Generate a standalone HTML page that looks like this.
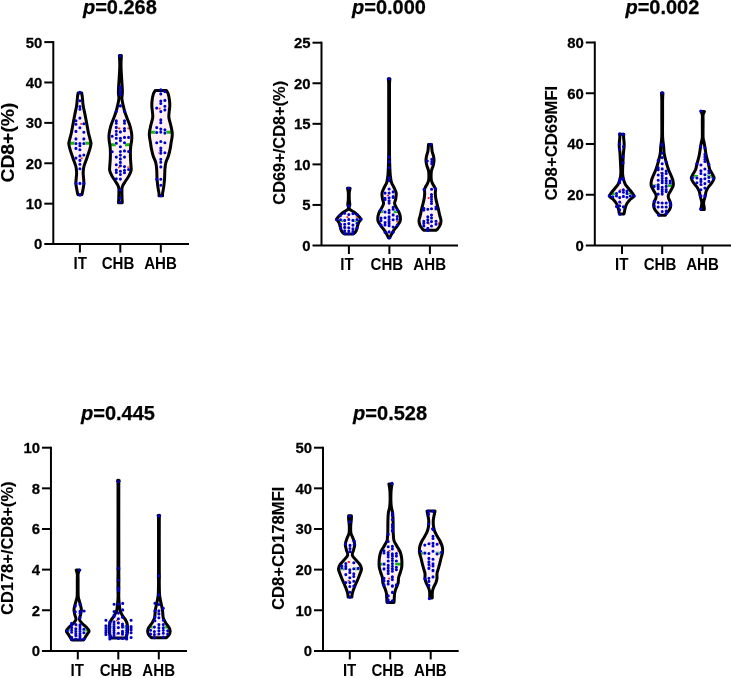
<!DOCTYPE html>
<html><head><meta charset="utf-8"><style>
html,body{margin:0;padding:0;background:#fff;width:731px;height:678px;overflow:hidden}
svg{filter:blur(0.3px)}
svg text{font-family:"Liberation Sans", sans-serif;fill:#000;stroke:#000;stroke-width:0.25px}
</style></head><body>
<svg width="731" height="678" viewBox="0 0 731 678" style="display:block">
<rect width="100%" height="100%" fill="#fff"/>
<path d="M53.3,41.1 V244.05" stroke="#000" stroke-width="2" fill="none"/>
<path d="M44.3,244.05 H189" stroke="#000" stroke-width="2" fill="none"/>
<text transform="translate(42.40,249.45) scale(0.975,1)" text-anchor="end" font-size="15.3" font-weight="bold">0</text>
<path d="M44.3,203.66 H53.3" stroke="#000" stroke-width="2"/>
<text transform="translate(42.40,209.06) scale(0.975,1)" text-anchor="end" font-size="15.3" font-weight="bold">10</text>
<path d="M44.3,163.27 H53.3" stroke="#000" stroke-width="2"/>
<text transform="translate(42.40,168.67) scale(0.975,1)" text-anchor="end" font-size="15.3" font-weight="bold">20</text>
<path d="M44.3,122.88 H53.3" stroke="#000" stroke-width="2"/>
<text transform="translate(42.40,128.28) scale(0.975,1)" text-anchor="end" font-size="15.3" font-weight="bold">30</text>
<path d="M44.3,82.49 H53.3" stroke="#000" stroke-width="2"/>
<text transform="translate(42.40,87.89) scale(0.975,1)" text-anchor="end" font-size="15.3" font-weight="bold">40</text>
<path d="M44.3,42.10 H53.3" stroke="#000" stroke-width="2"/>
<text transform="translate(42.40,47.50) scale(0.975,1)" text-anchor="end" font-size="15.3" font-weight="bold">50</text>
<path d="M79.9,244.05 V252.55" stroke="#000" stroke-width="2"/>
<text transform="translate(80.2,268.7) scale(0.95,1)" text-anchor="middle" font-size="15.9" font-weight="bold" style="stroke-width:0">IT</text>
<path d="M120.3,244.05 V252.55" stroke="#000" stroke-width="2"/>
<text transform="translate(118,268.7) scale(0.95,1)" text-anchor="middle" font-size="15.9" font-weight="bold" style="stroke-width:0">CHB</text>
<path d="M160.8,244.05 V252.55" stroke="#000" stroke-width="2"/>
<text transform="translate(160.5,268.7) scale(0.95,1)" text-anchor="middle" font-size="15.9" font-weight="bold" style="stroke-width:0">AHB</text>
<text x="119.9" y="14.4" text-anchor="middle" font-size="20" font-weight="bold"><tspan font-style="italic">p</tspan>=0.268</text>
<text transform="translate(14.0,142.55) rotate(-90)" text-anchor="middle" font-size="18.6" font-weight="bold" style="stroke-width:0.1px" textLength="80.0" lengthAdjust="spacingAndGlyphs">CD8+(%)</text>
<path d="M321.5,41.7 V245.5" stroke="#000" stroke-width="2" fill="none"/>
<path d="M312.5,245.5 H458" stroke="#000" stroke-width="2" fill="none"/>
<text transform="translate(310.60,250.90) scale(0.975,1)" text-anchor="end" font-size="15.3" font-weight="bold">0</text>
<path d="M312.5,204.94 H321.5" stroke="#000" stroke-width="2"/>
<text transform="translate(310.60,210.34) scale(0.975,1)" text-anchor="end" font-size="15.3" font-weight="bold">5</text>
<path d="M312.5,164.38 H321.5" stroke="#000" stroke-width="2"/>
<text transform="translate(310.60,169.78) scale(0.975,1)" text-anchor="end" font-size="15.3" font-weight="bold">10</text>
<path d="M312.5,123.82 H321.5" stroke="#000" stroke-width="2"/>
<text transform="translate(310.60,129.22) scale(0.975,1)" text-anchor="end" font-size="15.3" font-weight="bold">15</text>
<path d="M312.5,83.26 H321.5" stroke="#000" stroke-width="2"/>
<text transform="translate(310.60,88.66) scale(0.975,1)" text-anchor="end" font-size="15.3" font-weight="bold">20</text>
<path d="M312.5,42.70 H321.5" stroke="#000" stroke-width="2"/>
<text transform="translate(310.60,48.10) scale(0.975,1)" text-anchor="end" font-size="15.3" font-weight="bold">25</text>
<path d="M348.9,245.5 V254.0" stroke="#000" stroke-width="2"/>
<text transform="translate(347,269.9) scale(0.95,1)" text-anchor="middle" font-size="15.9" font-weight="bold" style="stroke-width:0">IT</text>
<path d="M389.4,245.5 V254.0" stroke="#000" stroke-width="2"/>
<text transform="translate(386.9,269.9) scale(0.95,1)" text-anchor="middle" font-size="15.9" font-weight="bold" style="stroke-width:0">CHB</text>
<path d="M429.9,245.5 V254.0" stroke="#000" stroke-width="2"/>
<text transform="translate(429.7,269.9) scale(0.95,1)" text-anchor="middle" font-size="15.9" font-weight="bold" style="stroke-width:0">AHB</text>
<text x="389.0" y="14.4" text-anchor="middle" font-size="20" font-weight="bold"><tspan font-style="italic">p</tspan>=0.000</text>
<text transform="translate(284.5,142.8) rotate(-90)" text-anchor="middle" font-size="15.9" font-weight="bold" style="stroke-width:0.1px" textLength="123.8" lengthAdjust="spacingAndGlyphs">CD69+/CD8+(%)</text>
<path d="M594.8,41.5 V245.5" stroke="#000" stroke-width="2" fill="none"/>
<path d="M585.8,245.5 H731" stroke="#000" stroke-width="2" fill="none"/>
<text transform="translate(583.90,250.90) scale(0.975,1)" text-anchor="end" font-size="15.3" font-weight="bold">0</text>
<path d="M585.8,194.75 H594.8" stroke="#000" stroke-width="2"/>
<text transform="translate(583.90,200.15) scale(0.975,1)" text-anchor="end" font-size="15.3" font-weight="bold">20</text>
<path d="M585.8,144.00 H594.8" stroke="#000" stroke-width="2"/>
<text transform="translate(583.90,149.40) scale(0.975,1)" text-anchor="end" font-size="15.3" font-weight="bold">40</text>
<path d="M585.8,93.25 H594.8" stroke="#000" stroke-width="2"/>
<text transform="translate(583.90,98.65) scale(0.975,1)" text-anchor="end" font-size="15.3" font-weight="bold">60</text>
<path d="M585.8,42.50 H594.8" stroke="#000" stroke-width="2"/>
<text transform="translate(583.90,47.90) scale(0.975,1)" text-anchor="end" font-size="15.3" font-weight="bold">80</text>
<path d="M622,245.5 V254.0" stroke="#000" stroke-width="2"/>
<text transform="translate(621.7,269.6) scale(0.95,1)" text-anchor="middle" font-size="15.9" font-weight="bold" style="stroke-width:0">IT</text>
<path d="M662.2,245.5 V254.0" stroke="#000" stroke-width="2"/>
<text transform="translate(660,269.6) scale(0.95,1)" text-anchor="middle" font-size="15.9" font-weight="bold" style="stroke-width:0">CHB</text>
<path d="M702.5,245.5 V254.0" stroke="#000" stroke-width="2"/>
<text transform="translate(702.5,269.6) scale(0.95,1)" text-anchor="middle" font-size="15.9" font-weight="bold" style="stroke-width:0">AHB</text>
<text x="662.4" y="14.4" text-anchor="middle" font-size="20" font-weight="bold"><tspan font-style="italic">p</tspan>=0.002</text>
<text transform="translate(556.6,143.15) rotate(-90)" text-anchor="middle" font-size="15.9" font-weight="bold" style="stroke-width:0.1px" textLength="114.8" lengthAdjust="spacingAndGlyphs">CD8+CD69MFI</text>
<path d="M50.95,446.7 V650.9" stroke="#000" stroke-width="2" fill="none"/>
<path d="M41.95,650.9 H187" stroke="#000" stroke-width="2" fill="none"/>
<text transform="translate(40.05,656.30) scale(0.975,1)" text-anchor="end" font-size="15.3" font-weight="bold">0</text>
<path d="M41.95,610.26 H50.95" stroke="#000" stroke-width="2"/>
<text transform="translate(40.05,615.66) scale(0.975,1)" text-anchor="end" font-size="15.3" font-weight="bold">2</text>
<path d="M41.95,569.62 H50.95" stroke="#000" stroke-width="2"/>
<text transform="translate(40.05,575.02) scale(0.975,1)" text-anchor="end" font-size="15.3" font-weight="bold">4</text>
<path d="M41.95,528.98 H50.95" stroke="#000" stroke-width="2"/>
<text transform="translate(40.05,534.38) scale(0.975,1)" text-anchor="end" font-size="15.3" font-weight="bold">6</text>
<path d="M41.95,488.34 H50.95" stroke="#000" stroke-width="2"/>
<text transform="translate(40.05,493.74) scale(0.975,1)" text-anchor="end" font-size="15.3" font-weight="bold">8</text>
<path d="M41.95,447.70 H50.95" stroke="#000" stroke-width="2"/>
<text transform="translate(40.05,453.10) scale(0.975,1)" text-anchor="end" font-size="15.3" font-weight="bold">10</text>
<path d="M77.8,650.9 V659.4" stroke="#000" stroke-width="2"/>
<text transform="translate(77.2,675.5) scale(0.95,1)" text-anchor="middle" font-size="15.9" font-weight="bold" style="stroke-width:0">IT</text>
<path d="M118.3,650.9 V659.4" stroke="#000" stroke-width="2"/>
<text transform="translate(116,675.5) scale(0.95,1)" text-anchor="middle" font-size="15.9" font-weight="bold" style="stroke-width:0">CHB</text>
<path d="M158.8,650.9 V659.4" stroke="#000" stroke-width="2"/>
<text transform="translate(158.7,675.5) scale(0.95,1)" text-anchor="middle" font-size="15.9" font-weight="bold" style="stroke-width:0">AHB</text>
<text x="118" y="420.3" text-anchor="middle" font-size="20" font-weight="bold"><tspan font-style="italic">p</tspan>=0.445</text>
<text transform="translate(12.7,548.25) rotate(-90)" text-anchor="middle" font-size="15.9" font-weight="bold" style="stroke-width:0.1px" textLength="133.5" lengthAdjust="spacingAndGlyphs">CD178+/CD8+(%)</text>
<path d="M323,446.7 V650.9" stroke="#000" stroke-width="2" fill="none"/>
<path d="M314,650.9 H458.7" stroke="#000" stroke-width="2" fill="none"/>
<text transform="translate(312.10,656.30) scale(0.975,1)" text-anchor="end" font-size="15.3" font-weight="bold">0</text>
<path d="M314,610.26 H323" stroke="#000" stroke-width="2"/>
<text transform="translate(312.10,615.66) scale(0.975,1)" text-anchor="end" font-size="15.3" font-weight="bold">10</text>
<path d="M314,569.62 H323" stroke="#000" stroke-width="2"/>
<text transform="translate(312.10,575.02) scale(0.975,1)" text-anchor="end" font-size="15.3" font-weight="bold">20</text>
<path d="M314,528.98 H323" stroke="#000" stroke-width="2"/>
<text transform="translate(312.10,534.38) scale(0.975,1)" text-anchor="end" font-size="15.3" font-weight="bold">30</text>
<path d="M314,488.34 H323" stroke="#000" stroke-width="2"/>
<text transform="translate(312.10,493.74) scale(0.975,1)" text-anchor="end" font-size="15.3" font-weight="bold">40</text>
<path d="M314,447.70 H323" stroke="#000" stroke-width="2"/>
<text transform="translate(312.10,453.10) scale(0.975,1)" text-anchor="end" font-size="15.3" font-weight="bold">50</text>
<path d="M349.8,650.9 V659.4" stroke="#000" stroke-width="2"/>
<text transform="translate(349.6,675.5) scale(0.95,1)" text-anchor="middle" font-size="15.9" font-weight="bold" style="stroke-width:0">IT</text>
<path d="M390.2,650.9 V659.4" stroke="#000" stroke-width="2"/>
<text transform="translate(387.8,675.5) scale(0.95,1)" text-anchor="middle" font-size="15.9" font-weight="bold" style="stroke-width:0">CHB</text>
<path d="M430.7,650.9 V659.4" stroke="#000" stroke-width="2"/>
<text transform="translate(430.4,675.5) scale(0.95,1)" text-anchor="middle" font-size="15.9" font-weight="bold" style="stroke-width:0">AHB</text>
<text x="390.1" y="420.3" text-anchor="middle" font-size="20" font-weight="bold"><tspan font-style="italic">p</tspan>=0.528</text>
<text transform="translate(284.3,548.3) rotate(-90)" text-anchor="middle" font-size="15.7" font-weight="bold" style="stroke-width:0.1px" textLength="123.6" lengthAdjust="spacingAndGlyphs">CD8+CD178MFI</text>
<path d="M81.70,92.90 C81.80,93.55 82.05,94.67 82.30,96.80 C82.55,98.93 82.75,102.75 83.20,105.70 C83.65,108.65 84.42,111.55 85.00,114.50 C85.58,117.45 86.15,120.45 86.70,123.40 C87.25,126.35 87.73,129.55 88.30,132.20 C88.87,134.85 89.65,137.42 90.10,139.30 C90.55,141.18 91.03,141.92 91.00,143.50 C90.97,145.08 90.57,146.43 89.90,148.80 C89.23,151.17 88.00,154.75 87.00,157.70 C86.00,160.65 84.53,164.00 83.90,166.50 C83.27,169.00 83.27,170.92 83.20,172.70 C83.13,174.48 83.38,175.42 83.50,177.20 C83.62,178.98 83.98,181.33 83.90,183.40 C83.82,185.47 83.30,187.83 83.00,189.60 C82.70,191.37 82.28,193.15 82.10,194.00 C81.92,194.85 81.93,194.58 81.90,194.70 L77.90,194.70 C77.87,194.58 77.88,194.85 77.70,194.00 C77.52,193.15 77.10,191.37 76.80,189.60 C76.50,187.83 75.98,185.47 75.90,183.40 C75.82,181.33 76.18,178.98 76.30,177.20 C76.42,175.42 76.67,174.48 76.60,172.70 C76.53,170.92 76.53,169.00 75.90,166.50 C75.27,164.00 73.80,160.65 72.80,157.70 C71.80,154.75 70.57,151.17 69.90,148.80 C69.23,146.43 68.83,145.08 68.80,143.50 C68.77,141.92 69.25,141.18 69.70,139.30 C70.15,137.42 70.93,134.85 71.50,132.20 C72.07,129.55 72.55,126.35 73.10,123.40 C73.65,120.45 74.22,117.45 74.80,114.50 C75.38,111.55 76.15,108.65 76.60,105.70 C77.05,102.75 77.25,98.93 77.50,96.80 C77.75,94.67 78.00,93.55 78.10,92.90 Z" fill="#fdeff2" stroke="none"/>
<path d="M73.03,123.8H73.30M80.40,123.8H82.60" stroke="#f01e23" stroke-width="1.8"/>
<path d="M73.05,158.4H73.30M80.40,158.4H82.60" stroke="#f01e23" stroke-width="1.8"/>
<path d="M68.84,143.3H75.30M84.50,143.3H90.96" stroke="#10b810" stroke-width="2.9"/>
<path d="M78.35,92.40a1.55,1.55 0 1,0 3.1,0a1.55,1.55 0 1,0 -3.1,0M78.35,100.80a1.55,1.55 0 1,0 3.1,0a1.55,1.55 0 1,0 -3.1,0M78.35,106.60a1.55,1.55 0 1,0 3.1,0a1.55,1.55 0 1,0 -3.1,0M78.35,109.20a1.55,1.55 0 1,0 3.1,0a1.55,1.55 0 1,0 -3.1,0M78.35,118.10a1.55,1.55 0 1,0 3.1,0a1.55,1.55 0 1,0 -3.1,0M74.40,120.70a1.55,1.55 0 1,0 3.1,0a1.55,1.55 0 1,0 -3.1,0M74.40,124.30a1.55,1.55 0 1,0 3.1,0a1.55,1.55 0 1,0 -3.1,0M82.30,123.80a1.55,1.55 0 1,0 3.1,0a1.55,1.55 0 1,0 -3.1,0M78.35,127.80a1.55,1.55 0 1,0 3.1,0a1.55,1.55 0 1,0 -3.1,0M74.40,131.40a1.55,1.55 0 1,0 3.1,0a1.55,1.55 0 1,0 -3.1,0M82.30,132.20a1.55,1.55 0 1,0 3.1,0a1.55,1.55 0 1,0 -3.1,0M74.40,138.90a1.55,1.55 0 1,0 3.1,0a1.55,1.55 0 1,0 -3.1,0M82.30,138.90a1.55,1.55 0 1,0 3.1,0a1.55,1.55 0 1,0 -3.1,0M74.40,143.50a1.55,1.55 0 1,0 3.1,0a1.55,1.55 0 1,0 -3.1,0M78.35,143.50a1.55,1.55 0 1,0 3.1,0a1.55,1.55 0 1,0 -3.1,0M82.30,143.50a1.55,1.55 0 1,0 3.1,0a1.55,1.55 0 1,0 -3.1,0M78.35,145.80a1.55,1.55 0 1,0 3.1,0a1.55,1.55 0 1,0 -3.1,0M74.40,148.40a1.55,1.55 0 1,0 3.1,0a1.55,1.55 0 1,0 -3.1,0M78.35,149.70a1.55,1.55 0 1,0 3.1,0a1.55,1.55 0 1,0 -3.1,0M78.35,155.90a1.55,1.55 0 1,0 3.1,0a1.55,1.55 0 1,0 -3.1,0M82.30,155.00a1.55,1.55 0 1,0 3.1,0a1.55,1.55 0 1,0 -3.1,0M74.40,158.10a1.55,1.55 0 1,0 3.1,0a1.55,1.55 0 1,0 -3.1,0M78.35,160.40a1.55,1.55 0 1,0 3.1,0a1.55,1.55 0 1,0 -3.1,0M78.35,164.30a1.55,1.55 0 1,0 3.1,0a1.55,1.55 0 1,0 -3.1,0M78.35,168.80a1.55,1.55 0 1,0 3.1,0a1.55,1.55 0 1,0 -3.1,0M74.40,183.40a1.55,1.55 0 1,0 3.1,0a1.55,1.55 0 1,0 -3.1,0M78.35,183.40a1.55,1.55 0 1,0 3.1,0a1.55,1.55 0 1,0 -3.1,0M82.30,183.40a1.55,1.55 0 1,0 3.1,0a1.55,1.55 0 1,0 -3.1,0M78.35,194.90a1.55,1.55 0 1,0 3.1,0a1.55,1.55 0 1,0 -3.1,0" fill="#fff" stroke="#fff" stroke-width="0.8"/>
<path d="M81.70,92.90 C81.80,93.55 82.05,94.67 82.30,96.80 C82.55,98.93 82.75,102.75 83.20,105.70 C83.65,108.65 84.42,111.55 85.00,114.50 C85.58,117.45 86.15,120.45 86.70,123.40 C87.25,126.35 87.73,129.55 88.30,132.20 C88.87,134.85 89.65,137.42 90.10,139.30 C90.55,141.18 91.03,141.92 91.00,143.50 C90.97,145.08 90.57,146.43 89.90,148.80 C89.23,151.17 88.00,154.75 87.00,157.70 C86.00,160.65 84.53,164.00 83.90,166.50 C83.27,169.00 83.27,170.92 83.20,172.70 C83.13,174.48 83.38,175.42 83.50,177.20 C83.62,178.98 83.98,181.33 83.90,183.40 C83.82,185.47 83.30,187.83 83.00,189.60 C82.70,191.37 82.28,193.15 82.10,194.00 C81.92,194.85 81.93,194.58 81.90,194.70 L77.90,194.70 C77.87,194.58 77.88,194.85 77.70,194.00 C77.52,193.15 77.10,191.37 76.80,189.60 C76.50,187.83 75.98,185.47 75.90,183.40 C75.82,181.33 76.18,178.98 76.30,177.20 C76.42,175.42 76.67,174.48 76.60,172.70 C76.53,170.92 76.53,169.00 75.90,166.50 C75.27,164.00 73.80,160.65 72.80,157.70 C71.80,154.75 70.57,151.17 69.90,148.80 C69.23,146.43 68.83,145.08 68.80,143.50 C68.77,141.92 69.25,141.18 69.70,139.30 C70.15,137.42 70.93,134.85 71.50,132.20 C72.07,129.55 72.55,126.35 73.10,123.40 C73.65,120.45 74.22,117.45 74.80,114.50 C75.38,111.55 76.15,108.65 76.60,105.70 C77.05,102.75 77.25,98.93 77.50,96.80 C77.75,94.67 78.00,93.55 78.10,92.90 Z" fill="none" stroke="#000" stroke-width="3.0" stroke-linejoin="round"/>
<path d="M78.35,92.40a1.55,1.55 0 1,0 3.1,0a1.55,1.55 0 1,0 -3.1,0M78.35,100.80a1.55,1.55 0 1,0 3.1,0a1.55,1.55 0 1,0 -3.1,0M78.35,106.60a1.55,1.55 0 1,0 3.1,0a1.55,1.55 0 1,0 -3.1,0M78.35,109.20a1.55,1.55 0 1,0 3.1,0a1.55,1.55 0 1,0 -3.1,0M78.35,118.10a1.55,1.55 0 1,0 3.1,0a1.55,1.55 0 1,0 -3.1,0M74.40,120.70a1.55,1.55 0 1,0 3.1,0a1.55,1.55 0 1,0 -3.1,0M74.40,124.30a1.55,1.55 0 1,0 3.1,0a1.55,1.55 0 1,0 -3.1,0M82.30,123.80a1.55,1.55 0 1,0 3.1,0a1.55,1.55 0 1,0 -3.1,0M78.35,127.80a1.55,1.55 0 1,0 3.1,0a1.55,1.55 0 1,0 -3.1,0M74.40,131.40a1.55,1.55 0 1,0 3.1,0a1.55,1.55 0 1,0 -3.1,0M82.30,132.20a1.55,1.55 0 1,0 3.1,0a1.55,1.55 0 1,0 -3.1,0M74.40,138.90a1.55,1.55 0 1,0 3.1,0a1.55,1.55 0 1,0 -3.1,0M82.30,138.90a1.55,1.55 0 1,0 3.1,0a1.55,1.55 0 1,0 -3.1,0M74.40,143.50a1.55,1.55 0 1,0 3.1,0a1.55,1.55 0 1,0 -3.1,0M78.35,143.50a1.55,1.55 0 1,0 3.1,0a1.55,1.55 0 1,0 -3.1,0M82.30,143.50a1.55,1.55 0 1,0 3.1,0a1.55,1.55 0 1,0 -3.1,0M78.35,145.80a1.55,1.55 0 1,0 3.1,0a1.55,1.55 0 1,0 -3.1,0M74.40,148.40a1.55,1.55 0 1,0 3.1,0a1.55,1.55 0 1,0 -3.1,0M78.35,149.70a1.55,1.55 0 1,0 3.1,0a1.55,1.55 0 1,0 -3.1,0M78.35,155.90a1.55,1.55 0 1,0 3.1,0a1.55,1.55 0 1,0 -3.1,0M82.30,155.00a1.55,1.55 0 1,0 3.1,0a1.55,1.55 0 1,0 -3.1,0M74.40,158.10a1.55,1.55 0 1,0 3.1,0a1.55,1.55 0 1,0 -3.1,0M78.35,160.40a1.55,1.55 0 1,0 3.1,0a1.55,1.55 0 1,0 -3.1,0M78.35,164.30a1.55,1.55 0 1,0 3.1,0a1.55,1.55 0 1,0 -3.1,0M78.35,168.80a1.55,1.55 0 1,0 3.1,0a1.55,1.55 0 1,0 -3.1,0M74.40,183.40a1.55,1.55 0 1,0 3.1,0a1.55,1.55 0 1,0 -3.1,0M78.35,183.40a1.55,1.55 0 1,0 3.1,0a1.55,1.55 0 1,0 -3.1,0M82.30,183.40a1.55,1.55 0 1,0 3.1,0a1.55,1.55 0 1,0 -3.1,0M78.35,194.90a1.55,1.55 0 1,0 3.1,0a1.55,1.55 0 1,0 -3.1,0" fill="#0000cc"/>
<path d="M121.40,55.40 C121.33,57.12 120.97,62.02 121.00,65.70 C121.03,69.38 121.40,73.97 121.60,77.50 C121.80,81.03 122.07,84.35 122.20,86.90 C122.33,89.45 122.45,90.83 122.40,92.80 C122.35,94.77 121.75,96.52 121.90,98.70 C122.05,100.88 122.82,103.72 123.30,105.90 C123.78,108.08 124.20,109.83 124.80,111.80 C125.40,113.77 126.17,115.73 126.90,117.70 C127.63,119.67 128.53,121.63 129.20,123.60 C129.87,125.57 130.47,127.53 130.90,129.50 C131.33,131.47 131.68,133.50 131.80,135.40 C131.92,137.30 131.78,139.00 131.60,140.90 C131.42,142.80 130.90,144.83 130.70,146.80 C130.50,148.77 130.43,150.73 130.40,152.70 C130.37,154.67 130.42,156.63 130.50,158.60 C130.58,160.57 130.80,162.53 130.90,164.50 C131.00,166.47 131.43,168.50 131.10,170.40 C130.77,172.30 129.90,174.00 128.90,175.90 C127.90,177.80 126.18,180.03 125.10,181.80 C124.02,183.57 122.93,185.03 122.40,186.50 C121.87,187.97 121.95,188.43 121.90,190.60 C121.85,192.77 122.03,197.48 122.10,199.50 C122.17,201.52 122.27,202.17 122.30,202.70 L118.50,202.70 C118.53,202.17 118.63,201.52 118.70,199.50 C118.77,197.48 118.95,192.77 118.90,190.60 C118.85,188.43 118.93,187.97 118.40,186.50 C117.87,185.03 116.78,183.57 115.70,181.80 C114.62,180.03 112.90,177.80 111.90,175.90 C110.90,174.00 110.03,172.30 109.70,170.40 C109.37,168.50 109.80,166.47 109.90,164.50 C110.00,162.53 110.22,160.57 110.30,158.60 C110.38,156.63 110.43,154.67 110.40,152.70 C110.37,150.73 110.30,148.77 110.10,146.80 C109.90,144.83 109.38,142.80 109.20,140.90 C109.02,139.00 108.88,137.30 109.00,135.40 C109.12,133.50 109.47,131.47 109.90,129.50 C110.33,127.53 110.93,125.57 111.60,123.60 C112.27,121.63 113.17,119.67 113.90,117.70 C114.63,115.73 115.40,113.77 116.00,111.80 C116.60,109.83 117.02,108.08 117.50,105.90 C117.98,103.72 118.75,100.88 118.90,98.70 C119.05,96.52 118.45,94.77 118.40,92.80 C118.35,90.83 118.47,89.45 118.60,86.90 C118.73,84.35 119.00,81.03 119.20,77.50 C119.40,73.97 119.77,69.38 119.80,65.70 C119.83,62.02 119.47,57.12 119.40,55.40 Z" fill="#fdeff2" stroke="none"/>
<path d="M110.25,128.3H111.00M118.10,128.3H120.30M127.40,128.3H129.60" stroke="#f01e23" stroke-width="1.8"/>
<path d="M109.80,167.4H111.00M118.10,167.4H120.30M127.40,167.4H129.60" stroke="#f01e23" stroke-width="1.8"/>
<path d="M109.78,144.7H115.80M125.00,144.7H131.02" stroke="#10b810" stroke-width="2.9"/>
<path d="M118.85,56.00a1.55,1.55 0 1,0 3.1,0a1.55,1.55 0 1,0 -3.1,0M118.85,86.90a1.55,1.55 0 1,0 3.1,0a1.55,1.55 0 1,0 -3.1,0M118.85,89.30a1.55,1.55 0 1,0 3.1,0a1.55,1.55 0 1,0 -3.1,0M118.85,92.20a1.55,1.55 0 1,0 3.1,0a1.55,1.55 0 1,0 -3.1,0M118.85,94.60a1.55,1.55 0 1,0 3.1,0a1.55,1.55 0 1,0 -3.1,0M118.85,105.90a1.55,1.55 0 1,0 3.1,0a1.55,1.55 0 1,0 -3.1,0M114.75,111.20a1.55,1.55 0 1,0 3.1,0a1.55,1.55 0 1,0 -3.1,0M122.95,111.50a1.55,1.55 0 1,0 3.1,0a1.55,1.55 0 1,0 -3.1,0M114.75,120.90a1.55,1.55 0 1,0 3.1,0a1.55,1.55 0 1,0 -3.1,0M114.75,123.30a1.55,1.55 0 1,0 3.1,0a1.55,1.55 0 1,0 -3.1,0M122.95,120.90a1.55,1.55 0 1,0 3.1,0a1.55,1.55 0 1,0 -3.1,0M122.95,123.30a1.55,1.55 0 1,0 3.1,0a1.55,1.55 0 1,0 -3.1,0M114.75,127.40a1.55,1.55 0 1,0 3.1,0a1.55,1.55 0 1,0 -3.1,0M122.95,128.60a1.55,1.55 0 1,0 3.1,0a1.55,1.55 0 1,0 -3.1,0M122.95,130.70a1.55,1.55 0 1,0 3.1,0a1.55,1.55 0 1,0 -3.1,0M118.85,131.90a1.55,1.55 0 1,0 3.1,0a1.55,1.55 0 1,0 -3.1,0M114.75,131.30a1.55,1.55 0 1,0 3.1,0a1.55,1.55 0 1,0 -3.1,0M114.75,134.50a1.55,1.55 0 1,0 3.1,0a1.55,1.55 0 1,0 -3.1,0M110.65,136.20a1.55,1.55 0 1,0 3.1,0a1.55,1.55 0 1,0 -3.1,0M114.75,138.20a1.55,1.55 0 1,0 3.1,0a1.55,1.55 0 1,0 -3.1,0M118.85,138.20a1.55,1.55 0 1,0 3.1,0a1.55,1.55 0 1,0 -3.1,0M118.85,140.60a1.55,1.55 0 1,0 3.1,0a1.55,1.55 0 1,0 -3.1,0M122.95,137.40a1.55,1.55 0 1,0 3.1,0a1.55,1.55 0 1,0 -3.1,0M127.05,137.40a1.55,1.55 0 1,0 3.1,0a1.55,1.55 0 1,0 -3.1,0M114.75,143.30a1.55,1.55 0 1,0 3.1,0a1.55,1.55 0 1,0 -3.1,0M122.95,142.70a1.55,1.55 0 1,0 3.1,0a1.55,1.55 0 1,0 -3.1,0M118.85,146.80a1.55,1.55 0 1,0 3.1,0a1.55,1.55 0 1,0 -3.1,0M110.65,151.80a1.55,1.55 0 1,0 3.1,0a1.55,1.55 0 1,0 -3.1,0M118.85,151.50a1.55,1.55 0 1,0 3.1,0a1.55,1.55 0 1,0 -3.1,0M122.95,150.90a1.55,1.55 0 1,0 3.1,0a1.55,1.55 0 1,0 -3.1,0M127.05,151.50a1.55,1.55 0 1,0 3.1,0a1.55,1.55 0 1,0 -3.1,0M118.85,155.10a1.55,1.55 0 1,0 3.1,0a1.55,1.55 0 1,0 -3.1,0M114.75,157.10a1.55,1.55 0 1,0 3.1,0a1.55,1.55 0 1,0 -3.1,0M122.95,157.10a1.55,1.55 0 1,0 3.1,0a1.55,1.55 0 1,0 -3.1,0M118.85,158.90a1.55,1.55 0 1,0 3.1,0a1.55,1.55 0 1,0 -3.1,0M118.85,162.40a1.55,1.55 0 1,0 3.1,0a1.55,1.55 0 1,0 -3.1,0M114.75,164.80a1.55,1.55 0 1,0 3.1,0a1.55,1.55 0 1,0 -3.1,0M118.85,165.70a1.55,1.55 0 1,0 3.1,0a1.55,1.55 0 1,0 -3.1,0M122.95,166.60a1.55,1.55 0 1,0 3.1,0a1.55,1.55 0 1,0 -3.1,0M127.05,169.50a1.55,1.55 0 1,0 3.1,0a1.55,1.55 0 1,0 -3.1,0M114.75,170.10a1.55,1.55 0 1,0 3.1,0a1.55,1.55 0 1,0 -3.1,0M118.85,171.30a1.55,1.55 0 1,0 3.1,0a1.55,1.55 0 1,0 -3.1,0M122.95,170.40a1.55,1.55 0 1,0 3.1,0a1.55,1.55 0 1,0 -3.1,0M114.75,172.50a1.55,1.55 0 1,0 3.1,0a1.55,1.55 0 1,0 -3.1,0M122.95,172.80a1.55,1.55 0 1,0 3.1,0a1.55,1.55 0 1,0 -3.1,0M118.85,174.50a1.55,1.55 0 1,0 3.1,0a1.55,1.55 0 1,0 -3.1,0M114.75,178.80a1.55,1.55 0 1,0 3.1,0a1.55,1.55 0 1,0 -3.1,0M118.85,179.10a1.55,1.55 0 1,0 3.1,0a1.55,1.55 0 1,0 -3.1,0M118.85,190.10a1.55,1.55 0 1,0 3.1,0a1.55,1.55 0 1,0 -3.1,0M118.85,198.00a1.55,1.55 0 1,0 3.1,0a1.55,1.55 0 1,0 -3.1,0M118.85,202.20a1.55,1.55 0 1,0 3.1,0a1.55,1.55 0 1,0 -3.1,0" fill="#fff" stroke="#fff" stroke-width="0.8"/>
<path d="M121.40,55.40 C121.33,57.12 120.97,62.02 121.00,65.70 C121.03,69.38 121.40,73.97 121.60,77.50 C121.80,81.03 122.07,84.35 122.20,86.90 C122.33,89.45 122.45,90.83 122.40,92.80 C122.35,94.77 121.75,96.52 121.90,98.70 C122.05,100.88 122.82,103.72 123.30,105.90 C123.78,108.08 124.20,109.83 124.80,111.80 C125.40,113.77 126.17,115.73 126.90,117.70 C127.63,119.67 128.53,121.63 129.20,123.60 C129.87,125.57 130.47,127.53 130.90,129.50 C131.33,131.47 131.68,133.50 131.80,135.40 C131.92,137.30 131.78,139.00 131.60,140.90 C131.42,142.80 130.90,144.83 130.70,146.80 C130.50,148.77 130.43,150.73 130.40,152.70 C130.37,154.67 130.42,156.63 130.50,158.60 C130.58,160.57 130.80,162.53 130.90,164.50 C131.00,166.47 131.43,168.50 131.10,170.40 C130.77,172.30 129.90,174.00 128.90,175.90 C127.90,177.80 126.18,180.03 125.10,181.80 C124.02,183.57 122.93,185.03 122.40,186.50 C121.87,187.97 121.95,188.43 121.90,190.60 C121.85,192.77 122.03,197.48 122.10,199.50 C122.17,201.52 122.27,202.17 122.30,202.70 L118.50,202.70 C118.53,202.17 118.63,201.52 118.70,199.50 C118.77,197.48 118.95,192.77 118.90,190.60 C118.85,188.43 118.93,187.97 118.40,186.50 C117.87,185.03 116.78,183.57 115.70,181.80 C114.62,180.03 112.90,177.80 111.90,175.90 C110.90,174.00 110.03,172.30 109.70,170.40 C109.37,168.50 109.80,166.47 109.90,164.50 C110.00,162.53 110.22,160.57 110.30,158.60 C110.38,156.63 110.43,154.67 110.40,152.70 C110.37,150.73 110.30,148.77 110.10,146.80 C109.90,144.83 109.38,142.80 109.20,140.90 C109.02,139.00 108.88,137.30 109.00,135.40 C109.12,133.50 109.47,131.47 109.90,129.50 C110.33,127.53 110.93,125.57 111.60,123.60 C112.27,121.63 113.17,119.67 113.90,117.70 C114.63,115.73 115.40,113.77 116.00,111.80 C116.60,109.83 117.02,108.08 117.50,105.90 C117.98,103.72 118.75,100.88 118.90,98.70 C119.05,96.52 118.45,94.77 118.40,92.80 C118.35,90.83 118.47,89.45 118.60,86.90 C118.73,84.35 119.00,81.03 119.20,77.50 C119.40,73.97 119.77,69.38 119.80,65.70 C119.83,62.02 119.47,57.12 119.40,55.40 Z" fill="none" stroke="#000" stroke-width="3.0" stroke-linejoin="round"/>
<path d="M118.85,56.00a1.55,1.55 0 1,0 3.1,0a1.55,1.55 0 1,0 -3.1,0M118.85,86.90a1.55,1.55 0 1,0 3.1,0a1.55,1.55 0 1,0 -3.1,0M118.85,89.30a1.55,1.55 0 1,0 3.1,0a1.55,1.55 0 1,0 -3.1,0M118.85,92.20a1.55,1.55 0 1,0 3.1,0a1.55,1.55 0 1,0 -3.1,0M118.85,94.60a1.55,1.55 0 1,0 3.1,0a1.55,1.55 0 1,0 -3.1,0M118.85,105.90a1.55,1.55 0 1,0 3.1,0a1.55,1.55 0 1,0 -3.1,0M114.75,111.20a1.55,1.55 0 1,0 3.1,0a1.55,1.55 0 1,0 -3.1,0M122.95,111.50a1.55,1.55 0 1,0 3.1,0a1.55,1.55 0 1,0 -3.1,0M114.75,120.90a1.55,1.55 0 1,0 3.1,0a1.55,1.55 0 1,0 -3.1,0M114.75,123.30a1.55,1.55 0 1,0 3.1,0a1.55,1.55 0 1,0 -3.1,0M122.95,120.90a1.55,1.55 0 1,0 3.1,0a1.55,1.55 0 1,0 -3.1,0M122.95,123.30a1.55,1.55 0 1,0 3.1,0a1.55,1.55 0 1,0 -3.1,0M114.75,127.40a1.55,1.55 0 1,0 3.1,0a1.55,1.55 0 1,0 -3.1,0M122.95,128.60a1.55,1.55 0 1,0 3.1,0a1.55,1.55 0 1,0 -3.1,0M122.95,130.70a1.55,1.55 0 1,0 3.1,0a1.55,1.55 0 1,0 -3.1,0M118.85,131.90a1.55,1.55 0 1,0 3.1,0a1.55,1.55 0 1,0 -3.1,0M114.75,131.30a1.55,1.55 0 1,0 3.1,0a1.55,1.55 0 1,0 -3.1,0M114.75,134.50a1.55,1.55 0 1,0 3.1,0a1.55,1.55 0 1,0 -3.1,0M110.65,136.20a1.55,1.55 0 1,0 3.1,0a1.55,1.55 0 1,0 -3.1,0M114.75,138.20a1.55,1.55 0 1,0 3.1,0a1.55,1.55 0 1,0 -3.1,0M118.85,138.20a1.55,1.55 0 1,0 3.1,0a1.55,1.55 0 1,0 -3.1,0M118.85,140.60a1.55,1.55 0 1,0 3.1,0a1.55,1.55 0 1,0 -3.1,0M122.95,137.40a1.55,1.55 0 1,0 3.1,0a1.55,1.55 0 1,0 -3.1,0M127.05,137.40a1.55,1.55 0 1,0 3.1,0a1.55,1.55 0 1,0 -3.1,0M114.75,143.30a1.55,1.55 0 1,0 3.1,0a1.55,1.55 0 1,0 -3.1,0M122.95,142.70a1.55,1.55 0 1,0 3.1,0a1.55,1.55 0 1,0 -3.1,0M118.85,146.80a1.55,1.55 0 1,0 3.1,0a1.55,1.55 0 1,0 -3.1,0M110.65,151.80a1.55,1.55 0 1,0 3.1,0a1.55,1.55 0 1,0 -3.1,0M118.85,151.50a1.55,1.55 0 1,0 3.1,0a1.55,1.55 0 1,0 -3.1,0M122.95,150.90a1.55,1.55 0 1,0 3.1,0a1.55,1.55 0 1,0 -3.1,0M127.05,151.50a1.55,1.55 0 1,0 3.1,0a1.55,1.55 0 1,0 -3.1,0M118.85,155.10a1.55,1.55 0 1,0 3.1,0a1.55,1.55 0 1,0 -3.1,0M114.75,157.10a1.55,1.55 0 1,0 3.1,0a1.55,1.55 0 1,0 -3.1,0M122.95,157.10a1.55,1.55 0 1,0 3.1,0a1.55,1.55 0 1,0 -3.1,0M118.85,158.90a1.55,1.55 0 1,0 3.1,0a1.55,1.55 0 1,0 -3.1,0M118.85,162.40a1.55,1.55 0 1,0 3.1,0a1.55,1.55 0 1,0 -3.1,0M114.75,164.80a1.55,1.55 0 1,0 3.1,0a1.55,1.55 0 1,0 -3.1,0M118.85,165.70a1.55,1.55 0 1,0 3.1,0a1.55,1.55 0 1,0 -3.1,0M122.95,166.60a1.55,1.55 0 1,0 3.1,0a1.55,1.55 0 1,0 -3.1,0M127.05,169.50a1.55,1.55 0 1,0 3.1,0a1.55,1.55 0 1,0 -3.1,0M114.75,170.10a1.55,1.55 0 1,0 3.1,0a1.55,1.55 0 1,0 -3.1,0M118.85,171.30a1.55,1.55 0 1,0 3.1,0a1.55,1.55 0 1,0 -3.1,0M122.95,170.40a1.55,1.55 0 1,0 3.1,0a1.55,1.55 0 1,0 -3.1,0M114.75,172.50a1.55,1.55 0 1,0 3.1,0a1.55,1.55 0 1,0 -3.1,0M122.95,172.80a1.55,1.55 0 1,0 3.1,0a1.55,1.55 0 1,0 -3.1,0M118.85,174.50a1.55,1.55 0 1,0 3.1,0a1.55,1.55 0 1,0 -3.1,0M114.75,178.80a1.55,1.55 0 1,0 3.1,0a1.55,1.55 0 1,0 -3.1,0M118.85,179.10a1.55,1.55 0 1,0 3.1,0a1.55,1.55 0 1,0 -3.1,0M118.85,190.10a1.55,1.55 0 1,0 3.1,0a1.55,1.55 0 1,0 -3.1,0M118.85,198.00a1.55,1.55 0 1,0 3.1,0a1.55,1.55 0 1,0 -3.1,0M118.85,202.20a1.55,1.55 0 1,0 3.1,0a1.55,1.55 0 1,0 -3.1,0" fill="#0000cc"/>
<path d="M166.40,90.50 C166.70,91.07 167.70,92.35 168.20,93.90 C168.70,95.45 169.13,97.83 169.40,99.80 C169.67,101.77 169.83,103.73 169.80,105.70 C169.77,107.67 169.35,109.63 169.20,111.60 C169.05,113.57 168.62,115.13 168.90,117.50 C169.18,119.87 170.35,123.30 170.90,125.80 C171.45,128.30 172.00,130.67 172.20,132.50 C172.40,134.33 172.28,135.10 172.10,136.80 C171.92,138.50 171.42,140.73 171.10,142.70 C170.78,144.67 170.63,146.43 170.20,148.60 C169.77,150.77 169.23,153.33 168.50,155.70 C167.77,158.07 166.40,160.45 165.80,162.80 C165.20,165.15 165.10,167.25 164.90,169.80 C164.70,172.35 164.78,175.33 164.60,178.10 C164.42,180.87 164.13,183.85 163.80,186.40 C163.47,188.95 162.80,191.85 162.60,193.40 C162.40,194.95 162.60,195.32 162.60,195.70 L159.00,195.70 C159.00,195.32 159.20,194.95 159.00,193.40 C158.80,191.85 158.13,188.95 157.80,186.40 C157.47,183.85 157.18,180.87 157.00,178.10 C156.82,175.33 156.90,172.35 156.70,169.80 C156.50,167.25 156.40,165.15 155.80,162.80 C155.20,160.45 153.83,158.07 153.10,155.70 C152.37,153.33 151.83,150.77 151.40,148.60 C150.97,146.43 150.82,144.67 150.50,142.70 C150.18,140.73 149.68,138.50 149.50,136.80 C149.32,135.10 149.20,134.33 149.40,132.50 C149.60,130.67 150.15,128.30 150.70,125.80 C151.25,123.30 152.42,119.87 152.70,117.50 C152.98,115.13 152.55,113.57 152.40,111.60 C152.25,109.63 151.83,107.67 151.80,105.70 C151.77,103.73 151.93,101.77 152.20,99.80 C152.47,97.83 152.90,95.45 153.40,93.90 C153.90,92.35 154.90,91.07 155.20,90.50 Z" fill="#fdeff2" stroke="none"/>
<path d="M158.50,108.7H160.70M167.80,108.7H169.49" stroke="#f01e23" stroke-width="1.8"/>
<path d="M158.50,153H160.70M167.80,153H169.15" stroke="#f01e23" stroke-width="1.8"/>
<path d="M149.44,132.3H156.20M165.40,132.3H172.16" stroke="#10b810" stroke-width="2.9"/>
<path d="M159.25,89.80a1.55,1.55 0 1,0 3.1,0a1.55,1.55 0 1,0 -3.1,0M163.35,91.60a1.55,1.55 0 1,0 3.1,0a1.55,1.55 0 1,0 -3.1,0M159.25,93.90a1.55,1.55 0 1,0 3.1,0a1.55,1.55 0 1,0 -3.1,0M159.25,101.00a1.55,1.55 0 1,0 3.1,0a1.55,1.55 0 1,0 -3.1,0M163.35,100.40a1.55,1.55 0 1,0 3.1,0a1.55,1.55 0 1,0 -3.1,0M159.25,103.40a1.55,1.55 0 1,0 3.1,0a1.55,1.55 0 1,0 -3.1,0M155.15,108.10a1.55,1.55 0 1,0 3.1,0a1.55,1.55 0 1,0 -3.1,0M163.35,106.30a1.55,1.55 0 1,0 3.1,0a1.55,1.55 0 1,0 -3.1,0M163.35,109.90a1.55,1.55 0 1,0 3.1,0a1.55,1.55 0 1,0 -3.1,0M159.25,111.60a1.55,1.55 0 1,0 3.1,0a1.55,1.55 0 1,0 -3.1,0M159.25,119.90a1.55,1.55 0 1,0 3.1,0a1.55,1.55 0 1,0 -3.1,0M159.25,122.80a1.55,1.55 0 1,0 3.1,0a1.55,1.55 0 1,0 -3.1,0M155.15,127.60a1.55,1.55 0 1,0 3.1,0a1.55,1.55 0 1,0 -3.1,0M159.25,129.00a1.55,1.55 0 1,0 3.1,0a1.55,1.55 0 1,0 -3.1,0M163.35,129.70a1.55,1.55 0 1,0 3.1,0a1.55,1.55 0 1,0 -3.1,0M155.15,132.50a1.55,1.55 0 1,0 3.1,0a1.55,1.55 0 1,0 -3.1,0M159.25,132.10a1.55,1.55 0 1,0 3.1,0a1.55,1.55 0 1,0 -3.1,0M163.35,133.10a1.55,1.55 0 1,0 3.1,0a1.55,1.55 0 1,0 -3.1,0M155.15,142.70a1.55,1.55 0 1,0 3.1,0a1.55,1.55 0 1,0 -3.1,0M159.25,141.50a1.55,1.55 0 1,0 3.1,0a1.55,1.55 0 1,0 -3.1,0M163.35,142.70a1.55,1.55 0 1,0 3.1,0a1.55,1.55 0 1,0 -3.1,0M159.25,148.00a1.55,1.55 0 1,0 3.1,0a1.55,1.55 0 1,0 -3.1,0M159.25,150.40a1.55,1.55 0 1,0 3.1,0a1.55,1.55 0 1,0 -3.1,0M159.25,153.30a1.55,1.55 0 1,0 3.1,0a1.55,1.55 0 1,0 -3.1,0M163.35,152.70a1.55,1.55 0 1,0 3.1,0a1.55,1.55 0 1,0 -3.1,0M159.25,159.20a1.55,1.55 0 1,0 3.1,0a1.55,1.55 0 1,0 -3.1,0M159.25,162.20a1.55,1.55 0 1,0 3.1,0a1.55,1.55 0 1,0 -3.1,0M159.25,166.90a1.55,1.55 0 1,0 3.1,0a1.55,1.55 0 1,0 -3.1,0M155.15,179.30a1.55,1.55 0 1,0 3.1,0a1.55,1.55 0 1,0 -3.1,0M159.25,179.30a1.55,1.55 0 1,0 3.1,0a1.55,1.55 0 1,0 -3.1,0M159.25,185.20a1.55,1.55 0 1,0 3.1,0a1.55,1.55 0 1,0 -3.1,0M159.25,195.80a1.55,1.55 0 1,0 3.1,0a1.55,1.55 0 1,0 -3.1,0" fill="#fff" stroke="#fff" stroke-width="0.8"/>
<path d="M166.40,90.50 C166.70,91.07 167.70,92.35 168.20,93.90 C168.70,95.45 169.13,97.83 169.40,99.80 C169.67,101.77 169.83,103.73 169.80,105.70 C169.77,107.67 169.35,109.63 169.20,111.60 C169.05,113.57 168.62,115.13 168.90,117.50 C169.18,119.87 170.35,123.30 170.90,125.80 C171.45,128.30 172.00,130.67 172.20,132.50 C172.40,134.33 172.28,135.10 172.10,136.80 C171.92,138.50 171.42,140.73 171.10,142.70 C170.78,144.67 170.63,146.43 170.20,148.60 C169.77,150.77 169.23,153.33 168.50,155.70 C167.77,158.07 166.40,160.45 165.80,162.80 C165.20,165.15 165.10,167.25 164.90,169.80 C164.70,172.35 164.78,175.33 164.60,178.10 C164.42,180.87 164.13,183.85 163.80,186.40 C163.47,188.95 162.80,191.85 162.60,193.40 C162.40,194.95 162.60,195.32 162.60,195.70 L159.00,195.70 C159.00,195.32 159.20,194.95 159.00,193.40 C158.80,191.85 158.13,188.95 157.80,186.40 C157.47,183.85 157.18,180.87 157.00,178.10 C156.82,175.33 156.90,172.35 156.70,169.80 C156.50,167.25 156.40,165.15 155.80,162.80 C155.20,160.45 153.83,158.07 153.10,155.70 C152.37,153.33 151.83,150.77 151.40,148.60 C150.97,146.43 150.82,144.67 150.50,142.70 C150.18,140.73 149.68,138.50 149.50,136.80 C149.32,135.10 149.20,134.33 149.40,132.50 C149.60,130.67 150.15,128.30 150.70,125.80 C151.25,123.30 152.42,119.87 152.70,117.50 C152.98,115.13 152.55,113.57 152.40,111.60 C152.25,109.63 151.83,107.67 151.80,105.70 C151.77,103.73 151.93,101.77 152.20,99.80 C152.47,97.83 152.90,95.45 153.40,93.90 C153.90,92.35 154.90,91.07 155.20,90.50 Z" fill="none" stroke="#000" stroke-width="3.0" stroke-linejoin="round"/>
<path d="M159.25,89.80a1.55,1.55 0 1,0 3.1,0a1.55,1.55 0 1,0 -3.1,0M163.35,91.60a1.55,1.55 0 1,0 3.1,0a1.55,1.55 0 1,0 -3.1,0M159.25,93.90a1.55,1.55 0 1,0 3.1,0a1.55,1.55 0 1,0 -3.1,0M159.25,101.00a1.55,1.55 0 1,0 3.1,0a1.55,1.55 0 1,0 -3.1,0M163.35,100.40a1.55,1.55 0 1,0 3.1,0a1.55,1.55 0 1,0 -3.1,0M159.25,103.40a1.55,1.55 0 1,0 3.1,0a1.55,1.55 0 1,0 -3.1,0M155.15,108.10a1.55,1.55 0 1,0 3.1,0a1.55,1.55 0 1,0 -3.1,0M163.35,106.30a1.55,1.55 0 1,0 3.1,0a1.55,1.55 0 1,0 -3.1,0M163.35,109.90a1.55,1.55 0 1,0 3.1,0a1.55,1.55 0 1,0 -3.1,0M159.25,111.60a1.55,1.55 0 1,0 3.1,0a1.55,1.55 0 1,0 -3.1,0M159.25,119.90a1.55,1.55 0 1,0 3.1,0a1.55,1.55 0 1,0 -3.1,0M159.25,122.80a1.55,1.55 0 1,0 3.1,0a1.55,1.55 0 1,0 -3.1,0M155.15,127.60a1.55,1.55 0 1,0 3.1,0a1.55,1.55 0 1,0 -3.1,0M159.25,129.00a1.55,1.55 0 1,0 3.1,0a1.55,1.55 0 1,0 -3.1,0M163.35,129.70a1.55,1.55 0 1,0 3.1,0a1.55,1.55 0 1,0 -3.1,0M155.15,132.50a1.55,1.55 0 1,0 3.1,0a1.55,1.55 0 1,0 -3.1,0M159.25,132.10a1.55,1.55 0 1,0 3.1,0a1.55,1.55 0 1,0 -3.1,0M163.35,133.10a1.55,1.55 0 1,0 3.1,0a1.55,1.55 0 1,0 -3.1,0M155.15,142.70a1.55,1.55 0 1,0 3.1,0a1.55,1.55 0 1,0 -3.1,0M159.25,141.50a1.55,1.55 0 1,0 3.1,0a1.55,1.55 0 1,0 -3.1,0M163.35,142.70a1.55,1.55 0 1,0 3.1,0a1.55,1.55 0 1,0 -3.1,0M159.25,148.00a1.55,1.55 0 1,0 3.1,0a1.55,1.55 0 1,0 -3.1,0M159.25,150.40a1.55,1.55 0 1,0 3.1,0a1.55,1.55 0 1,0 -3.1,0M159.25,153.30a1.55,1.55 0 1,0 3.1,0a1.55,1.55 0 1,0 -3.1,0M163.35,152.70a1.55,1.55 0 1,0 3.1,0a1.55,1.55 0 1,0 -3.1,0M159.25,159.20a1.55,1.55 0 1,0 3.1,0a1.55,1.55 0 1,0 -3.1,0M159.25,162.20a1.55,1.55 0 1,0 3.1,0a1.55,1.55 0 1,0 -3.1,0M159.25,166.90a1.55,1.55 0 1,0 3.1,0a1.55,1.55 0 1,0 -3.1,0M155.15,179.30a1.55,1.55 0 1,0 3.1,0a1.55,1.55 0 1,0 -3.1,0M159.25,179.30a1.55,1.55 0 1,0 3.1,0a1.55,1.55 0 1,0 -3.1,0M159.25,185.20a1.55,1.55 0 1,0 3.1,0a1.55,1.55 0 1,0 -3.1,0M159.25,195.80a1.55,1.55 0 1,0 3.1,0a1.55,1.55 0 1,0 -3.1,0" fill="#0000cc"/>
<path d="M350.10,188.30 C349.97,189.00 349.43,190.62 349.30,192.50 C349.17,194.38 349.22,197.57 349.30,199.60 C349.38,201.63 349.82,203.17 349.80,204.70 C349.78,206.23 348.58,207.62 349.20,208.80 C349.82,209.98 352.18,210.82 353.50,211.80 C354.82,212.78 356.02,213.72 357.10,214.70 C358.18,215.68 359.37,216.90 360.00,217.70 C360.63,218.50 361.10,218.72 360.90,219.50 C360.70,220.28 359.38,221.23 358.80,222.40 C358.22,223.57 357.83,225.12 357.40,226.50 C356.97,227.88 356.80,229.52 356.20,230.70 C355.60,231.88 354.40,233.07 353.80,233.60 C353.20,234.13 352.80,233.85 352.60,233.90 L345.00,233.90 C344.80,233.85 344.40,234.13 343.80,233.60 C343.20,233.07 342.00,231.88 341.40,230.70 C340.80,229.52 340.63,227.88 340.20,226.50 C339.77,225.12 339.38,223.57 338.80,222.40 C338.22,221.23 336.90,220.28 336.70,219.50 C336.50,218.72 336.97,218.50 337.60,217.70 C338.23,216.90 339.42,215.68 340.50,214.70 C341.58,213.72 342.78,212.78 344.10,211.80 C345.42,210.82 347.78,209.98 348.40,208.80 C349.02,207.62 347.82,206.23 347.80,204.70 C347.78,203.17 348.22,201.63 348.30,199.60 C348.38,197.57 348.43,194.38 348.30,192.50 C348.17,190.62 347.63,189.00 347.50,188.30 Z" fill="#fdeff2" stroke="none"/>
<path d="M338.18,217.1H339.40M346.50,217.1H348.70M355.80,217.1H358.00" stroke="#f01e23" stroke-width="1.8"/>
<path d="M346.50,227.7H348.70M355.80,227.7H357.06" stroke="#f01e23" stroke-width="1.8"/>
<path d="M337.50,220.6H344.20M353.40,220.6H360.10" stroke="#10b810" stroke-width="2.9"/>
<path d="M347.25,188.30a1.55,1.55 0 1,0 3.1,0a1.55,1.55 0 1,0 -3.1,0M347.25,205.90a1.55,1.55 0 1,0 3.1,0a1.55,1.55 0 1,0 -3.1,0M343.12,213.30a1.55,1.55 0 1,0 3.1,0a1.55,1.55 0 1,0 -3.1,0M347.25,214.50a1.55,1.55 0 1,0 3.1,0a1.55,1.55 0 1,0 -3.1,0M351.38,213.60a1.55,1.55 0 1,0 3.1,0a1.55,1.55 0 1,0 -3.1,0M355.51,214.50a1.55,1.55 0 1,0 3.1,0a1.55,1.55 0 1,0 -3.1,0M338.99,215.60a1.55,1.55 0 1,0 3.1,0a1.55,1.55 0 1,0 -3.1,0M334.86,219.50a1.55,1.55 0 1,0 3.1,0a1.55,1.55 0 1,0 -3.1,0M359.64,219.20a1.55,1.55 0 1,0 3.1,0a1.55,1.55 0 1,0 -3.1,0M343.12,220.40a1.55,1.55 0 1,0 3.1,0a1.55,1.55 0 1,0 -3.1,0M347.25,219.50a1.55,1.55 0 1,0 3.1,0a1.55,1.55 0 1,0 -3.1,0M351.38,220.40a1.55,1.55 0 1,0 3.1,0a1.55,1.55 0 1,0 -3.1,0M338.99,219.80a1.55,1.55 0 1,0 3.1,0a1.55,1.55 0 1,0 -3.1,0M355.51,219.50a1.55,1.55 0 1,0 3.1,0a1.55,1.55 0 1,0 -3.1,0M338.99,224.20a1.55,1.55 0 1,0 3.1,0a1.55,1.55 0 1,0 -3.1,0M343.12,224.20a1.55,1.55 0 1,0 3.1,0a1.55,1.55 0 1,0 -3.1,0M347.25,223.60a1.55,1.55 0 1,0 3.1,0a1.55,1.55 0 1,0 -3.1,0M351.38,225.10a1.55,1.55 0 1,0 3.1,0a1.55,1.55 0 1,0 -3.1,0M355.51,223.30a1.55,1.55 0 1,0 3.1,0a1.55,1.55 0 1,0 -3.1,0M338.99,228.30a1.55,1.55 0 1,0 3.1,0a1.55,1.55 0 1,0 -3.1,0M343.12,227.40a1.55,1.55 0 1,0 3.1,0a1.55,1.55 0 1,0 -3.1,0M347.25,227.70a1.55,1.55 0 1,0 3.1,0a1.55,1.55 0 1,0 -3.1,0M351.38,228.90a1.55,1.55 0 1,0 3.1,0a1.55,1.55 0 1,0 -3.1,0M355.51,227.80a1.55,1.55 0 1,0 3.1,0a1.55,1.55 0 1,0 -3.1,0M343.12,230.70a1.55,1.55 0 1,0 3.1,0a1.55,1.55 0 1,0 -3.1,0M347.25,231.00a1.55,1.55 0 1,0 3.1,0a1.55,1.55 0 1,0 -3.1,0M351.38,231.30a1.55,1.55 0 1,0 3.1,0a1.55,1.55 0 1,0 -3.1,0M343.12,233.60a1.55,1.55 0 1,0 3.1,0a1.55,1.55 0 1,0 -3.1,0M347.25,233.80a1.55,1.55 0 1,0 3.1,0a1.55,1.55 0 1,0 -3.1,0M351.38,233.60a1.55,1.55 0 1,0 3.1,0a1.55,1.55 0 1,0 -3.1,0" fill="#fff" stroke="#fff" stroke-width="0.8"/>
<path d="M350.10,188.30 C349.97,189.00 349.43,190.62 349.30,192.50 C349.17,194.38 349.22,197.57 349.30,199.60 C349.38,201.63 349.82,203.17 349.80,204.70 C349.78,206.23 348.58,207.62 349.20,208.80 C349.82,209.98 352.18,210.82 353.50,211.80 C354.82,212.78 356.02,213.72 357.10,214.70 C358.18,215.68 359.37,216.90 360.00,217.70 C360.63,218.50 361.10,218.72 360.90,219.50 C360.70,220.28 359.38,221.23 358.80,222.40 C358.22,223.57 357.83,225.12 357.40,226.50 C356.97,227.88 356.80,229.52 356.20,230.70 C355.60,231.88 354.40,233.07 353.80,233.60 C353.20,234.13 352.80,233.85 352.60,233.90 L345.00,233.90 C344.80,233.85 344.40,234.13 343.80,233.60 C343.20,233.07 342.00,231.88 341.40,230.70 C340.80,229.52 340.63,227.88 340.20,226.50 C339.77,225.12 339.38,223.57 338.80,222.40 C338.22,221.23 336.90,220.28 336.70,219.50 C336.50,218.72 336.97,218.50 337.60,217.70 C338.23,216.90 339.42,215.68 340.50,214.70 C341.58,213.72 342.78,212.78 344.10,211.80 C345.42,210.82 347.78,209.98 348.40,208.80 C349.02,207.62 347.82,206.23 347.80,204.70 C347.78,203.17 348.22,201.63 348.30,199.60 C348.38,197.57 348.43,194.38 348.30,192.50 C348.17,190.62 347.63,189.00 347.50,188.30 Z" fill="none" stroke="#000" stroke-width="3.0" stroke-linejoin="round"/>
<path d="M347.25,188.30a1.55,1.55 0 1,0 3.1,0a1.55,1.55 0 1,0 -3.1,0M347.25,205.90a1.55,1.55 0 1,0 3.1,0a1.55,1.55 0 1,0 -3.1,0M343.12,213.30a1.55,1.55 0 1,0 3.1,0a1.55,1.55 0 1,0 -3.1,0M347.25,214.50a1.55,1.55 0 1,0 3.1,0a1.55,1.55 0 1,0 -3.1,0M351.38,213.60a1.55,1.55 0 1,0 3.1,0a1.55,1.55 0 1,0 -3.1,0M355.51,214.50a1.55,1.55 0 1,0 3.1,0a1.55,1.55 0 1,0 -3.1,0M338.99,215.60a1.55,1.55 0 1,0 3.1,0a1.55,1.55 0 1,0 -3.1,0M334.86,219.50a1.55,1.55 0 1,0 3.1,0a1.55,1.55 0 1,0 -3.1,0M359.64,219.20a1.55,1.55 0 1,0 3.1,0a1.55,1.55 0 1,0 -3.1,0M343.12,220.40a1.55,1.55 0 1,0 3.1,0a1.55,1.55 0 1,0 -3.1,0M347.25,219.50a1.55,1.55 0 1,0 3.1,0a1.55,1.55 0 1,0 -3.1,0M351.38,220.40a1.55,1.55 0 1,0 3.1,0a1.55,1.55 0 1,0 -3.1,0M338.99,219.80a1.55,1.55 0 1,0 3.1,0a1.55,1.55 0 1,0 -3.1,0M355.51,219.50a1.55,1.55 0 1,0 3.1,0a1.55,1.55 0 1,0 -3.1,0M338.99,224.20a1.55,1.55 0 1,0 3.1,0a1.55,1.55 0 1,0 -3.1,0M343.12,224.20a1.55,1.55 0 1,0 3.1,0a1.55,1.55 0 1,0 -3.1,0M347.25,223.60a1.55,1.55 0 1,0 3.1,0a1.55,1.55 0 1,0 -3.1,0M351.38,225.10a1.55,1.55 0 1,0 3.1,0a1.55,1.55 0 1,0 -3.1,0M355.51,223.30a1.55,1.55 0 1,0 3.1,0a1.55,1.55 0 1,0 -3.1,0M338.99,228.30a1.55,1.55 0 1,0 3.1,0a1.55,1.55 0 1,0 -3.1,0M343.12,227.40a1.55,1.55 0 1,0 3.1,0a1.55,1.55 0 1,0 -3.1,0M347.25,227.70a1.55,1.55 0 1,0 3.1,0a1.55,1.55 0 1,0 -3.1,0M351.38,228.90a1.55,1.55 0 1,0 3.1,0a1.55,1.55 0 1,0 -3.1,0M355.51,227.80a1.55,1.55 0 1,0 3.1,0a1.55,1.55 0 1,0 -3.1,0M343.12,230.70a1.55,1.55 0 1,0 3.1,0a1.55,1.55 0 1,0 -3.1,0M347.25,231.00a1.55,1.55 0 1,0 3.1,0a1.55,1.55 0 1,0 -3.1,0M351.38,231.30a1.55,1.55 0 1,0 3.1,0a1.55,1.55 0 1,0 -3.1,0M343.12,233.60a1.55,1.55 0 1,0 3.1,0a1.55,1.55 0 1,0 -3.1,0M347.25,233.80a1.55,1.55 0 1,0 3.1,0a1.55,1.55 0 1,0 -3.1,0M351.38,233.60a1.55,1.55 0 1,0 3.1,0a1.55,1.55 0 1,0 -3.1,0" fill="#0000cc"/>
<path d="M389.90,78.80 C389.83,79.83 389.57,79.80 389.50,85.00 C389.43,90.20 389.50,100.83 389.50,110.00 C389.50,119.17 389.50,133.03 389.50,140.00 C389.50,146.97 389.47,147.87 389.50,151.80 C389.53,155.73 389.57,159.67 389.70,163.60 C389.83,167.53 390.00,172.25 390.30,175.40 C390.60,178.55 390.92,180.53 391.50,182.50 C392.08,184.47 393.02,185.43 393.80,187.20 C394.58,188.97 395.88,191.13 396.20,193.10 C396.52,195.07 395.97,197.28 395.70,199.00 C395.43,200.72 394.53,202.03 394.60,203.40 C394.67,204.77 395.45,205.90 396.10,207.20 C396.75,208.50 397.82,209.72 398.50,211.20 C399.18,212.68 399.92,214.47 400.20,216.10 C400.48,217.73 400.68,219.38 400.20,221.00 C399.72,222.62 398.40,224.18 397.30,225.80 C396.20,227.42 394.68,229.07 393.60,230.70 C392.52,232.33 391.42,234.43 390.80,235.60 C390.18,236.77 390.05,237.35 389.90,237.70 L388.30,237.70 C388.15,237.35 388.02,236.77 387.40,235.60 C386.78,234.43 385.68,232.33 384.60,230.70 C383.52,229.07 382.00,227.42 380.90,225.80 C379.80,224.18 378.48,222.62 378.00,221.00 C377.52,219.38 377.72,217.73 378.00,216.10 C378.28,214.47 379.02,212.68 379.70,211.20 C380.38,209.72 381.45,208.50 382.10,207.20 C382.75,205.90 383.53,204.77 383.60,203.40 C383.67,202.03 382.77,200.72 382.50,199.00 C382.23,197.28 381.68,195.07 382.00,193.10 C382.32,191.13 383.62,188.97 384.40,187.20 C385.18,185.43 386.12,184.47 386.70,182.50 C387.28,180.53 387.60,178.55 387.90,175.40 C388.20,172.25 388.37,167.53 388.50,163.60 C388.63,159.67 388.67,155.73 388.70,151.80 C388.73,147.87 388.70,146.97 388.70,140.00 C388.70,133.03 388.70,119.17 388.70,110.00 C388.70,100.83 388.77,90.20 388.70,85.00 C388.63,79.80 388.37,79.83 388.30,78.80 Z" fill="#fdeff2" stroke="none"/>
<path d="M386.80,195.5H389.00" stroke="#f01e23" stroke-width="1.8"/>
<path d="M378.24,221.4H379.70M386.80,221.4H389.00M396.10,221.4H398.30" stroke="#f01e23" stroke-width="1.8"/>
<path d="M379.56,211.6H384.50M393.70,211.6H398.64" stroke="#10b810" stroke-width="2.9"/>
<path d="M387.55,79.00a1.55,1.55 0 1,0 3.1,0a1.55,1.55 0 1,0 -3.1,0M387.55,157.10a1.55,1.55 0 1,0 3.1,0a1.55,1.55 0 1,0 -3.1,0M387.55,161.80a1.55,1.55 0 1,0 3.1,0a1.55,1.55 0 1,0 -3.1,0M387.55,167.70a1.55,1.55 0 1,0 3.1,0a1.55,1.55 0 1,0 -3.1,0M387.55,177.80a1.55,1.55 0 1,0 3.1,0a1.55,1.55 0 1,0 -3.1,0M387.55,180.70a1.55,1.55 0 1,0 3.1,0a1.55,1.55 0 1,0 -3.1,0M387.55,189.00a1.55,1.55 0 1,0 3.1,0a1.55,1.55 0 1,0 -3.1,0M383.49,193.10a1.55,1.55 0 1,0 3.1,0a1.55,1.55 0 1,0 -3.1,0M387.55,193.10a1.55,1.55 0 1,0 3.1,0a1.55,1.55 0 1,0 -3.1,0M391.61,191.90a1.55,1.55 0 1,0 3.1,0a1.55,1.55 0 1,0 -3.1,0M383.49,198.40a1.55,1.55 0 1,0 3.1,0a1.55,1.55 0 1,0 -3.1,0M387.55,197.80a1.55,1.55 0 1,0 3.1,0a1.55,1.55 0 1,0 -3.1,0M391.61,196.60a1.55,1.55 0 1,0 3.1,0a1.55,1.55 0 1,0 -3.1,0M387.55,200.80a1.55,1.55 0 1,0 3.1,0a1.55,1.55 0 1,0 -3.1,0M383.49,199.50a1.55,1.55 0 1,0 3.1,0a1.55,1.55 0 1,0 -3.1,0M387.55,203.10a1.55,1.55 0 1,0 3.1,0a1.55,1.55 0 1,0 -3.1,0M391.61,197.40a1.55,1.55 0 1,0 3.1,0a1.55,1.55 0 1,0 -3.1,0M391.61,207.20a1.55,1.55 0 1,0 3.1,0a1.55,1.55 0 1,0 -3.1,0M391.61,209.20a1.55,1.55 0 1,0 3.1,0a1.55,1.55 0 1,0 -3.1,0M379.43,210.00a1.55,1.55 0 1,0 3.1,0a1.55,1.55 0 1,0 -3.1,0M383.49,212.00a1.55,1.55 0 1,0 3.1,0a1.55,1.55 0 1,0 -3.1,0M387.55,210.40a1.55,1.55 0 1,0 3.1,0a1.55,1.55 0 1,0 -3.1,0M387.55,212.80a1.55,1.55 0 1,0 3.1,0a1.55,1.55 0 1,0 -3.1,0M395.67,210.00a1.55,1.55 0 1,0 3.1,0a1.55,1.55 0 1,0 -3.1,0M391.61,214.90a1.55,1.55 0 1,0 3.1,0a1.55,1.55 0 1,0 -3.1,0M395.67,216.50a1.55,1.55 0 1,0 3.1,0a1.55,1.55 0 1,0 -3.1,0M379.43,218.10a1.55,1.55 0 1,0 3.1,0a1.55,1.55 0 1,0 -3.1,0M383.49,217.70a1.55,1.55 0 1,0 3.1,0a1.55,1.55 0 1,0 -3.1,0M387.55,216.90a1.55,1.55 0 1,0 3.1,0a1.55,1.55 0 1,0 -3.1,0M387.55,219.30a1.55,1.55 0 1,0 3.1,0a1.55,1.55 0 1,0 -3.1,0M391.61,219.70a1.55,1.55 0 1,0 3.1,0a1.55,1.55 0 1,0 -3.1,0M395.67,219.30a1.55,1.55 0 1,0 3.1,0a1.55,1.55 0 1,0 -3.1,0M379.43,220.60a1.55,1.55 0 1,0 3.1,0a1.55,1.55 0 1,0 -3.1,0M383.49,222.60a1.55,1.55 0 1,0 3.1,0a1.55,1.55 0 1,0 -3.1,0M387.55,221.80a1.55,1.55 0 1,0 3.1,0a1.55,1.55 0 1,0 -3.1,0M387.55,223.80a1.55,1.55 0 1,0 3.1,0a1.55,1.55 0 1,0 -3.1,0M379.43,225.00a1.55,1.55 0 1,0 3.1,0a1.55,1.55 0 1,0 -3.1,0M383.49,225.00a1.55,1.55 0 1,0 3.1,0a1.55,1.55 0 1,0 -3.1,0M395.67,225.00a1.55,1.55 0 1,0 3.1,0a1.55,1.55 0 1,0 -3.1,0M387.55,225.80a1.55,1.55 0 1,0 3.1,0a1.55,1.55 0 1,0 -3.1,0M391.61,227.00a1.55,1.55 0 1,0 3.1,0a1.55,1.55 0 1,0 -3.1,0M383.49,232.30a1.55,1.55 0 1,0 3.1,0a1.55,1.55 0 1,0 -3.1,0M387.55,231.90a1.55,1.55 0 1,0 3.1,0a1.55,1.55 0 1,0 -3.1,0M391.61,232.30a1.55,1.55 0 1,0 3.1,0a1.55,1.55 0 1,0 -3.1,0M387.55,238.00a1.55,1.55 0 1,0 3.1,0a1.55,1.55 0 1,0 -3.1,0" fill="#fff" stroke="#fff" stroke-width="0.8"/>
<path d="M389.90,78.80 C389.83,79.83 389.57,79.80 389.50,85.00 C389.43,90.20 389.50,100.83 389.50,110.00 C389.50,119.17 389.50,133.03 389.50,140.00 C389.50,146.97 389.47,147.87 389.50,151.80 C389.53,155.73 389.57,159.67 389.70,163.60 C389.83,167.53 390.00,172.25 390.30,175.40 C390.60,178.55 390.92,180.53 391.50,182.50 C392.08,184.47 393.02,185.43 393.80,187.20 C394.58,188.97 395.88,191.13 396.20,193.10 C396.52,195.07 395.97,197.28 395.70,199.00 C395.43,200.72 394.53,202.03 394.60,203.40 C394.67,204.77 395.45,205.90 396.10,207.20 C396.75,208.50 397.82,209.72 398.50,211.20 C399.18,212.68 399.92,214.47 400.20,216.10 C400.48,217.73 400.68,219.38 400.20,221.00 C399.72,222.62 398.40,224.18 397.30,225.80 C396.20,227.42 394.68,229.07 393.60,230.70 C392.52,232.33 391.42,234.43 390.80,235.60 C390.18,236.77 390.05,237.35 389.90,237.70 L388.30,237.70 C388.15,237.35 388.02,236.77 387.40,235.60 C386.78,234.43 385.68,232.33 384.60,230.70 C383.52,229.07 382.00,227.42 380.90,225.80 C379.80,224.18 378.48,222.62 378.00,221.00 C377.52,219.38 377.72,217.73 378.00,216.10 C378.28,214.47 379.02,212.68 379.70,211.20 C380.38,209.72 381.45,208.50 382.10,207.20 C382.75,205.90 383.53,204.77 383.60,203.40 C383.67,202.03 382.77,200.72 382.50,199.00 C382.23,197.28 381.68,195.07 382.00,193.10 C382.32,191.13 383.62,188.97 384.40,187.20 C385.18,185.43 386.12,184.47 386.70,182.50 C387.28,180.53 387.60,178.55 387.90,175.40 C388.20,172.25 388.37,167.53 388.50,163.60 C388.63,159.67 388.67,155.73 388.70,151.80 C388.73,147.87 388.70,146.97 388.70,140.00 C388.70,133.03 388.70,119.17 388.70,110.00 C388.70,100.83 388.77,90.20 388.70,85.00 C388.63,79.80 388.37,79.83 388.30,78.80 Z" fill="none" stroke="#000" stroke-width="3.0" stroke-linejoin="round"/>
<path d="M387.55,79.00a1.55,1.55 0 1,0 3.1,0a1.55,1.55 0 1,0 -3.1,0M387.55,157.10a1.55,1.55 0 1,0 3.1,0a1.55,1.55 0 1,0 -3.1,0M387.55,161.80a1.55,1.55 0 1,0 3.1,0a1.55,1.55 0 1,0 -3.1,0M387.55,167.70a1.55,1.55 0 1,0 3.1,0a1.55,1.55 0 1,0 -3.1,0M387.55,177.80a1.55,1.55 0 1,0 3.1,0a1.55,1.55 0 1,0 -3.1,0M387.55,180.70a1.55,1.55 0 1,0 3.1,0a1.55,1.55 0 1,0 -3.1,0M387.55,189.00a1.55,1.55 0 1,0 3.1,0a1.55,1.55 0 1,0 -3.1,0M383.49,193.10a1.55,1.55 0 1,0 3.1,0a1.55,1.55 0 1,0 -3.1,0M387.55,193.10a1.55,1.55 0 1,0 3.1,0a1.55,1.55 0 1,0 -3.1,0M391.61,191.90a1.55,1.55 0 1,0 3.1,0a1.55,1.55 0 1,0 -3.1,0M383.49,198.40a1.55,1.55 0 1,0 3.1,0a1.55,1.55 0 1,0 -3.1,0M387.55,197.80a1.55,1.55 0 1,0 3.1,0a1.55,1.55 0 1,0 -3.1,0M391.61,196.60a1.55,1.55 0 1,0 3.1,0a1.55,1.55 0 1,0 -3.1,0M387.55,200.80a1.55,1.55 0 1,0 3.1,0a1.55,1.55 0 1,0 -3.1,0M383.49,199.50a1.55,1.55 0 1,0 3.1,0a1.55,1.55 0 1,0 -3.1,0M387.55,203.10a1.55,1.55 0 1,0 3.1,0a1.55,1.55 0 1,0 -3.1,0M391.61,197.40a1.55,1.55 0 1,0 3.1,0a1.55,1.55 0 1,0 -3.1,0M391.61,207.20a1.55,1.55 0 1,0 3.1,0a1.55,1.55 0 1,0 -3.1,0M391.61,209.20a1.55,1.55 0 1,0 3.1,0a1.55,1.55 0 1,0 -3.1,0M379.43,210.00a1.55,1.55 0 1,0 3.1,0a1.55,1.55 0 1,0 -3.1,0M383.49,212.00a1.55,1.55 0 1,0 3.1,0a1.55,1.55 0 1,0 -3.1,0M387.55,210.40a1.55,1.55 0 1,0 3.1,0a1.55,1.55 0 1,0 -3.1,0M387.55,212.80a1.55,1.55 0 1,0 3.1,0a1.55,1.55 0 1,0 -3.1,0M395.67,210.00a1.55,1.55 0 1,0 3.1,0a1.55,1.55 0 1,0 -3.1,0M391.61,214.90a1.55,1.55 0 1,0 3.1,0a1.55,1.55 0 1,0 -3.1,0M395.67,216.50a1.55,1.55 0 1,0 3.1,0a1.55,1.55 0 1,0 -3.1,0M379.43,218.10a1.55,1.55 0 1,0 3.1,0a1.55,1.55 0 1,0 -3.1,0M383.49,217.70a1.55,1.55 0 1,0 3.1,0a1.55,1.55 0 1,0 -3.1,0M387.55,216.90a1.55,1.55 0 1,0 3.1,0a1.55,1.55 0 1,0 -3.1,0M387.55,219.30a1.55,1.55 0 1,0 3.1,0a1.55,1.55 0 1,0 -3.1,0M391.61,219.70a1.55,1.55 0 1,0 3.1,0a1.55,1.55 0 1,0 -3.1,0M395.67,219.30a1.55,1.55 0 1,0 3.1,0a1.55,1.55 0 1,0 -3.1,0M379.43,220.60a1.55,1.55 0 1,0 3.1,0a1.55,1.55 0 1,0 -3.1,0M383.49,222.60a1.55,1.55 0 1,0 3.1,0a1.55,1.55 0 1,0 -3.1,0M387.55,221.80a1.55,1.55 0 1,0 3.1,0a1.55,1.55 0 1,0 -3.1,0M387.55,223.80a1.55,1.55 0 1,0 3.1,0a1.55,1.55 0 1,0 -3.1,0M379.43,225.00a1.55,1.55 0 1,0 3.1,0a1.55,1.55 0 1,0 -3.1,0M383.49,225.00a1.55,1.55 0 1,0 3.1,0a1.55,1.55 0 1,0 -3.1,0M395.67,225.00a1.55,1.55 0 1,0 3.1,0a1.55,1.55 0 1,0 -3.1,0M387.55,225.80a1.55,1.55 0 1,0 3.1,0a1.55,1.55 0 1,0 -3.1,0M391.61,227.00a1.55,1.55 0 1,0 3.1,0a1.55,1.55 0 1,0 -3.1,0M383.49,232.30a1.55,1.55 0 1,0 3.1,0a1.55,1.55 0 1,0 -3.1,0M387.55,231.90a1.55,1.55 0 1,0 3.1,0a1.55,1.55 0 1,0 -3.1,0M391.61,232.30a1.55,1.55 0 1,0 3.1,0a1.55,1.55 0 1,0 -3.1,0M387.55,238.00a1.55,1.55 0 1,0 3.1,0a1.55,1.55 0 1,0 -3.1,0" fill="#0000cc"/>
<path d="M431.50,144.60 C431.60,145.70 431.77,149.28 432.10,151.20 C432.43,153.12 433.18,154.47 433.50,156.10 C433.82,157.73 434.07,159.38 434.00,161.00 C433.93,162.62 433.52,164.22 433.10,165.80 C432.68,167.38 431.83,168.80 431.50,170.50 C431.17,172.20 431.12,174.33 431.10,176.00 C431.08,177.67 431.12,179.17 431.40,180.50 C431.68,181.83 432.28,182.92 432.80,184.00 C433.32,185.08 434.05,186.08 434.50,187.00 C434.95,187.92 435.37,188.45 435.50,189.50 C435.63,190.55 435.27,191.93 435.30,193.30 C435.33,194.67 435.48,196.23 435.70,197.70 C435.92,199.17 436.18,200.33 436.60,202.10 C437.02,203.87 437.68,206.08 438.20,208.30 C438.72,210.52 439.23,213.33 439.70,215.40 C440.17,217.47 441.00,218.93 441.00,220.70 C441.00,222.47 440.37,224.52 439.70,226.00 C439.03,227.48 437.62,228.88 437.00,229.60 C436.38,230.32 436.17,230.18 436.00,230.30 L424.00,230.30 C423.83,230.18 423.62,230.32 423.00,229.60 C422.38,228.88 420.97,227.48 420.30,226.00 C419.63,224.52 419.00,222.47 419.00,220.70 C419.00,218.93 419.83,217.47 420.30,215.40 C420.77,213.33 421.28,210.52 421.80,208.30 C422.32,206.08 422.98,203.87 423.40,202.10 C423.82,200.33 424.08,199.17 424.30,197.70 C424.52,196.23 424.67,194.67 424.70,193.30 C424.73,191.93 424.37,190.55 424.50,189.50 C424.63,188.45 425.05,187.92 425.50,187.00 C425.95,186.08 426.68,185.08 427.20,184.00 C427.72,182.92 428.32,181.83 428.60,180.50 C428.88,179.17 428.92,177.67 428.90,176.00 C428.88,174.33 428.83,172.20 428.50,170.50 C428.17,168.80 427.32,167.38 426.90,165.80 C426.48,164.22 426.07,162.62 426.00,161.00 C425.93,159.38 426.18,157.73 426.50,156.10 C426.82,154.47 427.57,153.12 427.90,151.20 C428.23,149.28 428.40,145.70 428.50,144.60 Z" fill="#fdeff2" stroke="none"/>
<path d="M427.70,198H429.90" stroke="#f01e23" stroke-width="1.8"/>
<path d="M419.69,223.5H420.60M427.70,223.5H429.90M437.00,223.5H439.20" stroke="#f01e23" stroke-width="1.8"/>
<path d="M421.61,209.2H425.40M434.60,209.2H438.39" stroke="#10b810" stroke-width="2.9"/>
<path d="M429.45,144.30a1.55,1.55 0 1,0 3.1,0a1.55,1.55 0 1,0 -3.1,0M425.75,161.00a1.55,1.55 0 1,0 3.1,0a1.55,1.55 0 1,0 -3.1,0M430.25,159.30a1.55,1.55 0 1,0 3.1,0a1.55,1.55 0 1,0 -3.1,0M430.25,161.80a1.55,1.55 0 1,0 3.1,0a1.55,1.55 0 1,0 -3.1,0M430.25,163.80a1.55,1.55 0 1,0 3.1,0a1.55,1.55 0 1,0 -3.1,0M422.45,189.50a1.55,1.55 0 1,0 3.1,0a1.55,1.55 0 1,0 -3.1,0M430.05,189.20a1.55,1.55 0 1,0 3.1,0a1.55,1.55 0 1,0 -3.1,0M434.05,188.70a1.55,1.55 0 1,0 3.1,0a1.55,1.55 0 1,0 -3.1,0M429.95,194.60a1.55,1.55 0 1,0 3.1,0a1.55,1.55 0 1,0 -3.1,0M429.95,196.80a1.55,1.55 0 1,0 3.1,0a1.55,1.55 0 1,0 -3.1,0M429.95,199.00a1.55,1.55 0 1,0 3.1,0a1.55,1.55 0 1,0 -3.1,0M429.95,201.20a1.55,1.55 0 1,0 3.1,0a1.55,1.55 0 1,0 -3.1,0M429.95,203.50a1.55,1.55 0 1,0 3.1,0a1.55,1.55 0 1,0 -3.1,0M422.25,208.30a1.55,1.55 0 1,0 3.1,0a1.55,1.55 0 1,0 -3.1,0M422.25,210.10a1.55,1.55 0 1,0 3.1,0a1.55,1.55 0 1,0 -3.1,0M426.25,209.20a1.55,1.55 0 1,0 3.1,0a1.55,1.55 0 1,0 -3.1,0M429.95,208.80a1.55,1.55 0 1,0 3.1,0a1.55,1.55 0 1,0 -3.1,0M434.45,207.00a1.55,1.55 0 1,0 3.1,0a1.55,1.55 0 1,0 -3.1,0M434.45,208.80a1.55,1.55 0 1,0 3.1,0a1.55,1.55 0 1,0 -3.1,0M429.95,215.00a1.55,1.55 0 1,0 3.1,0a1.55,1.55 0 1,0 -3.1,0M429.95,218.00a1.55,1.55 0 1,0 3.1,0a1.55,1.55 0 1,0 -3.1,0M426.25,216.70a1.55,1.55 0 1,0 3.1,0a1.55,1.55 0 1,0 -3.1,0M426.25,219.80a1.55,1.55 0 1,0 3.1,0a1.55,1.55 0 1,0 -3.1,0M422.25,221.20a1.55,1.55 0 1,0 3.1,0a1.55,1.55 0 1,0 -3.1,0M426.25,222.50a1.55,1.55 0 1,0 3.1,0a1.55,1.55 0 1,0 -3.1,0M429.95,221.60a1.55,1.55 0 1,0 3.1,0a1.55,1.55 0 1,0 -3.1,0M434.45,221.20a1.55,1.55 0 1,0 3.1,0a1.55,1.55 0 1,0 -3.1,0M422.25,223.40a1.55,1.55 0 1,0 3.1,0a1.55,1.55 0 1,0 -3.1,0M422.25,226.00a1.55,1.55 0 1,0 3.1,0a1.55,1.55 0 1,0 -3.1,0M429.95,226.00a1.55,1.55 0 1,0 3.1,0a1.55,1.55 0 1,0 -3.1,0M434.45,224.20a1.55,1.55 0 1,0 3.1,0a1.55,1.55 0 1,0 -3.1,0M426.25,228.20a1.55,1.55 0 1,0 3.1,0a1.55,1.55 0 1,0 -3.1,0M426.25,230.40a1.55,1.55 0 1,0 3.1,0a1.55,1.55 0 1,0 -3.1,0" fill="#fff" stroke="#fff" stroke-width="0.8"/>
<path d="M431.50,144.60 C431.60,145.70 431.77,149.28 432.10,151.20 C432.43,153.12 433.18,154.47 433.50,156.10 C433.82,157.73 434.07,159.38 434.00,161.00 C433.93,162.62 433.52,164.22 433.10,165.80 C432.68,167.38 431.83,168.80 431.50,170.50 C431.17,172.20 431.12,174.33 431.10,176.00 C431.08,177.67 431.12,179.17 431.40,180.50 C431.68,181.83 432.28,182.92 432.80,184.00 C433.32,185.08 434.05,186.08 434.50,187.00 C434.95,187.92 435.37,188.45 435.50,189.50 C435.63,190.55 435.27,191.93 435.30,193.30 C435.33,194.67 435.48,196.23 435.70,197.70 C435.92,199.17 436.18,200.33 436.60,202.10 C437.02,203.87 437.68,206.08 438.20,208.30 C438.72,210.52 439.23,213.33 439.70,215.40 C440.17,217.47 441.00,218.93 441.00,220.70 C441.00,222.47 440.37,224.52 439.70,226.00 C439.03,227.48 437.62,228.88 437.00,229.60 C436.38,230.32 436.17,230.18 436.00,230.30 L424.00,230.30 C423.83,230.18 423.62,230.32 423.00,229.60 C422.38,228.88 420.97,227.48 420.30,226.00 C419.63,224.52 419.00,222.47 419.00,220.70 C419.00,218.93 419.83,217.47 420.30,215.40 C420.77,213.33 421.28,210.52 421.80,208.30 C422.32,206.08 422.98,203.87 423.40,202.10 C423.82,200.33 424.08,199.17 424.30,197.70 C424.52,196.23 424.67,194.67 424.70,193.30 C424.73,191.93 424.37,190.55 424.50,189.50 C424.63,188.45 425.05,187.92 425.50,187.00 C425.95,186.08 426.68,185.08 427.20,184.00 C427.72,182.92 428.32,181.83 428.60,180.50 C428.88,179.17 428.92,177.67 428.90,176.00 C428.88,174.33 428.83,172.20 428.50,170.50 C428.17,168.80 427.32,167.38 426.90,165.80 C426.48,164.22 426.07,162.62 426.00,161.00 C425.93,159.38 426.18,157.73 426.50,156.10 C426.82,154.47 427.57,153.12 427.90,151.20 C428.23,149.28 428.40,145.70 428.50,144.60 Z" fill="none" stroke="#000" stroke-width="3.0" stroke-linejoin="round"/>
<path d="M429.45,144.30a1.55,1.55 0 1,0 3.1,0a1.55,1.55 0 1,0 -3.1,0M425.75,161.00a1.55,1.55 0 1,0 3.1,0a1.55,1.55 0 1,0 -3.1,0M430.25,159.30a1.55,1.55 0 1,0 3.1,0a1.55,1.55 0 1,0 -3.1,0M430.25,161.80a1.55,1.55 0 1,0 3.1,0a1.55,1.55 0 1,0 -3.1,0M430.25,163.80a1.55,1.55 0 1,0 3.1,0a1.55,1.55 0 1,0 -3.1,0M422.45,189.50a1.55,1.55 0 1,0 3.1,0a1.55,1.55 0 1,0 -3.1,0M430.05,189.20a1.55,1.55 0 1,0 3.1,0a1.55,1.55 0 1,0 -3.1,0M434.05,188.70a1.55,1.55 0 1,0 3.1,0a1.55,1.55 0 1,0 -3.1,0M429.95,194.60a1.55,1.55 0 1,0 3.1,0a1.55,1.55 0 1,0 -3.1,0M429.95,196.80a1.55,1.55 0 1,0 3.1,0a1.55,1.55 0 1,0 -3.1,0M429.95,199.00a1.55,1.55 0 1,0 3.1,0a1.55,1.55 0 1,0 -3.1,0M429.95,201.20a1.55,1.55 0 1,0 3.1,0a1.55,1.55 0 1,0 -3.1,0M429.95,203.50a1.55,1.55 0 1,0 3.1,0a1.55,1.55 0 1,0 -3.1,0M422.25,208.30a1.55,1.55 0 1,0 3.1,0a1.55,1.55 0 1,0 -3.1,0M422.25,210.10a1.55,1.55 0 1,0 3.1,0a1.55,1.55 0 1,0 -3.1,0M426.25,209.20a1.55,1.55 0 1,0 3.1,0a1.55,1.55 0 1,0 -3.1,0M429.95,208.80a1.55,1.55 0 1,0 3.1,0a1.55,1.55 0 1,0 -3.1,0M434.45,207.00a1.55,1.55 0 1,0 3.1,0a1.55,1.55 0 1,0 -3.1,0M434.45,208.80a1.55,1.55 0 1,0 3.1,0a1.55,1.55 0 1,0 -3.1,0M429.95,215.00a1.55,1.55 0 1,0 3.1,0a1.55,1.55 0 1,0 -3.1,0M429.95,218.00a1.55,1.55 0 1,0 3.1,0a1.55,1.55 0 1,0 -3.1,0M426.25,216.70a1.55,1.55 0 1,0 3.1,0a1.55,1.55 0 1,0 -3.1,0M426.25,219.80a1.55,1.55 0 1,0 3.1,0a1.55,1.55 0 1,0 -3.1,0M422.25,221.20a1.55,1.55 0 1,0 3.1,0a1.55,1.55 0 1,0 -3.1,0M426.25,222.50a1.55,1.55 0 1,0 3.1,0a1.55,1.55 0 1,0 -3.1,0M429.95,221.60a1.55,1.55 0 1,0 3.1,0a1.55,1.55 0 1,0 -3.1,0M434.45,221.20a1.55,1.55 0 1,0 3.1,0a1.55,1.55 0 1,0 -3.1,0M422.25,223.40a1.55,1.55 0 1,0 3.1,0a1.55,1.55 0 1,0 -3.1,0M422.25,226.00a1.55,1.55 0 1,0 3.1,0a1.55,1.55 0 1,0 -3.1,0M429.95,226.00a1.55,1.55 0 1,0 3.1,0a1.55,1.55 0 1,0 -3.1,0M434.45,224.20a1.55,1.55 0 1,0 3.1,0a1.55,1.55 0 1,0 -3.1,0M426.25,228.20a1.55,1.55 0 1,0 3.1,0a1.55,1.55 0 1,0 -3.1,0M426.25,230.40a1.55,1.55 0 1,0 3.1,0a1.55,1.55 0 1,0 -3.1,0" fill="#0000cc"/>
<path d="M623.80,134.20 C623.77,134.70 623.53,135.35 623.60,137.20 C623.67,139.05 624.23,142.60 624.20,145.30 C624.17,148.00 623.60,150.70 623.40,153.40 C623.20,156.10 623.13,158.80 623.00,161.50 C622.87,164.20 622.65,167.37 622.60,169.60 C622.55,171.83 622.53,173.22 622.70,174.90 C622.87,176.58 623.15,178.08 623.60,179.70 C624.05,181.32 624.55,183.10 625.40,184.60 C626.25,186.10 627.62,187.35 628.70,188.70 C629.78,190.05 631.03,191.48 631.90,192.70 C632.77,193.92 634.27,194.78 633.90,196.00 C633.53,197.22 630.92,198.65 629.70,200.00 C628.48,201.35 627.38,202.62 626.60,204.10 C625.82,205.58 625.40,207.42 625.00,208.90 C624.60,210.38 624.40,212.17 624.20,213.00 C624.00,213.83 623.87,213.75 623.80,213.90 L619.60,213.90 C619.53,213.75 619.40,213.83 619.20,213.00 C619.00,212.17 618.80,210.38 618.40,208.90 C618.00,207.42 617.58,205.58 616.80,204.10 C616.02,202.62 614.92,201.35 613.70,200.00 C612.48,198.65 609.87,197.22 609.50,196.00 C609.13,194.78 610.63,193.92 611.50,192.70 C612.37,191.48 613.62,190.05 614.70,188.70 C615.78,187.35 617.15,186.10 618.00,184.60 C618.85,183.10 619.35,181.32 619.80,179.70 C620.25,178.08 620.53,176.58 620.70,174.90 C620.87,173.22 620.85,171.83 620.80,169.60 C620.75,167.37 620.53,164.20 620.40,161.50 C620.27,158.80 620.20,156.10 620.00,153.40 C619.80,150.70 619.23,148.00 619.20,145.30 C619.17,142.60 619.73,139.05 619.80,137.20 C619.87,135.35 619.63,134.70 619.60,134.20 Z" fill="#fdeff2" stroke="none"/>
<path d="M619.40,190H621.60M628.70,190H629.74" stroke="#f01e23" stroke-width="1.8"/>
<path d="M619.40,203H621.60" stroke="#f01e23" stroke-width="1.8"/>
<path d="M610.77,193.9H617.10M626.30,193.9H632.63" stroke="#10b810" stroke-width="2.9"/>
<path d="M618.15,133.90a1.55,1.55 0 1,0 3.1,0a1.55,1.55 0 1,0 -3.1,0M621.85,134.30a1.55,1.55 0 1,0 3.1,0a1.55,1.55 0 1,0 -3.1,0M618.15,144.10a1.55,1.55 0 1,0 3.1,0a1.55,1.55 0 1,0 -3.1,0M621.85,146.50a1.55,1.55 0 1,0 3.1,0a1.55,1.55 0 1,0 -3.1,0M618.15,149.30a1.55,1.55 0 1,0 3.1,0a1.55,1.55 0 1,0 -3.1,0M621.45,156.60a1.55,1.55 0 1,0 3.1,0a1.55,1.55 0 1,0 -3.1,0M621.45,162.70a1.55,1.55 0 1,0 3.1,0a1.55,1.55 0 1,0 -3.1,0M620.55,179.00a1.55,1.55 0 1,0 3.1,0a1.55,1.55 0 1,0 -3.1,0M618.15,180.10a1.55,1.55 0 1,0 3.1,0a1.55,1.55 0 1,0 -3.1,0M618.15,182.60a1.55,1.55 0 1,0 3.1,0a1.55,1.55 0 1,0 -3.1,0M621.85,178.90a1.55,1.55 0 1,0 3.1,0a1.55,1.55 0 1,0 -3.1,0M621.85,189.90a1.55,1.55 0 1,0 3.1,0a1.55,1.55 0 1,0 -3.1,0M618.15,191.50a1.55,1.55 0 1,0 3.1,0a1.55,1.55 0 1,0 -3.1,0M625.45,191.10a1.55,1.55 0 1,0 3.1,0a1.55,1.55 0 1,0 -3.1,0M621.85,192.30a1.55,1.55 0 1,0 3.1,0a1.55,1.55 0 1,0 -3.1,0M614.95,193.50a1.55,1.55 0 1,0 3.1,0a1.55,1.55 0 1,0 -3.1,0M625.45,193.50a1.55,1.55 0 1,0 3.1,0a1.55,1.55 0 1,0 -3.1,0M607.65,196.00a1.55,1.55 0 1,0 3.1,0a1.55,1.55 0 1,0 -3.1,0M611.25,196.80a1.55,1.55 0 1,0 3.1,0a1.55,1.55 0 1,0 -3.1,0M614.95,196.00a1.55,1.55 0 1,0 3.1,0a1.55,1.55 0 1,0 -3.1,0M618.15,197.60a1.55,1.55 0 1,0 3.1,0a1.55,1.55 0 1,0 -3.1,0M621.85,196.40a1.55,1.55 0 1,0 3.1,0a1.55,1.55 0 1,0 -3.1,0M625.45,197.20a1.55,1.55 0 1,0 3.1,0a1.55,1.55 0 1,0 -3.1,0M628.75,196.00a1.55,1.55 0 1,0 3.1,0a1.55,1.55 0 1,0 -3.1,0M632.75,196.00a1.55,1.55 0 1,0 3.1,0a1.55,1.55 0 1,0 -3.1,0M618.15,202.00a1.55,1.55 0 1,0 3.1,0a1.55,1.55 0 1,0 -3.1,0M614.95,206.50a1.55,1.55 0 1,0 3.1,0a1.55,1.55 0 1,0 -3.1,0M618.15,205.70a1.55,1.55 0 1,0 3.1,0a1.55,1.55 0 1,0 -3.1,0M621.85,206.90a1.55,1.55 0 1,0 3.1,0a1.55,1.55 0 1,0 -3.1,0M618.15,209.80a1.55,1.55 0 1,0 3.1,0a1.55,1.55 0 1,0 -3.1,0M618.15,214.20a1.55,1.55 0 1,0 3.1,0a1.55,1.55 0 1,0 -3.1,0" fill="#fff" stroke="#fff" stroke-width="0.8"/>
<path d="M623.80,134.20 C623.77,134.70 623.53,135.35 623.60,137.20 C623.67,139.05 624.23,142.60 624.20,145.30 C624.17,148.00 623.60,150.70 623.40,153.40 C623.20,156.10 623.13,158.80 623.00,161.50 C622.87,164.20 622.65,167.37 622.60,169.60 C622.55,171.83 622.53,173.22 622.70,174.90 C622.87,176.58 623.15,178.08 623.60,179.70 C624.05,181.32 624.55,183.10 625.40,184.60 C626.25,186.10 627.62,187.35 628.70,188.70 C629.78,190.05 631.03,191.48 631.90,192.70 C632.77,193.92 634.27,194.78 633.90,196.00 C633.53,197.22 630.92,198.65 629.70,200.00 C628.48,201.35 627.38,202.62 626.60,204.10 C625.82,205.58 625.40,207.42 625.00,208.90 C624.60,210.38 624.40,212.17 624.20,213.00 C624.00,213.83 623.87,213.75 623.80,213.90 L619.60,213.90 C619.53,213.75 619.40,213.83 619.20,213.00 C619.00,212.17 618.80,210.38 618.40,208.90 C618.00,207.42 617.58,205.58 616.80,204.10 C616.02,202.62 614.92,201.35 613.70,200.00 C612.48,198.65 609.87,197.22 609.50,196.00 C609.13,194.78 610.63,193.92 611.50,192.70 C612.37,191.48 613.62,190.05 614.70,188.70 C615.78,187.35 617.15,186.10 618.00,184.60 C618.85,183.10 619.35,181.32 619.80,179.70 C620.25,178.08 620.53,176.58 620.70,174.90 C620.87,173.22 620.85,171.83 620.80,169.60 C620.75,167.37 620.53,164.20 620.40,161.50 C620.27,158.80 620.20,156.10 620.00,153.40 C619.80,150.70 619.23,148.00 619.20,145.30 C619.17,142.60 619.73,139.05 619.80,137.20 C619.87,135.35 619.63,134.70 619.60,134.20 Z" fill="none" stroke="#000" stroke-width="3.0" stroke-linejoin="round"/>
<path d="M618.15,133.90a1.55,1.55 0 1,0 3.1,0a1.55,1.55 0 1,0 -3.1,0M621.85,134.30a1.55,1.55 0 1,0 3.1,0a1.55,1.55 0 1,0 -3.1,0M618.15,144.10a1.55,1.55 0 1,0 3.1,0a1.55,1.55 0 1,0 -3.1,0M621.85,146.50a1.55,1.55 0 1,0 3.1,0a1.55,1.55 0 1,0 -3.1,0M618.15,149.30a1.55,1.55 0 1,0 3.1,0a1.55,1.55 0 1,0 -3.1,0M621.45,156.60a1.55,1.55 0 1,0 3.1,0a1.55,1.55 0 1,0 -3.1,0M621.45,162.70a1.55,1.55 0 1,0 3.1,0a1.55,1.55 0 1,0 -3.1,0M620.55,179.00a1.55,1.55 0 1,0 3.1,0a1.55,1.55 0 1,0 -3.1,0M618.15,180.10a1.55,1.55 0 1,0 3.1,0a1.55,1.55 0 1,0 -3.1,0M618.15,182.60a1.55,1.55 0 1,0 3.1,0a1.55,1.55 0 1,0 -3.1,0M621.85,178.90a1.55,1.55 0 1,0 3.1,0a1.55,1.55 0 1,0 -3.1,0M621.85,189.90a1.55,1.55 0 1,0 3.1,0a1.55,1.55 0 1,0 -3.1,0M618.15,191.50a1.55,1.55 0 1,0 3.1,0a1.55,1.55 0 1,0 -3.1,0M625.45,191.10a1.55,1.55 0 1,0 3.1,0a1.55,1.55 0 1,0 -3.1,0M621.85,192.30a1.55,1.55 0 1,0 3.1,0a1.55,1.55 0 1,0 -3.1,0M614.95,193.50a1.55,1.55 0 1,0 3.1,0a1.55,1.55 0 1,0 -3.1,0M625.45,193.50a1.55,1.55 0 1,0 3.1,0a1.55,1.55 0 1,0 -3.1,0M607.65,196.00a1.55,1.55 0 1,0 3.1,0a1.55,1.55 0 1,0 -3.1,0M611.25,196.80a1.55,1.55 0 1,0 3.1,0a1.55,1.55 0 1,0 -3.1,0M614.95,196.00a1.55,1.55 0 1,0 3.1,0a1.55,1.55 0 1,0 -3.1,0M618.15,197.60a1.55,1.55 0 1,0 3.1,0a1.55,1.55 0 1,0 -3.1,0M621.85,196.40a1.55,1.55 0 1,0 3.1,0a1.55,1.55 0 1,0 -3.1,0M625.45,197.20a1.55,1.55 0 1,0 3.1,0a1.55,1.55 0 1,0 -3.1,0M628.75,196.00a1.55,1.55 0 1,0 3.1,0a1.55,1.55 0 1,0 -3.1,0M632.75,196.00a1.55,1.55 0 1,0 3.1,0a1.55,1.55 0 1,0 -3.1,0M618.15,202.00a1.55,1.55 0 1,0 3.1,0a1.55,1.55 0 1,0 -3.1,0M614.95,206.50a1.55,1.55 0 1,0 3.1,0a1.55,1.55 0 1,0 -3.1,0M618.15,205.70a1.55,1.55 0 1,0 3.1,0a1.55,1.55 0 1,0 -3.1,0M621.85,206.90a1.55,1.55 0 1,0 3.1,0a1.55,1.55 0 1,0 -3.1,0M618.15,209.80a1.55,1.55 0 1,0 3.1,0a1.55,1.55 0 1,0 -3.1,0M618.15,214.20a1.55,1.55 0 1,0 3.1,0a1.55,1.55 0 1,0 -3.1,0" fill="#0000cc"/>
<path d="M662.95,92.90 C662.89,94.08 662.66,96.15 662.60,100.00 C662.54,103.85 662.60,109.90 662.60,116.00 C662.60,122.10 662.42,131.45 662.60,136.60 C662.78,141.75 663.45,144.15 663.70,146.90 C663.95,149.65 663.73,150.72 664.10,153.10 C664.47,155.48 665.18,158.50 665.90,161.20 C666.62,163.90 667.52,166.87 668.40,169.30 C669.28,171.73 670.43,173.90 671.20,175.80 C671.97,177.70 672.67,179.07 673.00,180.70 C673.33,182.33 673.53,184.02 673.20,185.60 C672.87,187.18 671.80,188.63 671.00,190.20 C670.20,191.77 668.82,193.68 668.40,195.00 C667.98,196.32 668.23,197.03 668.50,198.10 C668.77,199.17 669.62,200.18 670.00,201.40 C670.38,202.62 670.87,204.05 670.80,205.40 C670.73,206.75 670.35,208.15 669.60,209.50 C668.85,210.85 667.01,212.53 666.30,213.50 C665.59,214.47 665.51,215.00 665.35,215.30 L659.05,215.30 C658.89,215.00 658.81,214.47 658.10,213.50 C657.39,212.53 655.55,210.85 654.80,209.50 C654.05,208.15 653.67,206.75 653.60,205.40 C653.53,204.05 654.02,202.62 654.40,201.40 C654.78,200.18 655.63,199.17 655.90,198.10 C656.17,197.03 656.42,196.32 656.00,195.00 C655.58,193.68 654.20,191.77 653.40,190.20 C652.60,188.63 651.53,187.18 651.20,185.60 C650.87,184.02 651.07,182.33 651.40,180.70 C651.73,179.07 652.43,177.70 653.20,175.80 C653.97,173.90 655.12,171.73 656.00,169.30 C656.88,166.87 657.78,163.90 658.50,161.20 C659.22,158.50 659.93,155.48 660.30,153.10 C660.67,150.72 660.45,149.65 660.70,146.90 C660.95,144.15 661.62,141.75 661.80,136.60 C661.98,131.45 661.80,122.10 661.80,116.00 C661.80,109.90 661.86,103.85 661.80,100.00 C661.74,96.15 661.51,94.08 661.45,92.90 Z" fill="#fdeff2" stroke="none"/>
<path d="M659.90,173H662.10M669.20,173H669.99" stroke="#f01e23" stroke-width="1.8"/>
<path d="M659.90,203H662.10M669.20,203H670.32" stroke="#f01e23" stroke-width="1.8"/>
<path d="M651.20,185.6H657.60M666.80,185.6H673.20" stroke="#10b810" stroke-width="2.9"/>
<path d="M660.65,92.70a1.55,1.55 0 1,0 3.1,0a1.55,1.55 0 1,0 -3.1,0M660.65,144.40a1.55,1.55 0 1,0 3.1,0a1.55,1.55 0 1,0 -3.1,0M660.65,145.80a1.55,1.55 0 1,0 3.1,0a1.55,1.55 0 1,0 -3.1,0M660.65,153.10a1.55,1.55 0 1,0 3.1,0a1.55,1.55 0 1,0 -3.1,0M660.65,157.60a1.55,1.55 0 1,0 3.1,0a1.55,1.55 0 1,0 -3.1,0M656.65,160.40a1.55,1.55 0 1,0 3.1,0a1.55,1.55 0 1,0 -3.1,0M664.65,162.00a1.55,1.55 0 1,0 3.1,0a1.55,1.55 0 1,0 -3.1,0M660.65,163.70a1.55,1.55 0 1,0 3.1,0a1.55,1.55 0 1,0 -3.1,0M656.65,167.70a1.55,1.55 0 1,0 3.1,0a1.55,1.55 0 1,0 -3.1,0M656.65,169.70a1.55,1.55 0 1,0 3.1,0a1.55,1.55 0 1,0 -3.1,0M660.65,168.90a1.55,1.55 0 1,0 3.1,0a1.55,1.55 0 1,0 -3.1,0M664.65,171.00a1.55,1.55 0 1,0 3.1,0a1.55,1.55 0 1,0 -3.1,0M660.65,173.40a1.55,1.55 0 1,0 3.1,0a1.55,1.55 0 1,0 -3.1,0M664.65,173.40a1.55,1.55 0 1,0 3.1,0a1.55,1.55 0 1,0 -3.1,0M656.65,175.00a1.55,1.55 0 1,0 3.1,0a1.55,1.55 0 1,0 -3.1,0M660.65,175.80a1.55,1.55 0 1,0 3.1,0a1.55,1.55 0 1,0 -3.1,0M660.65,178.30a1.55,1.55 0 1,0 3.1,0a1.55,1.55 0 1,0 -3.1,0M664.65,178.30a1.55,1.55 0 1,0 3.1,0a1.55,1.55 0 1,0 -3.1,0M656.65,180.30a1.55,1.55 0 1,0 3.1,0a1.55,1.55 0 1,0 -3.1,0M660.65,180.70a1.55,1.55 0 1,0 3.1,0a1.55,1.55 0 1,0 -3.1,0M664.65,180.70a1.55,1.55 0 1,0 3.1,0a1.55,1.55 0 1,0 -3.1,0M668.65,181.10a1.55,1.55 0 1,0 3.1,0a1.55,1.55 0 1,0 -3.1,0M660.65,182.70a1.55,1.55 0 1,0 3.1,0a1.55,1.55 0 1,0 -3.1,0M664.65,183.10a1.55,1.55 0 1,0 3.1,0a1.55,1.55 0 1,0 -3.1,0M668.65,183.10a1.55,1.55 0 1,0 3.1,0a1.55,1.55 0 1,0 -3.1,0M656.65,184.70a1.55,1.55 0 1,0 3.1,0a1.55,1.55 0 1,0 -3.1,0M652.65,186.40a1.55,1.55 0 1,0 3.1,0a1.55,1.55 0 1,0 -3.1,0M656.65,186.80a1.55,1.55 0 1,0 3.1,0a1.55,1.55 0 1,0 -3.1,0M664.65,186.40a1.55,1.55 0 1,0 3.1,0a1.55,1.55 0 1,0 -3.1,0M656.65,188.80a1.55,1.55 0 1,0 3.1,0a1.55,1.55 0 1,0 -3.1,0M660.65,187.20a1.55,1.55 0 1,0 3.1,0a1.55,1.55 0 1,0 -3.1,0M660.65,189.60a1.55,1.55 0 1,0 3.1,0a1.55,1.55 0 1,0 -3.1,0M664.65,189.60a1.55,1.55 0 1,0 3.1,0a1.55,1.55 0 1,0 -3.1,0M664.65,191.60a1.55,1.55 0 1,0 3.1,0a1.55,1.55 0 1,0 -3.1,0M660.65,191.60a1.55,1.55 0 1,0 3.1,0a1.55,1.55 0 1,0 -3.1,0M656.65,194.10a1.55,1.55 0 1,0 3.1,0a1.55,1.55 0 1,0 -3.1,0M660.65,194.10a1.55,1.55 0 1,0 3.1,0a1.55,1.55 0 1,0 -3.1,0M664.65,191.20a1.55,1.55 0 1,0 3.1,0a1.55,1.55 0 1,0 -3.1,0M652.65,201.40a1.55,1.55 0 1,0 3.1,0a1.55,1.55 0 1,0 -3.1,0M656.65,202.60a1.55,1.55 0 1,0 3.1,0a1.55,1.55 0 1,0 -3.1,0M660.65,203.00a1.55,1.55 0 1,0 3.1,0a1.55,1.55 0 1,0 -3.1,0M664.65,203.00a1.55,1.55 0 1,0 3.1,0a1.55,1.55 0 1,0 -3.1,0M668.65,202.60a1.55,1.55 0 1,0 3.1,0a1.55,1.55 0 1,0 -3.1,0M652.65,205.80a1.55,1.55 0 1,0 3.1,0a1.55,1.55 0 1,0 -3.1,0M656.65,207.00a1.55,1.55 0 1,0 3.1,0a1.55,1.55 0 1,0 -3.1,0M660.65,207.00a1.55,1.55 0 1,0 3.1,0a1.55,1.55 0 1,0 -3.1,0M664.65,207.00a1.55,1.55 0 1,0 3.1,0a1.55,1.55 0 1,0 -3.1,0M668.65,205.40a1.55,1.55 0 1,0 3.1,0a1.55,1.55 0 1,0 -3.1,0M660.65,211.50a1.55,1.55 0 1,0 3.1,0a1.55,1.55 0 1,0 -3.1,0M664.65,211.10a1.55,1.55 0 1,0 3.1,0a1.55,1.55 0 1,0 -3.1,0M664.65,213.50a1.55,1.55 0 1,0 3.1,0a1.55,1.55 0 1,0 -3.1,0M657.05,215.10a1.55,1.55 0 1,0 3.1,0a1.55,1.55 0 1,0 -3.1,0" fill="#fff" stroke="#fff" stroke-width="0.8"/>
<path d="M662.95,92.90 C662.89,94.08 662.66,96.15 662.60,100.00 C662.54,103.85 662.60,109.90 662.60,116.00 C662.60,122.10 662.42,131.45 662.60,136.60 C662.78,141.75 663.45,144.15 663.70,146.90 C663.95,149.65 663.73,150.72 664.10,153.10 C664.47,155.48 665.18,158.50 665.90,161.20 C666.62,163.90 667.52,166.87 668.40,169.30 C669.28,171.73 670.43,173.90 671.20,175.80 C671.97,177.70 672.67,179.07 673.00,180.70 C673.33,182.33 673.53,184.02 673.20,185.60 C672.87,187.18 671.80,188.63 671.00,190.20 C670.20,191.77 668.82,193.68 668.40,195.00 C667.98,196.32 668.23,197.03 668.50,198.10 C668.77,199.17 669.62,200.18 670.00,201.40 C670.38,202.62 670.87,204.05 670.80,205.40 C670.73,206.75 670.35,208.15 669.60,209.50 C668.85,210.85 667.01,212.53 666.30,213.50 C665.59,214.47 665.51,215.00 665.35,215.30 L659.05,215.30 C658.89,215.00 658.81,214.47 658.10,213.50 C657.39,212.53 655.55,210.85 654.80,209.50 C654.05,208.15 653.67,206.75 653.60,205.40 C653.53,204.05 654.02,202.62 654.40,201.40 C654.78,200.18 655.63,199.17 655.90,198.10 C656.17,197.03 656.42,196.32 656.00,195.00 C655.58,193.68 654.20,191.77 653.40,190.20 C652.60,188.63 651.53,187.18 651.20,185.60 C650.87,184.02 651.07,182.33 651.40,180.70 C651.73,179.07 652.43,177.70 653.20,175.80 C653.97,173.90 655.12,171.73 656.00,169.30 C656.88,166.87 657.78,163.90 658.50,161.20 C659.22,158.50 659.93,155.48 660.30,153.10 C660.67,150.72 660.45,149.65 660.70,146.90 C660.95,144.15 661.62,141.75 661.80,136.60 C661.98,131.45 661.80,122.10 661.80,116.00 C661.80,109.90 661.86,103.85 661.80,100.00 C661.74,96.15 661.51,94.08 661.45,92.90 Z" fill="none" stroke="#000" stroke-width="3.0" stroke-linejoin="round"/>
<path d="M660.65,92.70a1.55,1.55 0 1,0 3.1,0a1.55,1.55 0 1,0 -3.1,0M660.65,144.40a1.55,1.55 0 1,0 3.1,0a1.55,1.55 0 1,0 -3.1,0M660.65,145.80a1.55,1.55 0 1,0 3.1,0a1.55,1.55 0 1,0 -3.1,0M660.65,153.10a1.55,1.55 0 1,0 3.1,0a1.55,1.55 0 1,0 -3.1,0M660.65,157.60a1.55,1.55 0 1,0 3.1,0a1.55,1.55 0 1,0 -3.1,0M656.65,160.40a1.55,1.55 0 1,0 3.1,0a1.55,1.55 0 1,0 -3.1,0M664.65,162.00a1.55,1.55 0 1,0 3.1,0a1.55,1.55 0 1,0 -3.1,0M660.65,163.70a1.55,1.55 0 1,0 3.1,0a1.55,1.55 0 1,0 -3.1,0M656.65,167.70a1.55,1.55 0 1,0 3.1,0a1.55,1.55 0 1,0 -3.1,0M656.65,169.70a1.55,1.55 0 1,0 3.1,0a1.55,1.55 0 1,0 -3.1,0M660.65,168.90a1.55,1.55 0 1,0 3.1,0a1.55,1.55 0 1,0 -3.1,0M664.65,171.00a1.55,1.55 0 1,0 3.1,0a1.55,1.55 0 1,0 -3.1,0M660.65,173.40a1.55,1.55 0 1,0 3.1,0a1.55,1.55 0 1,0 -3.1,0M664.65,173.40a1.55,1.55 0 1,0 3.1,0a1.55,1.55 0 1,0 -3.1,0M656.65,175.00a1.55,1.55 0 1,0 3.1,0a1.55,1.55 0 1,0 -3.1,0M660.65,175.80a1.55,1.55 0 1,0 3.1,0a1.55,1.55 0 1,0 -3.1,0M660.65,178.30a1.55,1.55 0 1,0 3.1,0a1.55,1.55 0 1,0 -3.1,0M664.65,178.30a1.55,1.55 0 1,0 3.1,0a1.55,1.55 0 1,0 -3.1,0M656.65,180.30a1.55,1.55 0 1,0 3.1,0a1.55,1.55 0 1,0 -3.1,0M660.65,180.70a1.55,1.55 0 1,0 3.1,0a1.55,1.55 0 1,0 -3.1,0M664.65,180.70a1.55,1.55 0 1,0 3.1,0a1.55,1.55 0 1,0 -3.1,0M668.65,181.10a1.55,1.55 0 1,0 3.1,0a1.55,1.55 0 1,0 -3.1,0M660.65,182.70a1.55,1.55 0 1,0 3.1,0a1.55,1.55 0 1,0 -3.1,0M664.65,183.10a1.55,1.55 0 1,0 3.1,0a1.55,1.55 0 1,0 -3.1,0M668.65,183.10a1.55,1.55 0 1,0 3.1,0a1.55,1.55 0 1,0 -3.1,0M656.65,184.70a1.55,1.55 0 1,0 3.1,0a1.55,1.55 0 1,0 -3.1,0M652.65,186.40a1.55,1.55 0 1,0 3.1,0a1.55,1.55 0 1,0 -3.1,0M656.65,186.80a1.55,1.55 0 1,0 3.1,0a1.55,1.55 0 1,0 -3.1,0M664.65,186.40a1.55,1.55 0 1,0 3.1,0a1.55,1.55 0 1,0 -3.1,0M656.65,188.80a1.55,1.55 0 1,0 3.1,0a1.55,1.55 0 1,0 -3.1,0M660.65,187.20a1.55,1.55 0 1,0 3.1,0a1.55,1.55 0 1,0 -3.1,0M660.65,189.60a1.55,1.55 0 1,0 3.1,0a1.55,1.55 0 1,0 -3.1,0M664.65,189.60a1.55,1.55 0 1,0 3.1,0a1.55,1.55 0 1,0 -3.1,0M664.65,191.60a1.55,1.55 0 1,0 3.1,0a1.55,1.55 0 1,0 -3.1,0M660.65,191.60a1.55,1.55 0 1,0 3.1,0a1.55,1.55 0 1,0 -3.1,0M656.65,194.10a1.55,1.55 0 1,0 3.1,0a1.55,1.55 0 1,0 -3.1,0M660.65,194.10a1.55,1.55 0 1,0 3.1,0a1.55,1.55 0 1,0 -3.1,0M664.65,191.20a1.55,1.55 0 1,0 3.1,0a1.55,1.55 0 1,0 -3.1,0M652.65,201.40a1.55,1.55 0 1,0 3.1,0a1.55,1.55 0 1,0 -3.1,0M656.65,202.60a1.55,1.55 0 1,0 3.1,0a1.55,1.55 0 1,0 -3.1,0M660.65,203.00a1.55,1.55 0 1,0 3.1,0a1.55,1.55 0 1,0 -3.1,0M664.65,203.00a1.55,1.55 0 1,0 3.1,0a1.55,1.55 0 1,0 -3.1,0M668.65,202.60a1.55,1.55 0 1,0 3.1,0a1.55,1.55 0 1,0 -3.1,0M652.65,205.80a1.55,1.55 0 1,0 3.1,0a1.55,1.55 0 1,0 -3.1,0M656.65,207.00a1.55,1.55 0 1,0 3.1,0a1.55,1.55 0 1,0 -3.1,0M660.65,207.00a1.55,1.55 0 1,0 3.1,0a1.55,1.55 0 1,0 -3.1,0M664.65,207.00a1.55,1.55 0 1,0 3.1,0a1.55,1.55 0 1,0 -3.1,0M668.65,205.40a1.55,1.55 0 1,0 3.1,0a1.55,1.55 0 1,0 -3.1,0M660.65,211.50a1.55,1.55 0 1,0 3.1,0a1.55,1.55 0 1,0 -3.1,0M664.65,211.10a1.55,1.55 0 1,0 3.1,0a1.55,1.55 0 1,0 -3.1,0M664.65,213.50a1.55,1.55 0 1,0 3.1,0a1.55,1.55 0 1,0 -3.1,0M657.05,215.10a1.55,1.55 0 1,0 3.1,0a1.55,1.55 0 1,0 -3.1,0" fill="#0000cc"/>
<path d="M704.45,111.40 C704.23,112.00 703.33,113.22 703.10,115.00 C702.88,116.78 703.10,118.40 703.10,122.10 C703.10,125.80 702.93,133.80 703.10,137.20 C703.27,140.60 703.78,140.73 704.10,142.50 C704.42,144.27 704.72,146.03 705.00,147.80 C705.28,149.57 705.53,151.55 705.80,153.10 C706.07,154.65 706.15,155.25 706.60,157.10 C707.05,158.95 707.97,162.13 708.50,164.20 C709.03,166.27 709.17,167.88 709.80,169.50 C710.43,171.12 711.58,172.43 712.30,173.90 C713.02,175.37 714.17,176.83 714.10,178.30 C714.03,179.77 712.87,181.22 711.90,182.70 C710.93,184.18 709.27,185.72 708.30,187.20 C707.33,188.68 706.62,190.13 706.10,191.60 C705.58,193.07 705.45,194.85 705.20,196.00 C704.95,197.15 704.87,197.40 704.60,198.50 C704.33,199.60 703.65,200.97 703.60,202.60 C703.55,204.23 704.18,207.17 704.30,208.30 C704.42,209.43 704.30,209.22 704.30,209.40 L701.10,209.40 C701.10,209.22 700.98,209.43 701.10,208.30 C701.22,207.17 701.85,204.23 701.80,202.60 C701.75,200.97 701.07,199.60 700.80,198.50 C700.53,197.40 700.45,197.15 700.20,196.00 C699.95,194.85 699.82,193.07 699.30,191.60 C698.78,190.13 698.07,188.68 697.10,187.20 C696.13,185.72 694.47,184.18 693.50,182.70 C692.53,181.22 691.37,179.77 691.30,178.30 C691.23,176.83 692.38,175.37 693.10,173.90 C693.82,172.43 694.97,171.12 695.60,169.50 C696.23,167.88 696.37,166.27 696.90,164.20 C697.43,162.13 698.35,158.95 698.80,157.10 C699.25,155.25 699.33,154.65 699.60,153.10 C699.87,151.55 700.12,149.57 700.40,147.80 C700.68,146.03 700.98,144.27 701.30,142.50 C701.62,140.73 702.13,140.60 702.30,137.20 C702.47,133.80 702.30,125.80 702.30,122.10 C702.30,118.40 702.53,116.78 702.30,115.00 C702.08,113.22 701.18,112.00 700.95,111.40 Z" fill="#fdeff2" stroke="none"/>
<path d="M700.40,165H702.60" stroke="#f01e23" stroke-width="1.8"/>
<path d="M700.40,185H702.60M709.70,185H710.06" stroke="#f01e23" stroke-width="1.8"/>
<path d="M692.04,176.5H698.10M707.30,176.5H713.36" stroke="#10b810" stroke-width="2.9"/>
<path d="M699.35,111.10a1.55,1.55 0 1,0 3.1,0a1.55,1.55 0 1,0 -3.1,0M698.95,146.50a1.55,1.55 0 1,0 3.1,0a1.55,1.55 0 1,0 -3.1,0M703.35,147.80a1.55,1.55 0 1,0 3.1,0a1.55,1.55 0 1,0 -3.1,0M703.35,154.20a1.55,1.55 0 1,0 3.1,0a1.55,1.55 0 1,0 -3.1,0M703.35,156.80a1.55,1.55 0 1,0 3.1,0a1.55,1.55 0 1,0 -3.1,0M703.35,159.30a1.55,1.55 0 1,0 3.1,0a1.55,1.55 0 1,0 -3.1,0M703.35,161.50a1.55,1.55 0 1,0 3.1,0a1.55,1.55 0 1,0 -3.1,0M695.35,163.70a1.55,1.55 0 1,0 3.1,0a1.55,1.55 0 1,0 -3.1,0M699.35,165.00a1.55,1.55 0 1,0 3.1,0a1.55,1.55 0 1,0 -3.1,0M707.35,164.20a1.55,1.55 0 1,0 3.1,0a1.55,1.55 0 1,0 -3.1,0M699.35,170.80a1.55,1.55 0 1,0 3.1,0a1.55,1.55 0 1,0 -3.1,0M703.35,169.00a1.55,1.55 0 1,0 3.1,0a1.55,1.55 0 1,0 -3.1,0M707.35,170.80a1.55,1.55 0 1,0 3.1,0a1.55,1.55 0 1,0 -3.1,0M699.35,173.50a1.55,1.55 0 1,0 3.1,0a1.55,1.55 0 1,0 -3.1,0M703.35,174.80a1.55,1.55 0 1,0 3.1,0a1.55,1.55 0 1,0 -3.1,0M707.35,173.00a1.55,1.55 0 1,0 3.1,0a1.55,1.55 0 1,0 -3.1,0M690.95,177.90a1.55,1.55 0 1,0 3.1,0a1.55,1.55 0 1,0 -3.1,0M695.35,177.90a1.55,1.55 0 1,0 3.1,0a1.55,1.55 0 1,0 -3.1,0M699.35,179.20a1.55,1.55 0 1,0 3.1,0a1.55,1.55 0 1,0 -3.1,0M703.35,178.80a1.55,1.55 0 1,0 3.1,0a1.55,1.55 0 1,0 -3.1,0M707.35,177.40a1.55,1.55 0 1,0 3.1,0a1.55,1.55 0 1,0 -3.1,0M711.75,178.80a1.55,1.55 0 1,0 3.1,0a1.55,1.55 0 1,0 -3.1,0M699.35,181.40a1.55,1.55 0 1,0 3.1,0a1.55,1.55 0 1,0 -3.1,0M695.35,182.70a1.55,1.55 0 1,0 3.1,0a1.55,1.55 0 1,0 -3.1,0M699.35,184.50a1.55,1.55 0 1,0 3.1,0a1.55,1.55 0 1,0 -3.1,0M703.35,183.60a1.55,1.55 0 1,0 3.1,0a1.55,1.55 0 1,0 -3.1,0M707.35,181.40a1.55,1.55 0 1,0 3.1,0a1.55,1.55 0 1,0 -3.1,0M703.35,188.10a1.55,1.55 0 1,0 3.1,0a1.55,1.55 0 1,0 -3.1,0M699.35,189.80a1.55,1.55 0 1,0 3.1,0a1.55,1.55 0 1,0 -3.1,0M699.35,196.00a1.55,1.55 0 1,0 3.1,0a1.55,1.55 0 1,0 -3.1,0M703.35,195.60a1.55,1.55 0 1,0 3.1,0a1.55,1.55 0 1,0 -3.1,0M699.05,196.10a1.55,1.55 0 1,0 3.1,0a1.55,1.55 0 1,0 -3.1,0M703.45,196.10a1.55,1.55 0 1,0 3.1,0a1.55,1.55 0 1,0 -3.1,0M699.05,209.00a1.55,1.55 0 1,0 3.1,0a1.55,1.55 0 1,0 -3.1,0" fill="#fff" stroke="#fff" stroke-width="0.8"/>
<path d="M704.45,111.40 C704.23,112.00 703.33,113.22 703.10,115.00 C702.88,116.78 703.10,118.40 703.10,122.10 C703.10,125.80 702.93,133.80 703.10,137.20 C703.27,140.60 703.78,140.73 704.10,142.50 C704.42,144.27 704.72,146.03 705.00,147.80 C705.28,149.57 705.53,151.55 705.80,153.10 C706.07,154.65 706.15,155.25 706.60,157.10 C707.05,158.95 707.97,162.13 708.50,164.20 C709.03,166.27 709.17,167.88 709.80,169.50 C710.43,171.12 711.58,172.43 712.30,173.90 C713.02,175.37 714.17,176.83 714.10,178.30 C714.03,179.77 712.87,181.22 711.90,182.70 C710.93,184.18 709.27,185.72 708.30,187.20 C707.33,188.68 706.62,190.13 706.10,191.60 C705.58,193.07 705.45,194.85 705.20,196.00 C704.95,197.15 704.87,197.40 704.60,198.50 C704.33,199.60 703.65,200.97 703.60,202.60 C703.55,204.23 704.18,207.17 704.30,208.30 C704.42,209.43 704.30,209.22 704.30,209.40 L701.10,209.40 C701.10,209.22 700.98,209.43 701.10,208.30 C701.22,207.17 701.85,204.23 701.80,202.60 C701.75,200.97 701.07,199.60 700.80,198.50 C700.53,197.40 700.45,197.15 700.20,196.00 C699.95,194.85 699.82,193.07 699.30,191.60 C698.78,190.13 698.07,188.68 697.10,187.20 C696.13,185.72 694.47,184.18 693.50,182.70 C692.53,181.22 691.37,179.77 691.30,178.30 C691.23,176.83 692.38,175.37 693.10,173.90 C693.82,172.43 694.97,171.12 695.60,169.50 C696.23,167.88 696.37,166.27 696.90,164.20 C697.43,162.13 698.35,158.95 698.80,157.10 C699.25,155.25 699.33,154.65 699.60,153.10 C699.87,151.55 700.12,149.57 700.40,147.80 C700.68,146.03 700.98,144.27 701.30,142.50 C701.62,140.73 702.13,140.60 702.30,137.20 C702.47,133.80 702.30,125.80 702.30,122.10 C702.30,118.40 702.53,116.78 702.30,115.00 C702.08,113.22 701.18,112.00 700.95,111.40 Z" fill="none" stroke="#000" stroke-width="3.0" stroke-linejoin="round"/>
<path d="M699.35,111.10a1.55,1.55 0 1,0 3.1,0a1.55,1.55 0 1,0 -3.1,0M698.95,146.50a1.55,1.55 0 1,0 3.1,0a1.55,1.55 0 1,0 -3.1,0M703.35,147.80a1.55,1.55 0 1,0 3.1,0a1.55,1.55 0 1,0 -3.1,0M703.35,154.20a1.55,1.55 0 1,0 3.1,0a1.55,1.55 0 1,0 -3.1,0M703.35,156.80a1.55,1.55 0 1,0 3.1,0a1.55,1.55 0 1,0 -3.1,0M703.35,159.30a1.55,1.55 0 1,0 3.1,0a1.55,1.55 0 1,0 -3.1,0M703.35,161.50a1.55,1.55 0 1,0 3.1,0a1.55,1.55 0 1,0 -3.1,0M695.35,163.70a1.55,1.55 0 1,0 3.1,0a1.55,1.55 0 1,0 -3.1,0M699.35,165.00a1.55,1.55 0 1,0 3.1,0a1.55,1.55 0 1,0 -3.1,0M707.35,164.20a1.55,1.55 0 1,0 3.1,0a1.55,1.55 0 1,0 -3.1,0M699.35,170.80a1.55,1.55 0 1,0 3.1,0a1.55,1.55 0 1,0 -3.1,0M703.35,169.00a1.55,1.55 0 1,0 3.1,0a1.55,1.55 0 1,0 -3.1,0M707.35,170.80a1.55,1.55 0 1,0 3.1,0a1.55,1.55 0 1,0 -3.1,0M699.35,173.50a1.55,1.55 0 1,0 3.1,0a1.55,1.55 0 1,0 -3.1,0M703.35,174.80a1.55,1.55 0 1,0 3.1,0a1.55,1.55 0 1,0 -3.1,0M707.35,173.00a1.55,1.55 0 1,0 3.1,0a1.55,1.55 0 1,0 -3.1,0M690.95,177.90a1.55,1.55 0 1,0 3.1,0a1.55,1.55 0 1,0 -3.1,0M695.35,177.90a1.55,1.55 0 1,0 3.1,0a1.55,1.55 0 1,0 -3.1,0M699.35,179.20a1.55,1.55 0 1,0 3.1,0a1.55,1.55 0 1,0 -3.1,0M703.35,178.80a1.55,1.55 0 1,0 3.1,0a1.55,1.55 0 1,0 -3.1,0M707.35,177.40a1.55,1.55 0 1,0 3.1,0a1.55,1.55 0 1,0 -3.1,0M711.75,178.80a1.55,1.55 0 1,0 3.1,0a1.55,1.55 0 1,0 -3.1,0M699.35,181.40a1.55,1.55 0 1,0 3.1,0a1.55,1.55 0 1,0 -3.1,0M695.35,182.70a1.55,1.55 0 1,0 3.1,0a1.55,1.55 0 1,0 -3.1,0M699.35,184.50a1.55,1.55 0 1,0 3.1,0a1.55,1.55 0 1,0 -3.1,0M703.35,183.60a1.55,1.55 0 1,0 3.1,0a1.55,1.55 0 1,0 -3.1,0M707.35,181.40a1.55,1.55 0 1,0 3.1,0a1.55,1.55 0 1,0 -3.1,0M703.35,188.10a1.55,1.55 0 1,0 3.1,0a1.55,1.55 0 1,0 -3.1,0M699.35,189.80a1.55,1.55 0 1,0 3.1,0a1.55,1.55 0 1,0 -3.1,0M699.35,196.00a1.55,1.55 0 1,0 3.1,0a1.55,1.55 0 1,0 -3.1,0M703.35,195.60a1.55,1.55 0 1,0 3.1,0a1.55,1.55 0 1,0 -3.1,0M699.05,196.10a1.55,1.55 0 1,0 3.1,0a1.55,1.55 0 1,0 -3.1,0M703.45,196.10a1.55,1.55 0 1,0 3.1,0a1.55,1.55 0 1,0 -3.1,0M699.05,209.00a1.55,1.55 0 1,0 3.1,0a1.55,1.55 0 1,0 -3.1,0" fill="#0000cc"/>
<path d="M79.25,570.10 C79.06,570.75 78.29,572.47 78.10,574.00 C77.91,575.53 78.08,575.70 78.10,579.30 C78.12,582.90 78.02,592.08 78.20,595.60 C78.38,599.12 78.83,598.85 79.20,600.40 C79.57,601.95 80.03,603.35 80.40,604.90 C80.77,606.45 81.37,608.08 81.40,609.70 C81.43,611.32 80.93,612.97 80.60,614.60 C80.27,616.23 79.13,618.02 79.40,619.50 C79.67,620.98 81.12,622.28 82.20,623.50 C83.28,624.72 84.75,625.58 85.90,626.80 C87.05,628.02 88.97,629.45 89.10,630.80 C89.23,632.15 87.50,633.55 86.70,634.90 C85.90,636.25 84.83,638.07 84.30,638.90 C83.77,639.73 83.63,639.73 83.50,639.90 L71.90,639.90 C71.77,639.73 71.63,639.73 71.10,638.90 C70.57,638.07 69.50,636.25 68.70,634.90 C67.90,633.55 66.17,632.15 66.30,630.80 C66.43,629.45 68.35,628.02 69.50,626.80 C70.65,625.58 72.12,624.72 73.20,623.50 C74.28,622.28 75.73,620.98 76.00,619.50 C76.27,618.02 75.13,616.23 74.80,614.60 C74.47,612.97 73.97,611.32 74.00,609.70 C74.03,608.08 74.63,606.45 75.00,604.90 C75.37,603.35 75.83,601.95 76.20,600.40 C76.57,598.85 77.02,599.12 77.20,595.60 C77.38,592.08 77.28,582.90 77.30,579.30 C77.32,575.70 77.49,575.53 77.30,574.00 C77.11,572.47 76.34,570.75 76.15,570.10 Z" fill="#fdeff2" stroke="none"/>
<path d="M75.40,625.5H77.60" stroke="#f01e23" stroke-width="1.8"/>
<path d="M75.40,636H77.60M84.70,636H86.04" stroke="#f01e23" stroke-width="1.8"/>
<path d="M66.94,630H73.10M82.30,630H88.46" stroke="#10b810" stroke-width="2.9"/>
<path d="M78.25,570.00a1.55,1.55 0 1,0 3.1,0a1.55,1.55 0 1,0 -3.1,0M73.75,606.10a1.55,1.55 0 1,0 3.1,0a1.55,1.55 0 1,0 -3.1,0M78.45,604.60a1.55,1.55 0 1,0 3.1,0a1.55,1.55 0 1,0 -3.1,0M73.75,611.70a1.55,1.55 0 1,0 3.1,0a1.55,1.55 0 1,0 -3.1,0M78.45,611.30a1.55,1.55 0 1,0 3.1,0a1.55,1.55 0 1,0 -3.1,0M78.45,613.20a1.55,1.55 0 1,0 3.1,0a1.55,1.55 0 1,0 -3.1,0M82.55,611.00a1.55,1.55 0 1,0 3.1,0a1.55,1.55 0 1,0 -3.1,0M78.45,617.90a1.55,1.55 0 1,0 3.1,0a1.55,1.55 0 1,0 -3.1,0M70.05,623.40a1.55,1.55 0 1,0 3.1,0a1.55,1.55 0 1,0 -3.1,0M70.05,625.60a1.55,1.55 0 1,0 3.1,0a1.55,1.55 0 1,0 -3.1,0M70.05,627.80a1.55,1.55 0 1,0 3.1,0a1.55,1.55 0 1,0 -3.1,0M70.05,630.00a1.55,1.55 0 1,0 3.1,0a1.55,1.55 0 1,0 -3.1,0M70.05,632.20a1.55,1.55 0 1,0 3.1,0a1.55,1.55 0 1,0 -3.1,0M70.05,637.20a1.55,1.55 0 1,0 3.1,0a1.55,1.55 0 1,0 -3.1,0M70.05,639.40a1.55,1.55 0 1,0 3.1,0a1.55,1.55 0 1,0 -3.1,0M74.25,624.60a1.55,1.55 0 1,0 3.1,0a1.55,1.55 0 1,0 -3.1,0M74.25,628.80a1.55,1.55 0 1,0 3.1,0a1.55,1.55 0 1,0 -3.1,0M74.25,631.00a1.55,1.55 0 1,0 3.1,0a1.55,1.55 0 1,0 -3.1,0M74.25,633.20a1.55,1.55 0 1,0 3.1,0a1.55,1.55 0 1,0 -3.1,0M74.25,635.40a1.55,1.55 0 1,0 3.1,0a1.55,1.55 0 1,0 -3.1,0M74.25,639.10a1.55,1.55 0 1,0 3.1,0a1.55,1.55 0 1,0 -3.1,0M78.45,624.90a1.55,1.55 0 1,0 3.1,0a1.55,1.55 0 1,0 -3.1,0M78.45,627.10a1.55,1.55 0 1,0 3.1,0a1.55,1.55 0 1,0 -3.1,0M78.45,629.30a1.55,1.55 0 1,0 3.1,0a1.55,1.55 0 1,0 -3.1,0M78.45,631.50a1.55,1.55 0 1,0 3.1,0a1.55,1.55 0 1,0 -3.1,0M78.45,633.70a1.55,1.55 0 1,0 3.1,0a1.55,1.55 0 1,0 -3.1,0M78.45,635.90a1.55,1.55 0 1,0 3.1,0a1.55,1.55 0 1,0 -3.1,0M78.45,638.10a1.55,1.55 0 1,0 3.1,0a1.55,1.55 0 1,0 -3.1,0M78.45,639.60a1.55,1.55 0 1,0 3.1,0a1.55,1.55 0 1,0 -3.1,0M82.35,629.30a1.55,1.55 0 1,0 3.1,0a1.55,1.55 0 1,0 -3.1,0M82.35,632.70a1.55,1.55 0 1,0 3.1,0a1.55,1.55 0 1,0 -3.1,0M82.35,639.10a1.55,1.55 0 1,0 3.1,0a1.55,1.55 0 1,0 -3.1,0M65.85,630.80a1.55,1.55 0 1,0 3.1,0a1.55,1.55 0 1,0 -3.1,0" fill="#fff" stroke="#fff" stroke-width="0.8"/>
<path d="M79.25,570.10 C79.06,570.75 78.29,572.47 78.10,574.00 C77.91,575.53 78.08,575.70 78.10,579.30 C78.12,582.90 78.02,592.08 78.20,595.60 C78.38,599.12 78.83,598.85 79.20,600.40 C79.57,601.95 80.03,603.35 80.40,604.90 C80.77,606.45 81.37,608.08 81.40,609.70 C81.43,611.32 80.93,612.97 80.60,614.60 C80.27,616.23 79.13,618.02 79.40,619.50 C79.67,620.98 81.12,622.28 82.20,623.50 C83.28,624.72 84.75,625.58 85.90,626.80 C87.05,628.02 88.97,629.45 89.10,630.80 C89.23,632.15 87.50,633.55 86.70,634.90 C85.90,636.25 84.83,638.07 84.30,638.90 C83.77,639.73 83.63,639.73 83.50,639.90 L71.90,639.90 C71.77,639.73 71.63,639.73 71.10,638.90 C70.57,638.07 69.50,636.25 68.70,634.90 C67.90,633.55 66.17,632.15 66.30,630.80 C66.43,629.45 68.35,628.02 69.50,626.80 C70.65,625.58 72.12,624.72 73.20,623.50 C74.28,622.28 75.73,620.98 76.00,619.50 C76.27,618.02 75.13,616.23 74.80,614.60 C74.47,612.97 73.97,611.32 74.00,609.70 C74.03,608.08 74.63,606.45 75.00,604.90 C75.37,603.35 75.83,601.95 76.20,600.40 C76.57,598.85 77.02,599.12 77.20,595.60 C77.38,592.08 77.28,582.90 77.30,579.30 C77.32,575.70 77.49,575.53 77.30,574.00 C77.11,572.47 76.34,570.75 76.15,570.10 Z" fill="none" stroke="#000" stroke-width="3.0" stroke-linejoin="round"/>
<path d="M78.25,570.00a1.55,1.55 0 1,0 3.1,0a1.55,1.55 0 1,0 -3.1,0M73.75,606.10a1.55,1.55 0 1,0 3.1,0a1.55,1.55 0 1,0 -3.1,0M78.45,604.60a1.55,1.55 0 1,0 3.1,0a1.55,1.55 0 1,0 -3.1,0M73.75,611.70a1.55,1.55 0 1,0 3.1,0a1.55,1.55 0 1,0 -3.1,0M78.45,611.30a1.55,1.55 0 1,0 3.1,0a1.55,1.55 0 1,0 -3.1,0M78.45,613.20a1.55,1.55 0 1,0 3.1,0a1.55,1.55 0 1,0 -3.1,0M82.55,611.00a1.55,1.55 0 1,0 3.1,0a1.55,1.55 0 1,0 -3.1,0M78.45,617.90a1.55,1.55 0 1,0 3.1,0a1.55,1.55 0 1,0 -3.1,0M70.05,623.40a1.55,1.55 0 1,0 3.1,0a1.55,1.55 0 1,0 -3.1,0M70.05,625.60a1.55,1.55 0 1,0 3.1,0a1.55,1.55 0 1,0 -3.1,0M70.05,627.80a1.55,1.55 0 1,0 3.1,0a1.55,1.55 0 1,0 -3.1,0M70.05,630.00a1.55,1.55 0 1,0 3.1,0a1.55,1.55 0 1,0 -3.1,0M70.05,632.20a1.55,1.55 0 1,0 3.1,0a1.55,1.55 0 1,0 -3.1,0M70.05,637.20a1.55,1.55 0 1,0 3.1,0a1.55,1.55 0 1,0 -3.1,0M70.05,639.40a1.55,1.55 0 1,0 3.1,0a1.55,1.55 0 1,0 -3.1,0M74.25,624.60a1.55,1.55 0 1,0 3.1,0a1.55,1.55 0 1,0 -3.1,0M74.25,628.80a1.55,1.55 0 1,0 3.1,0a1.55,1.55 0 1,0 -3.1,0M74.25,631.00a1.55,1.55 0 1,0 3.1,0a1.55,1.55 0 1,0 -3.1,0M74.25,633.20a1.55,1.55 0 1,0 3.1,0a1.55,1.55 0 1,0 -3.1,0M74.25,635.40a1.55,1.55 0 1,0 3.1,0a1.55,1.55 0 1,0 -3.1,0M74.25,639.10a1.55,1.55 0 1,0 3.1,0a1.55,1.55 0 1,0 -3.1,0M78.45,624.90a1.55,1.55 0 1,0 3.1,0a1.55,1.55 0 1,0 -3.1,0M78.45,627.10a1.55,1.55 0 1,0 3.1,0a1.55,1.55 0 1,0 -3.1,0M78.45,629.30a1.55,1.55 0 1,0 3.1,0a1.55,1.55 0 1,0 -3.1,0M78.45,631.50a1.55,1.55 0 1,0 3.1,0a1.55,1.55 0 1,0 -3.1,0M78.45,633.70a1.55,1.55 0 1,0 3.1,0a1.55,1.55 0 1,0 -3.1,0M78.45,635.90a1.55,1.55 0 1,0 3.1,0a1.55,1.55 0 1,0 -3.1,0M78.45,638.10a1.55,1.55 0 1,0 3.1,0a1.55,1.55 0 1,0 -3.1,0M78.45,639.60a1.55,1.55 0 1,0 3.1,0a1.55,1.55 0 1,0 -3.1,0M82.35,629.30a1.55,1.55 0 1,0 3.1,0a1.55,1.55 0 1,0 -3.1,0M82.35,632.70a1.55,1.55 0 1,0 3.1,0a1.55,1.55 0 1,0 -3.1,0M82.35,639.10a1.55,1.55 0 1,0 3.1,0a1.55,1.55 0 1,0 -3.1,0M65.85,630.80a1.55,1.55 0 1,0 3.1,0a1.55,1.55 0 1,0 -3.1,0" fill="#0000cc"/>
<path d="M119.30,481.30 C119.22,482.08 118.88,476.22 118.80,486.00 C118.72,495.78 118.80,526.83 118.80,540.00 C118.80,553.17 118.77,560.28 118.80,565.00 C118.83,569.72 119.00,567.13 119.00,568.30 C119.00,569.47 118.82,570.00 118.80,572.00 C118.78,574.00 118.90,578.30 118.90,580.30 C118.90,582.30 118.80,582.68 118.80,584.00 C118.80,585.32 118.90,586.87 118.90,588.20 C118.90,589.53 118.82,590.35 118.80,592.00 C118.78,593.65 118.68,595.73 118.80,598.10 C118.92,600.47 119.25,604.03 119.50,606.20 C119.75,608.37 119.77,609.47 120.30,611.10 C120.83,612.73 121.82,614.52 122.70,616.00 C123.58,617.48 124.85,618.65 125.60,620.00 C126.35,621.35 126.87,622.62 127.20,624.10 C127.53,625.58 127.60,627.28 127.60,628.90 C127.60,630.52 127.47,632.43 127.20,633.80 C126.93,635.17 126.29,636.40 126.00,637.10 C125.71,637.80 125.54,637.85 125.45,638.00 L111.35,638.00 C111.26,637.85 111.09,637.80 110.80,637.10 C110.51,636.40 109.87,635.17 109.60,633.80 C109.33,632.43 109.20,630.52 109.20,628.90 C109.20,627.28 109.27,625.58 109.60,624.10 C109.93,622.62 110.45,621.35 111.20,620.00 C111.95,618.65 113.22,617.48 114.10,616.00 C114.98,614.52 115.97,612.73 116.50,611.10 C117.03,609.47 117.05,608.37 117.30,606.20 C117.55,604.03 117.88,600.47 118.00,598.10 C118.12,595.73 118.02,593.65 118.00,592.00 C117.98,590.35 117.90,589.53 117.90,588.20 C117.90,586.87 118.00,585.32 118.00,584.00 C118.00,582.68 117.90,582.30 117.90,580.30 C117.90,578.30 118.02,574.00 118.00,572.00 C117.98,570.00 117.80,569.47 117.80,568.30 C117.80,567.13 117.97,569.72 118.00,565.00 C118.03,560.28 118.00,553.17 118.00,540.00 C118.00,526.83 118.08,495.78 118.00,486.00 C117.92,476.22 117.58,482.08 117.50,481.30 Z" fill="#fdeff2" stroke="none"/>
<path d="M116.10,620.4H118.30M125.40,620.4H125.76" stroke="#f01e23" stroke-width="1.8"/>
<path d="M116.10,633.8H118.30M125.40,633.8H127.20" stroke="#f01e23" stroke-width="1.8"/>
<path d="M109.37,626.9H113.80M123.00,626.9H127.43" stroke="#10b810" stroke-width="2.9"/>
<path d="M116.85,481.50a1.55,1.55 0 1,0 3.1,0a1.55,1.55 0 1,0 -3.1,0M116.85,568.30a1.55,1.55 0 1,0 3.1,0a1.55,1.55 0 1,0 -3.1,0M116.85,580.30a1.55,1.55 0 1,0 3.1,0a1.55,1.55 0 1,0 -3.1,0M116.85,588.20a1.55,1.55 0 1,0 3.1,0a1.55,1.55 0 1,0 -3.1,0M116.85,590.40a1.55,1.55 0 1,0 3.1,0a1.55,1.55 0 1,0 -3.1,0M112.55,604.20a1.55,1.55 0 1,0 3.1,0a1.55,1.55 0 1,0 -3.1,0M116.85,604.20a1.55,1.55 0 1,0 3.1,0a1.55,1.55 0 1,0 -3.1,0M121.15,603.40a1.55,1.55 0 1,0 3.1,0a1.55,1.55 0 1,0 -3.1,0M112.55,611.50a1.55,1.55 0 1,0 3.1,0a1.55,1.55 0 1,0 -3.1,0M121.15,609.90a1.55,1.55 0 1,0 3.1,0a1.55,1.55 0 1,0 -3.1,0M116.85,613.10a1.55,1.55 0 1,0 3.1,0a1.55,1.55 0 1,0 -3.1,0M112.55,615.10a1.55,1.55 0 1,0 3.1,0a1.55,1.55 0 1,0 -3.1,0M112.55,616.40a1.55,1.55 0 1,0 3.1,0a1.55,1.55 0 1,0 -3.1,0M120.95,617.20a1.55,1.55 0 1,0 3.1,0a1.55,1.55 0 1,0 -3.1,0M116.85,618.80a1.55,1.55 0 1,0 3.1,0a1.55,1.55 0 1,0 -3.1,0M104.35,625.80a1.55,1.55 0 1,0 3.1,0a1.55,1.55 0 1,0 -3.1,0M104.35,628.00a1.55,1.55 0 1,0 3.1,0a1.55,1.55 0 1,0 -3.1,0M104.35,630.20a1.55,1.55 0 1,0 3.1,0a1.55,1.55 0 1,0 -3.1,0M104.35,632.40a1.55,1.55 0 1,0 3.1,0a1.55,1.55 0 1,0 -3.1,0M104.35,634.40a1.55,1.55 0 1,0 3.1,0a1.55,1.55 0 1,0 -3.1,0M104.35,620.30a1.55,1.55 0 1,0 3.1,0a1.55,1.55 0 1,0 -3.1,0M108.25,622.00a1.55,1.55 0 1,0 3.1,0a1.55,1.55 0 1,0 -3.1,0M108.25,624.20a1.55,1.55 0 1,0 3.1,0a1.55,1.55 0 1,0 -3.1,0M108.25,626.40a1.55,1.55 0 1,0 3.1,0a1.55,1.55 0 1,0 -3.1,0M108.25,628.60a1.55,1.55 0 1,0 3.1,0a1.55,1.55 0 1,0 -3.1,0M108.25,630.80a1.55,1.55 0 1,0 3.1,0a1.55,1.55 0 1,0 -3.1,0M108.25,633.00a1.55,1.55 0 1,0 3.1,0a1.55,1.55 0 1,0 -3.1,0M108.25,635.20a1.55,1.55 0 1,0 3.1,0a1.55,1.55 0 1,0 -3.1,0M108.25,637.40a1.55,1.55 0 1,0 3.1,0a1.55,1.55 0 1,0 -3.1,0M108.25,639.00a1.55,1.55 0 1,0 3.1,0a1.55,1.55 0 1,0 -3.1,0M112.45,621.80a1.55,1.55 0 1,0 3.1,0a1.55,1.55 0 1,0 -3.1,0M112.45,624.00a1.55,1.55 0 1,0 3.1,0a1.55,1.55 0 1,0 -3.1,0M112.45,626.20a1.55,1.55 0 1,0 3.1,0a1.55,1.55 0 1,0 -3.1,0M112.45,628.40a1.55,1.55 0 1,0 3.1,0a1.55,1.55 0 1,0 -3.1,0M112.45,630.60a1.55,1.55 0 1,0 3.1,0a1.55,1.55 0 1,0 -3.1,0M112.45,632.80a1.55,1.55 0 1,0 3.1,0a1.55,1.55 0 1,0 -3.1,0M112.45,635.00a1.55,1.55 0 1,0 3.1,0a1.55,1.55 0 1,0 -3.1,0M112.45,637.20a1.55,1.55 0 1,0 3.1,0a1.55,1.55 0 1,0 -3.1,0M116.85,622.90a1.55,1.55 0 1,0 3.1,0a1.55,1.55 0 1,0 -3.1,0M116.85,627.60a1.55,1.55 0 1,0 3.1,0a1.55,1.55 0 1,0 -3.1,0M116.85,633.30a1.55,1.55 0 1,0 3.1,0a1.55,1.55 0 1,0 -3.1,0M116.85,638.50a1.55,1.55 0 1,0 3.1,0a1.55,1.55 0 1,0 -3.1,0M120.95,624.00a1.55,1.55 0 1,0 3.1,0a1.55,1.55 0 1,0 -3.1,0M120.95,625.50a1.55,1.55 0 1,0 3.1,0a1.55,1.55 0 1,0 -3.1,0M120.95,627.10a1.55,1.55 0 1,0 3.1,0a1.55,1.55 0 1,0 -3.1,0M120.95,631.20a1.55,1.55 0 1,0 3.1,0a1.55,1.55 0 1,0 -3.1,0M120.95,632.80a1.55,1.55 0 1,0 3.1,0a1.55,1.55 0 1,0 -3.1,0M120.95,634.30a1.55,1.55 0 1,0 3.1,0a1.55,1.55 0 1,0 -3.1,0M120.95,638.50a1.55,1.55 0 1,0 3.1,0a1.55,1.55 0 1,0 -3.1,0M125.15,626.00a1.55,1.55 0 1,0 3.1,0a1.55,1.55 0 1,0 -3.1,0M125.15,628.20a1.55,1.55 0 1,0 3.1,0a1.55,1.55 0 1,0 -3.1,0M125.15,630.40a1.55,1.55 0 1,0 3.1,0a1.55,1.55 0 1,0 -3.1,0M125.15,632.60a1.55,1.55 0 1,0 3.1,0a1.55,1.55 0 1,0 -3.1,0M125.15,634.80a1.55,1.55 0 1,0 3.1,0a1.55,1.55 0 1,0 -3.1,0M125.15,637.00a1.55,1.55 0 1,0 3.1,0a1.55,1.55 0 1,0 -3.1,0M125.15,639.00a1.55,1.55 0 1,0 3.1,0a1.55,1.55 0 1,0 -3.1,0M129.55,620.30a1.55,1.55 0 1,0 3.1,0a1.55,1.55 0 1,0 -3.1,0M129.55,626.60a1.55,1.55 0 1,0 3.1,0a1.55,1.55 0 1,0 -3.1,0M129.55,628.10a1.55,1.55 0 1,0 3.1,0a1.55,1.55 0 1,0 -3.1,0M129.55,629.70a1.55,1.55 0 1,0 3.1,0a1.55,1.55 0 1,0 -3.1,0M129.55,632.80a1.55,1.55 0 1,0 3.1,0a1.55,1.55 0 1,0 -3.1,0M129.55,637.50a1.55,1.55 0 1,0 3.1,0a1.55,1.55 0 1,0 -3.1,0" fill="#fff" stroke="#fff" stroke-width="0.8"/>
<path d="M119.30,481.30 C119.22,482.08 118.88,476.22 118.80,486.00 C118.72,495.78 118.80,526.83 118.80,540.00 C118.80,553.17 118.77,560.28 118.80,565.00 C118.83,569.72 119.00,567.13 119.00,568.30 C119.00,569.47 118.82,570.00 118.80,572.00 C118.78,574.00 118.90,578.30 118.90,580.30 C118.90,582.30 118.80,582.68 118.80,584.00 C118.80,585.32 118.90,586.87 118.90,588.20 C118.90,589.53 118.82,590.35 118.80,592.00 C118.78,593.65 118.68,595.73 118.80,598.10 C118.92,600.47 119.25,604.03 119.50,606.20 C119.75,608.37 119.77,609.47 120.30,611.10 C120.83,612.73 121.82,614.52 122.70,616.00 C123.58,617.48 124.85,618.65 125.60,620.00 C126.35,621.35 126.87,622.62 127.20,624.10 C127.53,625.58 127.60,627.28 127.60,628.90 C127.60,630.52 127.47,632.43 127.20,633.80 C126.93,635.17 126.29,636.40 126.00,637.10 C125.71,637.80 125.54,637.85 125.45,638.00 L111.35,638.00 C111.26,637.85 111.09,637.80 110.80,637.10 C110.51,636.40 109.87,635.17 109.60,633.80 C109.33,632.43 109.20,630.52 109.20,628.90 C109.20,627.28 109.27,625.58 109.60,624.10 C109.93,622.62 110.45,621.35 111.20,620.00 C111.95,618.65 113.22,617.48 114.10,616.00 C114.98,614.52 115.97,612.73 116.50,611.10 C117.03,609.47 117.05,608.37 117.30,606.20 C117.55,604.03 117.88,600.47 118.00,598.10 C118.12,595.73 118.02,593.65 118.00,592.00 C117.98,590.35 117.90,589.53 117.90,588.20 C117.90,586.87 118.00,585.32 118.00,584.00 C118.00,582.68 117.90,582.30 117.90,580.30 C117.90,578.30 118.02,574.00 118.00,572.00 C117.98,570.00 117.80,569.47 117.80,568.30 C117.80,567.13 117.97,569.72 118.00,565.00 C118.03,560.28 118.00,553.17 118.00,540.00 C118.00,526.83 118.08,495.78 118.00,486.00 C117.92,476.22 117.58,482.08 117.50,481.30 Z" fill="none" stroke="#000" stroke-width="3.0" stroke-linejoin="round"/>
<path d="M116.85,481.50a1.55,1.55 0 1,0 3.1,0a1.55,1.55 0 1,0 -3.1,0M116.85,568.30a1.55,1.55 0 1,0 3.1,0a1.55,1.55 0 1,0 -3.1,0M116.85,580.30a1.55,1.55 0 1,0 3.1,0a1.55,1.55 0 1,0 -3.1,0M116.85,588.20a1.55,1.55 0 1,0 3.1,0a1.55,1.55 0 1,0 -3.1,0M116.85,590.40a1.55,1.55 0 1,0 3.1,0a1.55,1.55 0 1,0 -3.1,0M112.55,604.20a1.55,1.55 0 1,0 3.1,0a1.55,1.55 0 1,0 -3.1,0M116.85,604.20a1.55,1.55 0 1,0 3.1,0a1.55,1.55 0 1,0 -3.1,0M121.15,603.40a1.55,1.55 0 1,0 3.1,0a1.55,1.55 0 1,0 -3.1,0M112.55,611.50a1.55,1.55 0 1,0 3.1,0a1.55,1.55 0 1,0 -3.1,0M121.15,609.90a1.55,1.55 0 1,0 3.1,0a1.55,1.55 0 1,0 -3.1,0M116.85,613.10a1.55,1.55 0 1,0 3.1,0a1.55,1.55 0 1,0 -3.1,0M112.55,615.10a1.55,1.55 0 1,0 3.1,0a1.55,1.55 0 1,0 -3.1,0M112.55,616.40a1.55,1.55 0 1,0 3.1,0a1.55,1.55 0 1,0 -3.1,0M120.95,617.20a1.55,1.55 0 1,0 3.1,0a1.55,1.55 0 1,0 -3.1,0M116.85,618.80a1.55,1.55 0 1,0 3.1,0a1.55,1.55 0 1,0 -3.1,0M104.35,625.80a1.55,1.55 0 1,0 3.1,0a1.55,1.55 0 1,0 -3.1,0M104.35,628.00a1.55,1.55 0 1,0 3.1,0a1.55,1.55 0 1,0 -3.1,0M104.35,630.20a1.55,1.55 0 1,0 3.1,0a1.55,1.55 0 1,0 -3.1,0M104.35,632.40a1.55,1.55 0 1,0 3.1,0a1.55,1.55 0 1,0 -3.1,0M104.35,634.40a1.55,1.55 0 1,0 3.1,0a1.55,1.55 0 1,0 -3.1,0M104.35,620.30a1.55,1.55 0 1,0 3.1,0a1.55,1.55 0 1,0 -3.1,0M108.25,622.00a1.55,1.55 0 1,0 3.1,0a1.55,1.55 0 1,0 -3.1,0M108.25,624.20a1.55,1.55 0 1,0 3.1,0a1.55,1.55 0 1,0 -3.1,0M108.25,626.40a1.55,1.55 0 1,0 3.1,0a1.55,1.55 0 1,0 -3.1,0M108.25,628.60a1.55,1.55 0 1,0 3.1,0a1.55,1.55 0 1,0 -3.1,0M108.25,630.80a1.55,1.55 0 1,0 3.1,0a1.55,1.55 0 1,0 -3.1,0M108.25,633.00a1.55,1.55 0 1,0 3.1,0a1.55,1.55 0 1,0 -3.1,0M108.25,635.20a1.55,1.55 0 1,0 3.1,0a1.55,1.55 0 1,0 -3.1,0M108.25,637.40a1.55,1.55 0 1,0 3.1,0a1.55,1.55 0 1,0 -3.1,0M108.25,639.00a1.55,1.55 0 1,0 3.1,0a1.55,1.55 0 1,0 -3.1,0M112.45,621.80a1.55,1.55 0 1,0 3.1,0a1.55,1.55 0 1,0 -3.1,0M112.45,624.00a1.55,1.55 0 1,0 3.1,0a1.55,1.55 0 1,0 -3.1,0M112.45,626.20a1.55,1.55 0 1,0 3.1,0a1.55,1.55 0 1,0 -3.1,0M112.45,628.40a1.55,1.55 0 1,0 3.1,0a1.55,1.55 0 1,0 -3.1,0M112.45,630.60a1.55,1.55 0 1,0 3.1,0a1.55,1.55 0 1,0 -3.1,0M112.45,632.80a1.55,1.55 0 1,0 3.1,0a1.55,1.55 0 1,0 -3.1,0M112.45,635.00a1.55,1.55 0 1,0 3.1,0a1.55,1.55 0 1,0 -3.1,0M112.45,637.20a1.55,1.55 0 1,0 3.1,0a1.55,1.55 0 1,0 -3.1,0M116.85,622.90a1.55,1.55 0 1,0 3.1,0a1.55,1.55 0 1,0 -3.1,0M116.85,627.60a1.55,1.55 0 1,0 3.1,0a1.55,1.55 0 1,0 -3.1,0M116.85,633.30a1.55,1.55 0 1,0 3.1,0a1.55,1.55 0 1,0 -3.1,0M116.85,638.50a1.55,1.55 0 1,0 3.1,0a1.55,1.55 0 1,0 -3.1,0M120.95,624.00a1.55,1.55 0 1,0 3.1,0a1.55,1.55 0 1,0 -3.1,0M120.95,625.50a1.55,1.55 0 1,0 3.1,0a1.55,1.55 0 1,0 -3.1,0M120.95,627.10a1.55,1.55 0 1,0 3.1,0a1.55,1.55 0 1,0 -3.1,0M120.95,631.20a1.55,1.55 0 1,0 3.1,0a1.55,1.55 0 1,0 -3.1,0M120.95,632.80a1.55,1.55 0 1,0 3.1,0a1.55,1.55 0 1,0 -3.1,0M120.95,634.30a1.55,1.55 0 1,0 3.1,0a1.55,1.55 0 1,0 -3.1,0M120.95,638.50a1.55,1.55 0 1,0 3.1,0a1.55,1.55 0 1,0 -3.1,0M125.15,626.00a1.55,1.55 0 1,0 3.1,0a1.55,1.55 0 1,0 -3.1,0M125.15,628.20a1.55,1.55 0 1,0 3.1,0a1.55,1.55 0 1,0 -3.1,0M125.15,630.40a1.55,1.55 0 1,0 3.1,0a1.55,1.55 0 1,0 -3.1,0M125.15,632.60a1.55,1.55 0 1,0 3.1,0a1.55,1.55 0 1,0 -3.1,0M125.15,634.80a1.55,1.55 0 1,0 3.1,0a1.55,1.55 0 1,0 -3.1,0M125.15,637.00a1.55,1.55 0 1,0 3.1,0a1.55,1.55 0 1,0 -3.1,0M125.15,639.00a1.55,1.55 0 1,0 3.1,0a1.55,1.55 0 1,0 -3.1,0M129.55,620.30a1.55,1.55 0 1,0 3.1,0a1.55,1.55 0 1,0 -3.1,0M129.55,626.60a1.55,1.55 0 1,0 3.1,0a1.55,1.55 0 1,0 -3.1,0M129.55,628.10a1.55,1.55 0 1,0 3.1,0a1.55,1.55 0 1,0 -3.1,0M129.55,629.70a1.55,1.55 0 1,0 3.1,0a1.55,1.55 0 1,0 -3.1,0M129.55,632.80a1.55,1.55 0 1,0 3.1,0a1.55,1.55 0 1,0 -3.1,0M129.55,637.50a1.55,1.55 0 1,0 3.1,0a1.55,1.55 0 1,0 -3.1,0" fill="#0000cc"/>
<path d="M159.70,515.50 C159.63,516.25 159.37,512.58 159.30,520.00 C159.23,527.42 159.30,551.33 159.30,560.00 C159.30,568.67 159.28,569.28 159.30,572.00 C159.32,574.72 159.40,574.97 159.40,576.30 C159.40,577.63 159.32,578.53 159.30,580.00 C159.28,581.47 159.25,582.58 159.30,585.10 C159.35,587.62 159.33,592.18 159.60,595.10 C159.87,598.02 160.42,600.08 160.90,602.60 C161.38,605.12 162.12,607.68 162.50,610.20 C162.88,612.72 162.68,615.62 163.20,617.70 C163.72,619.78 164.60,621.03 165.60,622.70 C166.60,624.37 168.43,626.23 169.20,627.70 C169.97,629.17 170.27,630.25 170.20,631.50 C170.13,632.75 169.43,634.17 168.80,635.20 C168.17,636.23 166.80,637.28 166.40,637.70 L151.40,637.70 C151.00,637.28 149.63,636.23 149.00,635.20 C148.37,634.17 147.67,632.75 147.60,631.50 C147.53,630.25 147.83,629.17 148.60,627.70 C149.37,626.23 151.20,624.37 152.20,622.70 C153.20,621.03 154.08,619.78 154.60,617.70 C155.12,615.62 154.92,612.72 155.30,610.20 C155.68,607.68 156.42,605.12 156.90,602.60 C157.38,600.08 157.93,598.02 158.20,595.10 C158.47,592.18 158.45,587.62 158.50,585.10 C158.55,582.58 158.52,581.47 158.50,580.00 C158.48,578.53 158.40,577.63 158.40,576.30 C158.40,574.97 158.48,574.72 158.50,572.00 C158.52,569.28 158.50,568.67 158.50,560.00 C158.50,551.33 158.57,527.42 158.50,520.00 C158.43,512.58 158.17,516.25 158.10,515.50 Z" fill="#fdeff2" stroke="none"/>
<path d="M156.60,612H158.80" stroke="#f01e23" stroke-width="1.8"/>
<path d="M148.74,634.5H149.50M156.60,634.5H158.80M165.90,634.5H168.10" stroke="#f01e23" stroke-width="1.8"/>
<path d="M149.03,627.1H154.30M163.50,627.1H168.77" stroke="#10b810" stroke-width="2.9"/>
<path d="M157.35,515.90a1.55,1.55 0 1,0 3.1,0a1.55,1.55 0 1,0 -3.1,0M157.35,575.70a1.55,1.55 0 1,0 3.1,0a1.55,1.55 0 1,0 -3.1,0M157.35,595.10a1.55,1.55 0 1,0 3.1,0a1.55,1.55 0 1,0 -3.1,0M153.35,603.30a1.55,1.55 0 1,0 3.1,0a1.55,1.55 0 1,0 -3.1,0M157.35,604.50a1.55,1.55 0 1,0 3.1,0a1.55,1.55 0 1,0 -3.1,0M161.75,608.30a1.55,1.55 0 1,0 3.1,0a1.55,1.55 0 1,0 -3.1,0M153.35,610.80a1.55,1.55 0 1,0 3.1,0a1.55,1.55 0 1,0 -3.1,0M157.35,610.80a1.55,1.55 0 1,0 3.1,0a1.55,1.55 0 1,0 -3.1,0M157.35,613.90a1.55,1.55 0 1,0 3.1,0a1.55,1.55 0 1,0 -3.1,0M157.35,617.70a1.55,1.55 0 1,0 3.1,0a1.55,1.55 0 1,0 -3.1,0M153.35,617.00a1.55,1.55 0 1,0 3.1,0a1.55,1.55 0 1,0 -3.1,0M153.35,620.80a1.55,1.55 0 1,0 3.1,0a1.55,1.55 0 1,0 -3.1,0M161.75,620.20a1.55,1.55 0 1,0 3.1,0a1.55,1.55 0 1,0 -3.1,0M157.35,624.60a1.55,1.55 0 1,0 3.1,0a1.55,1.55 0 1,0 -3.1,0M161.75,624.60a1.55,1.55 0 1,0 3.1,0a1.55,1.55 0 1,0 -3.1,0M152.85,627.10a1.55,1.55 0 1,0 3.1,0a1.55,1.55 0 1,0 -3.1,0M157.35,627.70a1.55,1.55 0 1,0 3.1,0a1.55,1.55 0 1,0 -3.1,0M161.75,627.70a1.55,1.55 0 1,0 3.1,0a1.55,1.55 0 1,0 -3.1,0M149.05,630.20a1.55,1.55 0 1,0 3.1,0a1.55,1.55 0 1,0 -3.1,0M152.85,631.50a1.55,1.55 0 1,0 3.1,0a1.55,1.55 0 1,0 -3.1,0M157.35,630.80a1.55,1.55 0 1,0 3.1,0a1.55,1.55 0 1,0 -3.1,0M161.75,630.20a1.55,1.55 0 1,0 3.1,0a1.55,1.55 0 1,0 -3.1,0M166.15,630.80a1.55,1.55 0 1,0 3.1,0a1.55,1.55 0 1,0 -3.1,0M149.05,634.00a1.55,1.55 0 1,0 3.1,0a1.55,1.55 0 1,0 -3.1,0M152.85,634.60a1.55,1.55 0 1,0 3.1,0a1.55,1.55 0 1,0 -3.1,0M157.35,634.00a1.55,1.55 0 1,0 3.1,0a1.55,1.55 0 1,0 -3.1,0M161.75,633.30a1.55,1.55 0 1,0 3.1,0a1.55,1.55 0 1,0 -3.1,0M166.15,634.00a1.55,1.55 0 1,0 3.1,0a1.55,1.55 0 1,0 -3.1,0M152.85,637.70a1.55,1.55 0 1,0 3.1,0a1.55,1.55 0 1,0 -3.1,0M161.75,637.10a1.55,1.55 0 1,0 3.1,0a1.55,1.55 0 1,0 -3.1,0" fill="#fff" stroke="#fff" stroke-width="0.8"/>
<path d="M159.70,515.50 C159.63,516.25 159.37,512.58 159.30,520.00 C159.23,527.42 159.30,551.33 159.30,560.00 C159.30,568.67 159.28,569.28 159.30,572.00 C159.32,574.72 159.40,574.97 159.40,576.30 C159.40,577.63 159.32,578.53 159.30,580.00 C159.28,581.47 159.25,582.58 159.30,585.10 C159.35,587.62 159.33,592.18 159.60,595.10 C159.87,598.02 160.42,600.08 160.90,602.60 C161.38,605.12 162.12,607.68 162.50,610.20 C162.88,612.72 162.68,615.62 163.20,617.70 C163.72,619.78 164.60,621.03 165.60,622.70 C166.60,624.37 168.43,626.23 169.20,627.70 C169.97,629.17 170.27,630.25 170.20,631.50 C170.13,632.75 169.43,634.17 168.80,635.20 C168.17,636.23 166.80,637.28 166.40,637.70 L151.40,637.70 C151.00,637.28 149.63,636.23 149.00,635.20 C148.37,634.17 147.67,632.75 147.60,631.50 C147.53,630.25 147.83,629.17 148.60,627.70 C149.37,626.23 151.20,624.37 152.20,622.70 C153.20,621.03 154.08,619.78 154.60,617.70 C155.12,615.62 154.92,612.72 155.30,610.20 C155.68,607.68 156.42,605.12 156.90,602.60 C157.38,600.08 157.93,598.02 158.20,595.10 C158.47,592.18 158.45,587.62 158.50,585.10 C158.55,582.58 158.52,581.47 158.50,580.00 C158.48,578.53 158.40,577.63 158.40,576.30 C158.40,574.97 158.48,574.72 158.50,572.00 C158.52,569.28 158.50,568.67 158.50,560.00 C158.50,551.33 158.57,527.42 158.50,520.00 C158.43,512.58 158.17,516.25 158.10,515.50 Z" fill="none" stroke="#000" stroke-width="3.0" stroke-linejoin="round"/>
<path d="M157.35,515.90a1.55,1.55 0 1,0 3.1,0a1.55,1.55 0 1,0 -3.1,0M157.35,575.70a1.55,1.55 0 1,0 3.1,0a1.55,1.55 0 1,0 -3.1,0M157.35,595.10a1.55,1.55 0 1,0 3.1,0a1.55,1.55 0 1,0 -3.1,0M153.35,603.30a1.55,1.55 0 1,0 3.1,0a1.55,1.55 0 1,0 -3.1,0M157.35,604.50a1.55,1.55 0 1,0 3.1,0a1.55,1.55 0 1,0 -3.1,0M161.75,608.30a1.55,1.55 0 1,0 3.1,0a1.55,1.55 0 1,0 -3.1,0M153.35,610.80a1.55,1.55 0 1,0 3.1,0a1.55,1.55 0 1,0 -3.1,0M157.35,610.80a1.55,1.55 0 1,0 3.1,0a1.55,1.55 0 1,0 -3.1,0M157.35,613.90a1.55,1.55 0 1,0 3.1,0a1.55,1.55 0 1,0 -3.1,0M157.35,617.70a1.55,1.55 0 1,0 3.1,0a1.55,1.55 0 1,0 -3.1,0M153.35,617.00a1.55,1.55 0 1,0 3.1,0a1.55,1.55 0 1,0 -3.1,0M153.35,620.80a1.55,1.55 0 1,0 3.1,0a1.55,1.55 0 1,0 -3.1,0M161.75,620.20a1.55,1.55 0 1,0 3.1,0a1.55,1.55 0 1,0 -3.1,0M157.35,624.60a1.55,1.55 0 1,0 3.1,0a1.55,1.55 0 1,0 -3.1,0M161.75,624.60a1.55,1.55 0 1,0 3.1,0a1.55,1.55 0 1,0 -3.1,0M152.85,627.10a1.55,1.55 0 1,0 3.1,0a1.55,1.55 0 1,0 -3.1,0M157.35,627.70a1.55,1.55 0 1,0 3.1,0a1.55,1.55 0 1,0 -3.1,0M161.75,627.70a1.55,1.55 0 1,0 3.1,0a1.55,1.55 0 1,0 -3.1,0M149.05,630.20a1.55,1.55 0 1,0 3.1,0a1.55,1.55 0 1,0 -3.1,0M152.85,631.50a1.55,1.55 0 1,0 3.1,0a1.55,1.55 0 1,0 -3.1,0M157.35,630.80a1.55,1.55 0 1,0 3.1,0a1.55,1.55 0 1,0 -3.1,0M161.75,630.20a1.55,1.55 0 1,0 3.1,0a1.55,1.55 0 1,0 -3.1,0M166.15,630.80a1.55,1.55 0 1,0 3.1,0a1.55,1.55 0 1,0 -3.1,0M149.05,634.00a1.55,1.55 0 1,0 3.1,0a1.55,1.55 0 1,0 -3.1,0M152.85,634.60a1.55,1.55 0 1,0 3.1,0a1.55,1.55 0 1,0 -3.1,0M157.35,634.00a1.55,1.55 0 1,0 3.1,0a1.55,1.55 0 1,0 -3.1,0M161.75,633.30a1.55,1.55 0 1,0 3.1,0a1.55,1.55 0 1,0 -3.1,0M166.15,634.00a1.55,1.55 0 1,0 3.1,0a1.55,1.55 0 1,0 -3.1,0M152.85,637.70a1.55,1.55 0 1,0 3.1,0a1.55,1.55 0 1,0 -3.1,0M161.75,637.10a1.55,1.55 0 1,0 3.1,0a1.55,1.55 0 1,0 -3.1,0" fill="#0000cc"/>
<path d="M351.40,515.70 C351.40,516.22 351.52,517.10 351.40,518.80 C351.28,520.50 350.78,523.53 350.70,525.90 C350.62,528.27 350.52,530.93 350.90,533.00 C351.28,535.07 352.37,536.38 353.00,538.30 C353.63,540.22 354.60,542.58 354.70,544.50 C354.80,546.42 354.00,548.03 353.60,549.80 C353.20,551.57 351.87,553.37 352.30,555.10 C352.73,556.83 354.95,558.65 356.20,560.20 C357.45,561.75 358.92,562.97 359.80,564.40 C360.68,565.83 361.43,567.32 361.50,568.80 C361.57,570.28 360.70,571.82 360.20,573.30 C359.70,574.78 359.17,576.08 358.50,577.70 C357.83,579.32 356.95,581.23 356.20,583.00 C355.45,584.77 354.65,586.53 354.00,588.30 C353.35,590.07 352.65,592.15 352.30,593.60 C351.95,595.05 351.97,596.43 351.90,597.00 L348.10,597.00 C348.03,596.43 348.05,595.05 347.70,593.60 C347.35,592.15 346.65,590.07 346.00,588.30 C345.35,586.53 344.55,584.77 343.80,583.00 C343.05,581.23 342.17,579.32 341.50,577.70 C340.83,576.08 340.30,574.78 339.80,573.30 C339.30,571.82 338.43,570.28 338.50,568.80 C338.57,567.32 339.32,565.83 340.20,564.40 C341.08,562.97 342.55,561.75 343.80,560.20 C345.05,558.65 347.27,556.83 347.70,555.10 C348.13,553.37 346.80,551.57 346.40,549.80 C346.00,548.03 345.20,546.42 345.30,544.50 C345.40,542.58 346.37,540.22 347.00,538.30 C347.63,536.38 348.72,535.07 349.10,533.00 C349.48,530.93 349.38,528.27 349.30,525.90 C349.22,523.53 348.72,520.50 348.60,518.80 C348.48,517.10 348.60,516.22 348.60,515.70 Z" fill="#fdeff2" stroke="none"/>
<path d="M347.70,562H349.90M357.00,562H357.74" stroke="#f01e23" stroke-width="1.8"/>
<path d="M347.70,581H349.90M357.00,581H357.07" stroke="#f01e23" stroke-width="1.8"/>
<path d="M338.50,568.8H345.40M354.60,568.8H361.50" stroke="#10b810" stroke-width="2.9"/>
<path d="M348.25,516.20a1.55,1.55 0 1,0 3.1,0a1.55,1.55 0 1,0 -3.1,0M348.25,521.90a1.55,1.55 0 1,0 3.1,0a1.55,1.55 0 1,0 -3.1,0M343.85,544.10a1.55,1.55 0 1,0 3.1,0a1.55,1.55 0 1,0 -3.1,0M352.65,541.00a1.55,1.55 0 1,0 3.1,0a1.55,1.55 0 1,0 -3.1,0M352.65,544.50a1.55,1.55 0 1,0 3.1,0a1.55,1.55 0 1,0 -3.1,0M348.45,545.40a1.55,1.55 0 1,0 3.1,0a1.55,1.55 0 1,0 -3.1,0M348.45,548.50a1.55,1.55 0 1,0 3.1,0a1.55,1.55 0 1,0 -3.1,0M348.45,551.60a1.55,1.55 0 1,0 3.1,0a1.55,1.55 0 1,0 -3.1,0M344.25,563.50a1.55,1.55 0 1,0 3.1,0a1.55,1.55 0 1,0 -3.1,0M352.25,562.70a1.55,1.55 0 1,0 3.1,0a1.55,1.55 0 1,0 -3.1,0M340.25,565.80a1.55,1.55 0 1,0 3.1,0a1.55,1.55 0 1,0 -3.1,0M340.25,568.00a1.55,1.55 0 1,0 3.1,0a1.55,1.55 0 1,0 -3.1,0M344.25,566.20a1.55,1.55 0 1,0 3.1,0a1.55,1.55 0 1,0 -3.1,0M344.25,568.40a1.55,1.55 0 1,0 3.1,0a1.55,1.55 0 1,0 -3.1,0M348.25,569.70a1.55,1.55 0 1,0 3.1,0a1.55,1.55 0 1,0 -3.1,0M348.25,572.40a1.55,1.55 0 1,0 3.1,0a1.55,1.55 0 1,0 -3.1,0M352.25,568.80a1.55,1.55 0 1,0 3.1,0a1.55,1.55 0 1,0 -3.1,0M356.65,568.40a1.55,1.55 0 1,0 3.1,0a1.55,1.55 0 1,0 -3.1,0M344.25,574.60a1.55,1.55 0 1,0 3.1,0a1.55,1.55 0 1,0 -3.1,0M352.25,573.70a1.55,1.55 0 1,0 3.1,0a1.55,1.55 0 1,0 -3.1,0M352.25,576.40a1.55,1.55 0 1,0 3.1,0a1.55,1.55 0 1,0 -3.1,0M348.25,577.70a1.55,1.55 0 1,0 3.1,0a1.55,1.55 0 1,0 -3.1,0M352.25,581.20a1.55,1.55 0 1,0 3.1,0a1.55,1.55 0 1,0 -3.1,0M344.25,582.60a1.55,1.55 0 1,0 3.1,0a1.55,1.55 0 1,0 -3.1,0M348.25,582.60a1.55,1.55 0 1,0 3.1,0a1.55,1.55 0 1,0 -3.1,0M348.25,586.50a1.55,1.55 0 1,0 3.1,0a1.55,1.55 0 1,0 -3.1,0M352.25,586.10a1.55,1.55 0 1,0 3.1,0a1.55,1.55 0 1,0 -3.1,0M348.25,592.30a1.55,1.55 0 1,0 3.1,0a1.55,1.55 0 1,0 -3.1,0M348.25,597.20a1.55,1.55 0 1,0 3.1,0a1.55,1.55 0 1,0 -3.1,0" fill="#fff" stroke="#fff" stroke-width="0.8"/>
<path d="M351.40,515.70 C351.40,516.22 351.52,517.10 351.40,518.80 C351.28,520.50 350.78,523.53 350.70,525.90 C350.62,528.27 350.52,530.93 350.90,533.00 C351.28,535.07 352.37,536.38 353.00,538.30 C353.63,540.22 354.60,542.58 354.70,544.50 C354.80,546.42 354.00,548.03 353.60,549.80 C353.20,551.57 351.87,553.37 352.30,555.10 C352.73,556.83 354.95,558.65 356.20,560.20 C357.45,561.75 358.92,562.97 359.80,564.40 C360.68,565.83 361.43,567.32 361.50,568.80 C361.57,570.28 360.70,571.82 360.20,573.30 C359.70,574.78 359.17,576.08 358.50,577.70 C357.83,579.32 356.95,581.23 356.20,583.00 C355.45,584.77 354.65,586.53 354.00,588.30 C353.35,590.07 352.65,592.15 352.30,593.60 C351.95,595.05 351.97,596.43 351.90,597.00 L348.10,597.00 C348.03,596.43 348.05,595.05 347.70,593.60 C347.35,592.15 346.65,590.07 346.00,588.30 C345.35,586.53 344.55,584.77 343.80,583.00 C343.05,581.23 342.17,579.32 341.50,577.70 C340.83,576.08 340.30,574.78 339.80,573.30 C339.30,571.82 338.43,570.28 338.50,568.80 C338.57,567.32 339.32,565.83 340.20,564.40 C341.08,562.97 342.55,561.75 343.80,560.20 C345.05,558.65 347.27,556.83 347.70,555.10 C348.13,553.37 346.80,551.57 346.40,549.80 C346.00,548.03 345.20,546.42 345.30,544.50 C345.40,542.58 346.37,540.22 347.00,538.30 C347.63,536.38 348.72,535.07 349.10,533.00 C349.48,530.93 349.38,528.27 349.30,525.90 C349.22,523.53 348.72,520.50 348.60,518.80 C348.48,517.10 348.60,516.22 348.60,515.70 Z" fill="none" stroke="#000" stroke-width="3.0" stroke-linejoin="round"/>
<path d="M348.25,516.20a1.55,1.55 0 1,0 3.1,0a1.55,1.55 0 1,0 -3.1,0M348.25,521.90a1.55,1.55 0 1,0 3.1,0a1.55,1.55 0 1,0 -3.1,0M343.85,544.10a1.55,1.55 0 1,0 3.1,0a1.55,1.55 0 1,0 -3.1,0M352.65,541.00a1.55,1.55 0 1,0 3.1,0a1.55,1.55 0 1,0 -3.1,0M352.65,544.50a1.55,1.55 0 1,0 3.1,0a1.55,1.55 0 1,0 -3.1,0M348.45,545.40a1.55,1.55 0 1,0 3.1,0a1.55,1.55 0 1,0 -3.1,0M348.45,548.50a1.55,1.55 0 1,0 3.1,0a1.55,1.55 0 1,0 -3.1,0M348.45,551.60a1.55,1.55 0 1,0 3.1,0a1.55,1.55 0 1,0 -3.1,0M344.25,563.50a1.55,1.55 0 1,0 3.1,0a1.55,1.55 0 1,0 -3.1,0M352.25,562.70a1.55,1.55 0 1,0 3.1,0a1.55,1.55 0 1,0 -3.1,0M340.25,565.80a1.55,1.55 0 1,0 3.1,0a1.55,1.55 0 1,0 -3.1,0M340.25,568.00a1.55,1.55 0 1,0 3.1,0a1.55,1.55 0 1,0 -3.1,0M344.25,566.20a1.55,1.55 0 1,0 3.1,0a1.55,1.55 0 1,0 -3.1,0M344.25,568.40a1.55,1.55 0 1,0 3.1,0a1.55,1.55 0 1,0 -3.1,0M348.25,569.70a1.55,1.55 0 1,0 3.1,0a1.55,1.55 0 1,0 -3.1,0M348.25,572.40a1.55,1.55 0 1,0 3.1,0a1.55,1.55 0 1,0 -3.1,0M352.25,568.80a1.55,1.55 0 1,0 3.1,0a1.55,1.55 0 1,0 -3.1,0M356.65,568.40a1.55,1.55 0 1,0 3.1,0a1.55,1.55 0 1,0 -3.1,0M344.25,574.60a1.55,1.55 0 1,0 3.1,0a1.55,1.55 0 1,0 -3.1,0M352.25,573.70a1.55,1.55 0 1,0 3.1,0a1.55,1.55 0 1,0 -3.1,0M352.25,576.40a1.55,1.55 0 1,0 3.1,0a1.55,1.55 0 1,0 -3.1,0M348.25,577.70a1.55,1.55 0 1,0 3.1,0a1.55,1.55 0 1,0 -3.1,0M352.25,581.20a1.55,1.55 0 1,0 3.1,0a1.55,1.55 0 1,0 -3.1,0M344.25,582.60a1.55,1.55 0 1,0 3.1,0a1.55,1.55 0 1,0 -3.1,0M348.25,582.60a1.55,1.55 0 1,0 3.1,0a1.55,1.55 0 1,0 -3.1,0M348.25,586.50a1.55,1.55 0 1,0 3.1,0a1.55,1.55 0 1,0 -3.1,0M352.25,586.10a1.55,1.55 0 1,0 3.1,0a1.55,1.55 0 1,0 -3.1,0M348.25,592.30a1.55,1.55 0 1,0 3.1,0a1.55,1.55 0 1,0 -3.1,0M348.25,597.20a1.55,1.55 0 1,0 3.1,0a1.55,1.55 0 1,0 -3.1,0" fill="#0000cc"/>
<path d="M392.10,483.90 C391.93,485.02 391.30,487.75 391.10,490.60 C390.90,493.45 390.85,498.23 390.90,501.00 C390.95,503.77 391.10,505.13 391.40,507.20 C391.70,509.27 392.42,511.00 392.70,513.40 C392.98,515.80 393.02,518.52 393.10,521.60 C393.18,524.68 393.15,529.62 393.20,531.90 C393.25,534.18 393.27,533.85 393.40,535.30 C393.53,536.75 393.43,538.83 394.00,540.60 C394.57,542.37 395.82,544.13 396.80,545.90 C397.78,547.67 399.13,549.43 399.90,551.20 C400.67,552.97 401.07,554.72 401.40,556.50 C401.73,558.28 401.85,560.12 401.90,561.90 C401.95,563.68 401.97,565.43 401.70,567.20 C401.43,568.97 400.82,570.73 400.30,572.50 C399.78,574.27 398.97,576.03 398.60,577.80 C398.23,579.57 398.55,581.27 398.10,583.10 C397.65,584.93 396.48,587.10 395.90,588.80 C395.32,590.50 394.87,591.82 394.60,593.30 C394.33,594.78 394.38,596.38 394.30,597.70 C394.22,599.02 394.15,600.42 394.10,601.20 C394.05,601.98 394.02,602.20 394.00,602.40 L387.00,602.40 C386.98,602.20 386.95,601.98 386.90,601.20 C386.85,600.42 386.78,599.02 386.70,597.70 C386.62,596.38 386.67,594.78 386.40,593.30 C386.13,591.82 385.68,590.50 385.10,588.80 C384.52,587.10 383.35,584.93 382.90,583.10 C382.45,581.27 382.77,579.57 382.40,577.80 C382.03,576.03 381.22,574.27 380.70,572.50 C380.18,570.73 379.57,568.97 379.30,567.20 C379.03,565.43 379.05,563.68 379.10,561.90 C379.15,560.12 379.27,558.28 379.60,556.50 C379.93,554.72 380.33,552.97 381.10,551.20 C381.87,549.43 383.22,547.67 384.20,545.90 C385.18,544.13 386.43,542.37 387.00,540.60 C387.57,538.83 387.47,536.75 387.60,535.30 C387.73,533.85 387.75,534.18 387.80,531.90 C387.85,529.62 387.82,524.68 387.90,521.60 C387.98,518.52 388.02,515.80 388.30,513.40 C388.58,511.00 389.30,509.27 389.60,507.20 C389.90,505.13 390.05,503.77 390.10,501.00 C390.15,498.23 390.10,493.45 389.90,490.60 C389.70,487.75 389.07,485.02 388.90,483.90 Z" fill="#fdeff2" stroke="none"/>
<path d="M388.20,550.8H390.40M397.50,550.8H399.67" stroke="#f01e23" stroke-width="1.8"/>
<path d="M388.20,578.7H390.40M397.50,578.7H398.52" stroke="#f01e23" stroke-width="1.8"/>
<path d="M379.18,564.1H385.90M395.10,564.1H401.82" stroke="#10b810" stroke-width="2.9"/>
<path d="M390.45,483.40a1.55,1.55 0 1,0 3.1,0a1.55,1.55 0 1,0 -3.1,0M390.85,513.40a1.55,1.55 0 1,0 3.1,0a1.55,1.55 0 1,0 -3.1,0M390.85,515.40a1.55,1.55 0 1,0 3.1,0a1.55,1.55 0 1,0 -3.1,0M390.85,519.60a1.55,1.55 0 1,0 3.1,0a1.55,1.55 0 1,0 -3.1,0M390.85,524.70a1.55,1.55 0 1,0 3.1,0a1.55,1.55 0 1,0 -3.1,0M390.85,527.30a1.55,1.55 0 1,0 3.1,0a1.55,1.55 0 1,0 -3.1,0M390.85,530.40a1.55,1.55 0 1,0 3.1,0a1.55,1.55 0 1,0 -3.1,0M386.65,534.40a1.55,1.55 0 1,0 3.1,0a1.55,1.55 0 1,0 -3.1,0M390.85,530.90a1.55,1.55 0 1,0 3.1,0a1.55,1.55 0 1,0 -3.1,0M386.65,541.50a1.55,1.55 0 1,0 3.1,0a1.55,1.55 0 1,0 -3.1,0M386.65,546.80a1.55,1.55 0 1,0 3.1,0a1.55,1.55 0 1,0 -3.1,0M390.85,546.40a1.55,1.55 0 1,0 3.1,0a1.55,1.55 0 1,0 -3.1,0M390.85,549.00a1.55,1.55 0 1,0 3.1,0a1.55,1.55 0 1,0 -3.1,0M382.45,550.80a1.55,1.55 0 1,0 3.1,0a1.55,1.55 0 1,0 -3.1,0M382.45,553.00a1.55,1.55 0 1,0 3.1,0a1.55,1.55 0 1,0 -3.1,0M386.65,552.60a1.55,1.55 0 1,0 3.1,0a1.55,1.55 0 1,0 -3.1,0M386.65,554.80a1.55,1.55 0 1,0 3.1,0a1.55,1.55 0 1,0 -3.1,0M386.65,557.00a1.55,1.55 0 1,0 3.1,0a1.55,1.55 0 1,0 -3.1,0M390.85,553.90a1.55,1.55 0 1,0 3.1,0a1.55,1.55 0 1,0 -3.1,0M390.85,556.10a1.55,1.55 0 1,0 3.1,0a1.55,1.55 0 1,0 -3.1,0M390.85,558.30a1.55,1.55 0 1,0 3.1,0a1.55,1.55 0 1,0 -3.1,0M394.85,553.50a1.55,1.55 0 1,0 3.1,0a1.55,1.55 0 1,0 -3.1,0M394.85,556.10a1.55,1.55 0 1,0 3.1,0a1.55,1.55 0 1,0 -3.1,0M386.65,561.00a1.55,1.55 0 1,0 3.1,0a1.55,1.55 0 1,0 -3.1,0M390.85,560.50a1.55,1.55 0 1,0 3.1,0a1.55,1.55 0 1,0 -3.1,0M394.85,561.00a1.55,1.55 0 1,0 3.1,0a1.55,1.55 0 1,0 -3.1,0M382.45,564.10a1.55,1.55 0 1,0 3.1,0a1.55,1.55 0 1,0 -3.1,0M386.65,565.40a1.55,1.55 0 1,0 3.1,0a1.55,1.55 0 1,0 -3.1,0M386.65,568.10a1.55,1.55 0 1,0 3.1,0a1.55,1.55 0 1,0 -3.1,0M390.85,563.60a1.55,1.55 0 1,0 3.1,0a1.55,1.55 0 1,0 -3.1,0M390.85,566.30a1.55,1.55 0 1,0 3.1,0a1.55,1.55 0 1,0 -3.1,0M390.85,568.90a1.55,1.55 0 1,0 3.1,0a1.55,1.55 0 1,0 -3.1,0M390.85,571.20a1.55,1.55 0 1,0 3.1,0a1.55,1.55 0 1,0 -3.1,0M394.85,567.20a1.55,1.55 0 1,0 3.1,0a1.55,1.55 0 1,0 -3.1,0M394.85,569.80a1.55,1.55 0 1,0 3.1,0a1.55,1.55 0 1,0 -3.1,0M382.45,568.90a1.55,1.55 0 1,0 3.1,0a1.55,1.55 0 1,0 -3.1,0M386.65,570.70a1.55,1.55 0 1,0 3.1,0a1.55,1.55 0 1,0 -3.1,0M386.65,573.40a1.55,1.55 0 1,0 3.1,0a1.55,1.55 0 1,0 -3.1,0M390.85,576.90a1.55,1.55 0 1,0 3.1,0a1.55,1.55 0 1,0 -3.1,0M390.85,579.60a1.55,1.55 0 1,0 3.1,0a1.55,1.55 0 1,0 -3.1,0M382.45,578.20a1.55,1.55 0 1,0 3.1,0a1.55,1.55 0 1,0 -3.1,0M382.45,580.90a1.55,1.55 0 1,0 3.1,0a1.55,1.55 0 1,0 -3.1,0M382.45,584.90a1.55,1.55 0 1,0 3.1,0a1.55,1.55 0 1,0 -3.1,0M386.65,581.30a1.55,1.55 0 1,0 3.1,0a1.55,1.55 0 1,0 -3.1,0M386.65,584.00a1.55,1.55 0 1,0 3.1,0a1.55,1.55 0 1,0 -3.1,0M390.85,585.80a1.55,1.55 0 1,0 3.1,0a1.55,1.55 0 1,0 -3.1,0M394.85,584.90a1.55,1.55 0 1,0 3.1,0a1.55,1.55 0 1,0 -3.1,0M382.45,585.30a1.55,1.55 0 1,0 3.1,0a1.55,1.55 0 1,0 -3.1,0M390.85,586.20a1.55,1.55 0 1,0 3.1,0a1.55,1.55 0 1,0 -3.1,0M394.85,585.30a1.55,1.55 0 1,0 3.1,0a1.55,1.55 0 1,0 -3.1,0M390.85,592.40a1.55,1.55 0 1,0 3.1,0a1.55,1.55 0 1,0 -3.1,0M386.65,595.90a1.55,1.55 0 1,0 3.1,0a1.55,1.55 0 1,0 -3.1,0M386.65,599.90a1.55,1.55 0 1,0 3.1,0a1.55,1.55 0 1,0 -3.1,0M390.85,600.80a1.55,1.55 0 1,0 3.1,0a1.55,1.55 0 1,0 -3.1,0M386.65,602.10a1.55,1.55 0 1,0 3.1,0a1.55,1.55 0 1,0 -3.1,0" fill="#fff" stroke="#fff" stroke-width="0.8"/>
<path d="M392.10,483.90 C391.93,485.02 391.30,487.75 391.10,490.60 C390.90,493.45 390.85,498.23 390.90,501.00 C390.95,503.77 391.10,505.13 391.40,507.20 C391.70,509.27 392.42,511.00 392.70,513.40 C392.98,515.80 393.02,518.52 393.10,521.60 C393.18,524.68 393.15,529.62 393.20,531.90 C393.25,534.18 393.27,533.85 393.40,535.30 C393.53,536.75 393.43,538.83 394.00,540.60 C394.57,542.37 395.82,544.13 396.80,545.90 C397.78,547.67 399.13,549.43 399.90,551.20 C400.67,552.97 401.07,554.72 401.40,556.50 C401.73,558.28 401.85,560.12 401.90,561.90 C401.95,563.68 401.97,565.43 401.70,567.20 C401.43,568.97 400.82,570.73 400.30,572.50 C399.78,574.27 398.97,576.03 398.60,577.80 C398.23,579.57 398.55,581.27 398.10,583.10 C397.65,584.93 396.48,587.10 395.90,588.80 C395.32,590.50 394.87,591.82 394.60,593.30 C394.33,594.78 394.38,596.38 394.30,597.70 C394.22,599.02 394.15,600.42 394.10,601.20 C394.05,601.98 394.02,602.20 394.00,602.40 L387.00,602.40 C386.98,602.20 386.95,601.98 386.90,601.20 C386.85,600.42 386.78,599.02 386.70,597.70 C386.62,596.38 386.67,594.78 386.40,593.30 C386.13,591.82 385.68,590.50 385.10,588.80 C384.52,587.10 383.35,584.93 382.90,583.10 C382.45,581.27 382.77,579.57 382.40,577.80 C382.03,576.03 381.22,574.27 380.70,572.50 C380.18,570.73 379.57,568.97 379.30,567.20 C379.03,565.43 379.05,563.68 379.10,561.90 C379.15,560.12 379.27,558.28 379.60,556.50 C379.93,554.72 380.33,552.97 381.10,551.20 C381.87,549.43 383.22,547.67 384.20,545.90 C385.18,544.13 386.43,542.37 387.00,540.60 C387.57,538.83 387.47,536.75 387.60,535.30 C387.73,533.85 387.75,534.18 387.80,531.90 C387.85,529.62 387.82,524.68 387.90,521.60 C387.98,518.52 388.02,515.80 388.30,513.40 C388.58,511.00 389.30,509.27 389.60,507.20 C389.90,505.13 390.05,503.77 390.10,501.00 C390.15,498.23 390.10,493.45 389.90,490.60 C389.70,487.75 389.07,485.02 388.90,483.90 Z" fill="none" stroke="#000" stroke-width="3.0" stroke-linejoin="round"/>
<path d="M390.45,483.40a1.55,1.55 0 1,0 3.1,0a1.55,1.55 0 1,0 -3.1,0M390.85,513.40a1.55,1.55 0 1,0 3.1,0a1.55,1.55 0 1,0 -3.1,0M390.85,515.40a1.55,1.55 0 1,0 3.1,0a1.55,1.55 0 1,0 -3.1,0M390.85,519.60a1.55,1.55 0 1,0 3.1,0a1.55,1.55 0 1,0 -3.1,0M390.85,524.70a1.55,1.55 0 1,0 3.1,0a1.55,1.55 0 1,0 -3.1,0M390.85,527.30a1.55,1.55 0 1,0 3.1,0a1.55,1.55 0 1,0 -3.1,0M390.85,530.40a1.55,1.55 0 1,0 3.1,0a1.55,1.55 0 1,0 -3.1,0M386.65,534.40a1.55,1.55 0 1,0 3.1,0a1.55,1.55 0 1,0 -3.1,0M390.85,530.90a1.55,1.55 0 1,0 3.1,0a1.55,1.55 0 1,0 -3.1,0M386.65,541.50a1.55,1.55 0 1,0 3.1,0a1.55,1.55 0 1,0 -3.1,0M386.65,546.80a1.55,1.55 0 1,0 3.1,0a1.55,1.55 0 1,0 -3.1,0M390.85,546.40a1.55,1.55 0 1,0 3.1,0a1.55,1.55 0 1,0 -3.1,0M390.85,549.00a1.55,1.55 0 1,0 3.1,0a1.55,1.55 0 1,0 -3.1,0M382.45,550.80a1.55,1.55 0 1,0 3.1,0a1.55,1.55 0 1,0 -3.1,0M382.45,553.00a1.55,1.55 0 1,0 3.1,0a1.55,1.55 0 1,0 -3.1,0M386.65,552.60a1.55,1.55 0 1,0 3.1,0a1.55,1.55 0 1,0 -3.1,0M386.65,554.80a1.55,1.55 0 1,0 3.1,0a1.55,1.55 0 1,0 -3.1,0M386.65,557.00a1.55,1.55 0 1,0 3.1,0a1.55,1.55 0 1,0 -3.1,0M390.85,553.90a1.55,1.55 0 1,0 3.1,0a1.55,1.55 0 1,0 -3.1,0M390.85,556.10a1.55,1.55 0 1,0 3.1,0a1.55,1.55 0 1,0 -3.1,0M390.85,558.30a1.55,1.55 0 1,0 3.1,0a1.55,1.55 0 1,0 -3.1,0M394.85,553.50a1.55,1.55 0 1,0 3.1,0a1.55,1.55 0 1,0 -3.1,0M394.85,556.10a1.55,1.55 0 1,0 3.1,0a1.55,1.55 0 1,0 -3.1,0M386.65,561.00a1.55,1.55 0 1,0 3.1,0a1.55,1.55 0 1,0 -3.1,0M390.85,560.50a1.55,1.55 0 1,0 3.1,0a1.55,1.55 0 1,0 -3.1,0M394.85,561.00a1.55,1.55 0 1,0 3.1,0a1.55,1.55 0 1,0 -3.1,0M382.45,564.10a1.55,1.55 0 1,0 3.1,0a1.55,1.55 0 1,0 -3.1,0M386.65,565.40a1.55,1.55 0 1,0 3.1,0a1.55,1.55 0 1,0 -3.1,0M386.65,568.10a1.55,1.55 0 1,0 3.1,0a1.55,1.55 0 1,0 -3.1,0M390.85,563.60a1.55,1.55 0 1,0 3.1,0a1.55,1.55 0 1,0 -3.1,0M390.85,566.30a1.55,1.55 0 1,0 3.1,0a1.55,1.55 0 1,0 -3.1,0M390.85,568.90a1.55,1.55 0 1,0 3.1,0a1.55,1.55 0 1,0 -3.1,0M390.85,571.20a1.55,1.55 0 1,0 3.1,0a1.55,1.55 0 1,0 -3.1,0M394.85,567.20a1.55,1.55 0 1,0 3.1,0a1.55,1.55 0 1,0 -3.1,0M394.85,569.80a1.55,1.55 0 1,0 3.1,0a1.55,1.55 0 1,0 -3.1,0M382.45,568.90a1.55,1.55 0 1,0 3.1,0a1.55,1.55 0 1,0 -3.1,0M386.65,570.70a1.55,1.55 0 1,0 3.1,0a1.55,1.55 0 1,0 -3.1,0M386.65,573.40a1.55,1.55 0 1,0 3.1,0a1.55,1.55 0 1,0 -3.1,0M390.85,576.90a1.55,1.55 0 1,0 3.1,0a1.55,1.55 0 1,0 -3.1,0M390.85,579.60a1.55,1.55 0 1,0 3.1,0a1.55,1.55 0 1,0 -3.1,0M382.45,578.20a1.55,1.55 0 1,0 3.1,0a1.55,1.55 0 1,0 -3.1,0M382.45,580.90a1.55,1.55 0 1,0 3.1,0a1.55,1.55 0 1,0 -3.1,0M382.45,584.90a1.55,1.55 0 1,0 3.1,0a1.55,1.55 0 1,0 -3.1,0M386.65,581.30a1.55,1.55 0 1,0 3.1,0a1.55,1.55 0 1,0 -3.1,0M386.65,584.00a1.55,1.55 0 1,0 3.1,0a1.55,1.55 0 1,0 -3.1,0M390.85,585.80a1.55,1.55 0 1,0 3.1,0a1.55,1.55 0 1,0 -3.1,0M394.85,584.90a1.55,1.55 0 1,0 3.1,0a1.55,1.55 0 1,0 -3.1,0M382.45,585.30a1.55,1.55 0 1,0 3.1,0a1.55,1.55 0 1,0 -3.1,0M390.85,586.20a1.55,1.55 0 1,0 3.1,0a1.55,1.55 0 1,0 -3.1,0M394.85,585.30a1.55,1.55 0 1,0 3.1,0a1.55,1.55 0 1,0 -3.1,0M390.85,592.40a1.55,1.55 0 1,0 3.1,0a1.55,1.55 0 1,0 -3.1,0M386.65,595.90a1.55,1.55 0 1,0 3.1,0a1.55,1.55 0 1,0 -3.1,0M386.65,599.90a1.55,1.55 0 1,0 3.1,0a1.55,1.55 0 1,0 -3.1,0M390.85,600.80a1.55,1.55 0 1,0 3.1,0a1.55,1.55 0 1,0 -3.1,0M386.65,602.10a1.55,1.55 0 1,0 3.1,0a1.55,1.55 0 1,0 -3.1,0" fill="#0000cc"/>
<path d="M435.00,511.10 C434.83,511.92 434.28,514.47 434.00,516.00 C433.72,517.53 433.40,518.70 433.30,520.30 C433.20,521.90 433.18,523.83 433.40,525.60 C433.62,527.37 433.97,529.13 434.60,530.90 C435.23,532.67 436.25,534.43 437.20,536.20 C438.15,537.97 439.45,539.72 440.30,541.50 C441.15,543.28 441.92,545.12 442.30,546.90 C442.68,548.68 442.78,550.43 442.60,552.20 C442.42,553.97 441.65,555.73 441.20,557.50 C440.75,559.27 440.35,561.03 439.90,562.80 C439.45,564.57 438.98,566.30 438.50,568.10 C438.02,569.90 437.25,571.90 437.00,573.60 C436.75,575.30 437.18,576.78 437.00,578.30 C436.82,579.82 436.45,581.23 435.90,582.70 C435.35,584.17 434.28,585.63 433.70,587.10 C433.12,588.57 432.64,589.68 432.40,591.50 C432.16,593.32 432.27,596.92 432.25,598.00 L429.75,598.00 C429.73,596.92 429.84,593.32 429.60,591.50 C429.36,589.68 428.88,588.57 428.30,587.10 C427.72,585.63 426.65,584.17 426.10,582.70 C425.55,581.23 425.18,579.82 425.00,578.30 C424.82,576.78 425.25,575.30 425.00,573.60 C424.75,571.90 423.98,569.90 423.50,568.10 C423.02,566.30 422.55,564.57 422.10,562.80 C421.65,561.03 421.25,559.27 420.80,557.50 C420.35,555.73 419.58,553.97 419.40,552.20 C419.22,550.43 419.32,548.68 419.70,546.90 C420.08,545.12 420.85,543.28 421.70,541.50 C422.55,539.72 423.85,537.97 424.80,536.20 C425.75,534.43 426.77,532.67 427.40,530.90 C428.03,529.13 428.38,527.37 428.60,525.60 C428.82,523.83 428.80,521.90 428.70,520.30 C428.60,518.70 428.28,517.53 428.00,516.00 C427.72,514.47 427.17,511.92 427.00,511.10 Z" fill="#fdeff2" stroke="none"/>
<path d="M421.03,543.3H421.60M428.70,543.3H430.90M438.00,543.3H440.20" stroke="#f01e23" stroke-width="1.8"/>
<path d="M428.70,566H430.90M438.00,566H439.05" stroke="#f01e23" stroke-width="1.8"/>
<path d="M419.64,553.1H426.40M435.60,553.1H442.36" stroke="#10b810" stroke-width="2.9"/>
<path d="M427.05,511.20a1.55,1.55 0 1,0 3.1,0a1.55,1.55 0 1,0 -3.1,0M431.45,511.20a1.55,1.55 0 1,0 3.1,0a1.55,1.55 0 1,0 -3.1,0M427.05,514.20a1.55,1.55 0 1,0 3.1,0a1.55,1.55 0 1,0 -3.1,0M427.05,524.00a1.55,1.55 0 1,0 3.1,0a1.55,1.55 0 1,0 -3.1,0M430.95,528.80a1.55,1.55 0 1,0 3.1,0a1.55,1.55 0 1,0 -3.1,0M431.45,529.60a1.55,1.55 0 1,0 3.1,0a1.55,1.55 0 1,0 -3.1,0M431.45,536.20a1.55,1.55 0 1,0 3.1,0a1.55,1.55 0 1,0 -3.1,0M431.45,538.50a1.55,1.55 0 1,0 3.1,0a1.55,1.55 0 1,0 -3.1,0M423.25,545.10a1.55,1.55 0 1,0 3.1,0a1.55,1.55 0 1,0 -3.1,0M427.35,543.80a1.55,1.55 0 1,0 3.1,0a1.55,1.55 0 1,0 -3.1,0M431.45,543.30a1.55,1.55 0 1,0 3.1,0a1.55,1.55 0 1,0 -3.1,0M431.45,546.00a1.55,1.55 0 1,0 3.1,0a1.55,1.55 0 1,0 -3.1,0M435.55,544.20a1.55,1.55 0 1,0 3.1,0a1.55,1.55 0 1,0 -3.1,0M419.05,551.30a1.55,1.55 0 1,0 3.1,0a1.55,1.55 0 1,0 -3.1,0M423.25,553.10a1.55,1.55 0 1,0 3.1,0a1.55,1.55 0 1,0 -3.1,0M427.35,553.50a1.55,1.55 0 1,0 3.1,0a1.55,1.55 0 1,0 -3.1,0M431.45,551.30a1.55,1.55 0 1,0 3.1,0a1.55,1.55 0 1,0 -3.1,0M435.55,553.90a1.55,1.55 0 1,0 3.1,0a1.55,1.55 0 1,0 -3.1,0M439.95,552.20a1.55,1.55 0 1,0 3.1,0a1.55,1.55 0 1,0 -3.1,0M427.35,558.40a1.55,1.55 0 1,0 3.1,0a1.55,1.55 0 1,0 -3.1,0M431.45,559.20a1.55,1.55 0 1,0 3.1,0a1.55,1.55 0 1,0 -3.1,0M427.35,561.90a1.55,1.55 0 1,0 3.1,0a1.55,1.55 0 1,0 -3.1,0M431.45,563.70a1.55,1.55 0 1,0 3.1,0a1.55,1.55 0 1,0 -3.1,0M427.35,564.60a1.55,1.55 0 1,0 3.1,0a1.55,1.55 0 1,0 -3.1,0M431.45,565.90a1.55,1.55 0 1,0 3.1,0a1.55,1.55 0 1,0 -3.1,0M427.35,568.10a1.55,1.55 0 1,0 3.1,0a1.55,1.55 0 1,0 -3.1,0M431.45,570.30a1.55,1.55 0 1,0 3.1,0a1.55,1.55 0 1,0 -3.1,0M427.35,568.50a1.55,1.55 0 1,0 3.1,0a1.55,1.55 0 1,0 -3.1,0M431.45,570.80a1.55,1.55 0 1,0 3.1,0a1.55,1.55 0 1,0 -3.1,0M431.45,576.90a1.55,1.55 0 1,0 3.1,0a1.55,1.55 0 1,0 -3.1,0M423.25,578.70a1.55,1.55 0 1,0 3.1,0a1.55,1.55 0 1,0 -3.1,0M427.35,578.30a1.55,1.55 0 1,0 3.1,0a1.55,1.55 0 1,0 -3.1,0M427.35,581.40a1.55,1.55 0 1,0 3.1,0a1.55,1.55 0 1,0 -3.1,0M427.35,585.40a1.55,1.55 0 1,0 3.1,0a1.55,1.55 0 1,0 -3.1,0M427.75,598.60a1.55,1.55 0 1,0 3.1,0a1.55,1.55 0 1,0 -3.1,0" fill="#fff" stroke="#fff" stroke-width="0.8"/>
<path d="M435.00,511.10 C434.83,511.92 434.28,514.47 434.00,516.00 C433.72,517.53 433.40,518.70 433.30,520.30 C433.20,521.90 433.18,523.83 433.40,525.60 C433.62,527.37 433.97,529.13 434.60,530.90 C435.23,532.67 436.25,534.43 437.20,536.20 C438.15,537.97 439.45,539.72 440.30,541.50 C441.15,543.28 441.92,545.12 442.30,546.90 C442.68,548.68 442.78,550.43 442.60,552.20 C442.42,553.97 441.65,555.73 441.20,557.50 C440.75,559.27 440.35,561.03 439.90,562.80 C439.45,564.57 438.98,566.30 438.50,568.10 C438.02,569.90 437.25,571.90 437.00,573.60 C436.75,575.30 437.18,576.78 437.00,578.30 C436.82,579.82 436.45,581.23 435.90,582.70 C435.35,584.17 434.28,585.63 433.70,587.10 C433.12,588.57 432.64,589.68 432.40,591.50 C432.16,593.32 432.27,596.92 432.25,598.00 L429.75,598.00 C429.73,596.92 429.84,593.32 429.60,591.50 C429.36,589.68 428.88,588.57 428.30,587.10 C427.72,585.63 426.65,584.17 426.10,582.70 C425.55,581.23 425.18,579.82 425.00,578.30 C424.82,576.78 425.25,575.30 425.00,573.60 C424.75,571.90 423.98,569.90 423.50,568.10 C423.02,566.30 422.55,564.57 422.10,562.80 C421.65,561.03 421.25,559.27 420.80,557.50 C420.35,555.73 419.58,553.97 419.40,552.20 C419.22,550.43 419.32,548.68 419.70,546.90 C420.08,545.12 420.85,543.28 421.70,541.50 C422.55,539.72 423.85,537.97 424.80,536.20 C425.75,534.43 426.77,532.67 427.40,530.90 C428.03,529.13 428.38,527.37 428.60,525.60 C428.82,523.83 428.80,521.90 428.70,520.30 C428.60,518.70 428.28,517.53 428.00,516.00 C427.72,514.47 427.17,511.92 427.00,511.10 Z" fill="none" stroke="#000" stroke-width="3.0" stroke-linejoin="round"/>
<path d="M427.05,511.20a1.55,1.55 0 1,0 3.1,0a1.55,1.55 0 1,0 -3.1,0M431.45,511.20a1.55,1.55 0 1,0 3.1,0a1.55,1.55 0 1,0 -3.1,0M427.05,514.20a1.55,1.55 0 1,0 3.1,0a1.55,1.55 0 1,0 -3.1,0M427.05,524.00a1.55,1.55 0 1,0 3.1,0a1.55,1.55 0 1,0 -3.1,0M430.95,528.80a1.55,1.55 0 1,0 3.1,0a1.55,1.55 0 1,0 -3.1,0M431.45,529.60a1.55,1.55 0 1,0 3.1,0a1.55,1.55 0 1,0 -3.1,0M431.45,536.20a1.55,1.55 0 1,0 3.1,0a1.55,1.55 0 1,0 -3.1,0M431.45,538.50a1.55,1.55 0 1,0 3.1,0a1.55,1.55 0 1,0 -3.1,0M423.25,545.10a1.55,1.55 0 1,0 3.1,0a1.55,1.55 0 1,0 -3.1,0M427.35,543.80a1.55,1.55 0 1,0 3.1,0a1.55,1.55 0 1,0 -3.1,0M431.45,543.30a1.55,1.55 0 1,0 3.1,0a1.55,1.55 0 1,0 -3.1,0M431.45,546.00a1.55,1.55 0 1,0 3.1,0a1.55,1.55 0 1,0 -3.1,0M435.55,544.20a1.55,1.55 0 1,0 3.1,0a1.55,1.55 0 1,0 -3.1,0M419.05,551.30a1.55,1.55 0 1,0 3.1,0a1.55,1.55 0 1,0 -3.1,0M423.25,553.10a1.55,1.55 0 1,0 3.1,0a1.55,1.55 0 1,0 -3.1,0M427.35,553.50a1.55,1.55 0 1,0 3.1,0a1.55,1.55 0 1,0 -3.1,0M431.45,551.30a1.55,1.55 0 1,0 3.1,0a1.55,1.55 0 1,0 -3.1,0M435.55,553.90a1.55,1.55 0 1,0 3.1,0a1.55,1.55 0 1,0 -3.1,0M439.95,552.20a1.55,1.55 0 1,0 3.1,0a1.55,1.55 0 1,0 -3.1,0M427.35,558.40a1.55,1.55 0 1,0 3.1,0a1.55,1.55 0 1,0 -3.1,0M431.45,559.20a1.55,1.55 0 1,0 3.1,0a1.55,1.55 0 1,0 -3.1,0M427.35,561.90a1.55,1.55 0 1,0 3.1,0a1.55,1.55 0 1,0 -3.1,0M431.45,563.70a1.55,1.55 0 1,0 3.1,0a1.55,1.55 0 1,0 -3.1,0M427.35,564.60a1.55,1.55 0 1,0 3.1,0a1.55,1.55 0 1,0 -3.1,0M431.45,565.90a1.55,1.55 0 1,0 3.1,0a1.55,1.55 0 1,0 -3.1,0M427.35,568.10a1.55,1.55 0 1,0 3.1,0a1.55,1.55 0 1,0 -3.1,0M431.45,570.30a1.55,1.55 0 1,0 3.1,0a1.55,1.55 0 1,0 -3.1,0M427.35,568.50a1.55,1.55 0 1,0 3.1,0a1.55,1.55 0 1,0 -3.1,0M431.45,570.80a1.55,1.55 0 1,0 3.1,0a1.55,1.55 0 1,0 -3.1,0M431.45,576.90a1.55,1.55 0 1,0 3.1,0a1.55,1.55 0 1,0 -3.1,0M423.25,578.70a1.55,1.55 0 1,0 3.1,0a1.55,1.55 0 1,0 -3.1,0M427.35,578.30a1.55,1.55 0 1,0 3.1,0a1.55,1.55 0 1,0 -3.1,0M427.35,581.40a1.55,1.55 0 1,0 3.1,0a1.55,1.55 0 1,0 -3.1,0M427.35,585.40a1.55,1.55 0 1,0 3.1,0a1.55,1.55 0 1,0 -3.1,0M427.75,598.60a1.55,1.55 0 1,0 3.1,0a1.55,1.55 0 1,0 -3.1,0" fill="#0000cc"/>
</svg>
</body></html>
